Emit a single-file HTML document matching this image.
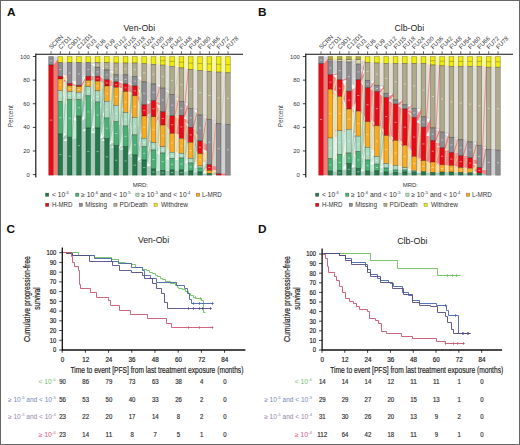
<!DOCTYPE html>
<html><head><meta charset="utf-8"><style>
html,body{margin:0;padding:0;background:#fff;}
body{width:520px;height:445px;overflow:hidden;}
svg{display:block;font-family:"Liberation Sans",sans-serif;}
</style></head><body>
<svg width="520" height="445" viewBox="0 0 520 445">
<rect x="0.5" y="0.5" width="519" height="444" fill="#fff" stroke="#666" stroke-width="1"/>
<polygon points="53.3,56.5 58.02,56.5 58.02,59 53.3,65" fill="#ddd8e6"/>
<polygon points="53.3,65 58.02,59 58.02,175.2 53.3,175.2" fill="#f07c76"/>
<g>
<polygon points="62.62,56.5 67.33,56.5 67.33,62.6 62.62,62.6" fill="#f9f79f" stroke="#f6f470" stroke-width="0.3"/>
<polygon points="62.62,62.6 67.33,62.6 67.33,74.94 62.62,74.94" fill="#d2d1d2" stroke="#bbbabb" stroke-width="0.3"/>
<polygon points="62.62,74.96 67.33,85.8 67.33,85.86 62.62,75.03" fill="#d2d1d2"/>
<polygon points="62.62,75.03 67.33,91.6 67.33,91.69 62.62,75.11" fill="#d2d1d2"/>
<polygon points="62.62,75.11 67.33,99.3 67.33,100.06 62.62,75.87" fill="#d2d1d2" stroke="#bbbabb" stroke-width="0.3"/>
<polygon points="62.62,75.87 67.33,137.2 67.33,137.63 62.62,76.3" fill="#d2d1d2" stroke="#bbbabb" stroke-width="0.3"/>
<polygon points="62.62,76.3 67.33,74.94 67.33,75.19 62.62,76.55" fill="#f5848a"/>
<polygon points="62.62,76.55 67.33,83.53 67.33,85.49 62.62,78.51" fill="#f5848a" stroke="#f0474f" stroke-width="0.3"/>
<polygon points="62.62,78.57 67.33,100.06 67.33,100.34 62.62,78.85" fill="#f5848a"/>
<polygon points="62.62,78.85 67.33,137.63 67.33,137.78 62.62,79" fill="#f5848a"/>
<polygon points="62.62,79 67.33,75.19 67.33,77.4 62.62,81.21" fill="#fddda5" stroke="#fccc78" stroke-width="0.3"/>
<polygon points="62.62,81.21 67.33,85.49 67.33,85.57 62.62,81.29" fill="#fddda5"/>
<polygon points="62.62,81.29 67.33,85.89 67.33,91.03 62.62,86.43" fill="#fddda5" stroke="#fccc78" stroke-width="0.3"/>
<polygon points="62.62,86.43 67.33,91.72 67.33,91.99 62.62,86.71" fill="#fddda5"/>
<polygon points="62.62,86.71 67.33,100.34 67.33,102.77 62.62,89.14" fill="#fddda5" stroke="#fccc78" stroke-width="0.3"/>
<polygon points="62.62,89.14 67.33,137.78 67.33,139.14 62.62,90.5" fill="#fddda5" stroke="#fccc78" stroke-width="0.3"/>
<polygon points="62.62,90.5 67.33,77.4 67.33,78.86 62.62,91.96" fill="#e6f4ec" stroke="#d9efe2" stroke-width="0.3"/>
<polygon points="62.62,91.96 67.33,85.57 67.33,85.63 62.62,92.02" fill="#e6f4ec"/>
<polygon points="62.62,92.02 67.33,91.03 67.33,91.16 62.62,92.16" fill="#e6f4ec"/>
<polygon points="62.62,92.16 67.33,91.99 67.33,98.72 62.62,98.88" fill="#e6f4ec" stroke="#d9efe2" stroke-width="0.3"/>
<polygon points="62.62,98.88 67.33,102.77 67.33,104.38 62.62,100.5" fill="#e6f4ec" stroke="#d9efe2" stroke-width="0.3"/>
<polygon points="62.62,100.5 67.33,139.14 67.33,140.04 62.62,101.4" fill="#e6f4ec" stroke="#d9efe2" stroke-width="0.3"/>
<polygon points="62.62,101.4 67.33,78.86 67.33,80.51 62.62,103.04" fill="#c8e8d6" stroke="#addcc1" stroke-width="0.3"/>
<polygon points="62.62,103.04 67.33,85.63 67.33,85.69 62.62,103.11" fill="#c8e8d6"/>
<polygon points="62.62,103.11 67.33,91.16 67.33,91.32 62.62,103.26" fill="#c8e8d6"/>
<polygon points="62.62,103.26 67.33,98.72 67.33,98.93 62.62,103.47" fill="#c8e8d6"/>
<polygon points="62.62,103.47 67.33,104.38 67.33,133.9 62.62,132.99" fill="#c8e8d6" stroke="#addcc1" stroke-width="0.3"/>
<polygon points="62.62,132.99 67.33,140.04 67.33,141.06 62.62,134" fill="#c8e8d6" stroke="#addcc1" stroke-width="0.3"/>
<polygon points="62.62,134 67.33,80.51 67.33,83.5 62.62,136.99" fill="#abccbb" stroke="#82b399" stroke-width="0.3"/>
<polygon points="62.62,136.99 67.33,85.69 67.33,85.8 62.62,137.11" fill="#abccbb"/>
<polygon points="62.62,137.11 67.33,91.32 67.33,91.6 62.62,137.39" fill="#abccbb"/>
<polygon points="62.62,137.39 67.33,98.93 67.33,99.3 62.62,137.76" fill="#abccbb"/>
<polygon points="62.62,137.76 67.33,133.9 67.33,137.2 62.62,141.06" fill="#abccbb" stroke="#82b399" stroke-width="0.3"/>
<polygon points="62.62,141.06 67.33,141.06 67.33,175.2 62.62,175.2" fill="#abccbb" stroke="#82b399" stroke-width="0.3"/>
<polygon points="71.93,56.5 76.65,56.5 76.65,62.6 71.93,62.6" fill="#f9f79f" stroke="#f6f470" stroke-width="0.3"/>
<polygon points="71.93,62.6 76.65,62.6 76.65,80.79 71.93,80.79" fill="#d2d1d2" stroke="#bbbabb" stroke-width="0.3"/>
<polygon points="71.93,80.81 76.65,86.7 76.65,86.77 71.93,80.88" fill="#d2d1d2"/>
<polygon points="71.93,80.88 76.65,92.3 76.65,92.39 71.93,80.97" fill="#d2d1d2"/>
<polygon points="71.93,80.97 76.65,99.3 76.65,99.52 71.93,81.19" fill="#d2d1d2"/>
<polygon points="71.93,81.19 76.65,116.1 76.65,118.41 71.93,83.5" fill="#d2d1d2" stroke="#bbbabb" stroke-width="0.3"/>
<polygon points="71.93,83.5 76.65,80.79 76.65,80.94 71.93,83.65" fill="#f5848a"/>
<polygon points="71.93,83.65 76.65,85.32 76.65,86.51 71.93,84.85" fill="#f5848a" stroke="#f0474f" stroke-width="0.3"/>
<polygon points="71.93,84.9 76.65,99.52 76.65,99.59 71.93,84.98" fill="#f5848a"/>
<polygon points="71.93,84.98 76.65,118.41 76.65,119.23 71.93,85.8" fill="#f5848a" stroke="#f0474f" stroke-width="0.3"/>
<polygon points="71.93,85.8 76.65,80.94 76.65,81.08 71.93,85.94" fill="#fddda5"/>
<polygon points="71.93,85.95 76.65,86.8 76.65,91.58 71.93,90.73" fill="#fddda5" stroke="#fccc78" stroke-width="0.3"/>
<polygon points="71.93,90.76 76.65,99.59 76.65,99.67 71.93,90.83" fill="#fddda5"/>
<polygon points="71.93,90.83 76.65,119.23 76.65,120 71.93,91.6" fill="#fddda5" stroke="#fccc78" stroke-width="0.3"/>
<polygon points="71.93,91.6 76.65,81.08 76.65,81.32 71.93,91.84" fill="#e6f4ec"/>
<polygon points="71.93,91.89 76.65,92.45 76.65,98.45 71.93,97.89" fill="#e6f4ec" stroke="#d9efe2" stroke-width="0.3"/>
<polygon points="71.93,97.89 76.65,99.67 76.65,99.79 71.93,98.01" fill="#e6f4ec"/>
<polygon points="71.93,98.01 76.65,120 76.65,121.29 71.93,99.3" fill="#e6f4ec" stroke="#d9efe2" stroke-width="0.3"/>
<polygon points="71.93,99.3 76.65,81.32 76.65,84.53 71.93,102.51" fill="#c8e8d6" stroke="#addcc1" stroke-width="0.3"/>
<polygon points="71.93,102.51 76.65,86.53 76.65,86.67 71.93,102.64" fill="#c8e8d6"/>
<polygon points="71.93,102.64 76.65,91.62 76.65,92.17 71.93,103.19" fill="#c8e8d6" stroke="#addcc1" stroke-width="0.3"/>
<polygon points="71.93,103.19 76.65,98.45 76.65,99.14 71.93,103.87" fill="#c8e8d6" stroke="#addcc1" stroke-width="0.3"/>
<polygon points="71.93,103.87 76.65,99.79 76.65,115.7 71.93,119.79" fill="#c8e8d6" stroke="#addcc1" stroke-width="0.3"/>
<polygon points="71.93,119.79 76.65,121.29 76.65,138.7 71.93,137.2" fill="#c8e8d6" stroke="#addcc1" stroke-width="0.3"/>
<polygon points="71.93,137.2 76.65,84.53 76.65,85.3 71.93,137.97" fill="#abccbb" stroke="#82b399" stroke-width="0.3"/>
<polygon points="71.93,138.01 76.65,92.17 76.65,92.3 71.93,138.14" fill="#abccbb"/>
<polygon points="71.93,138.14 76.65,99.14 76.65,99.3 71.93,138.3" fill="#abccbb"/>
<polygon points="71.93,138.3 76.65,115.7 76.65,116.1 71.93,138.7" fill="#abccbb"/>
<polygon points="71.93,138.7 76.65,138.7 76.65,175.2 71.93,175.2" fill="#abccbb" stroke="#82b399" stroke-width="0.3"/>
<polygon points="81.25,56.5 85.96,56.5 85.96,62.6 81.25,62.6" fill="#f9f79f" stroke="#f6f470" stroke-width="0.3"/>
<polygon points="81.25,62.6 85.96,62.6 85.96,74.9 81.25,74.9" fill="#d2d1d2" stroke="#bbbabb" stroke-width="0.3"/>
<polygon points="81.25,74.9 85.96,76.3 85.96,77.26 81.25,75.86" fill="#d2d1d2" stroke="#bbbabb" stroke-width="0.3"/>
<polygon points="81.25,75.86 85.96,80.5 85.96,80.96 81.25,76.32" fill="#d2d1d2" stroke="#bbbabb" stroke-width="0.3"/>
<polygon points="81.25,76.32 85.96,86.7 85.96,87.7 81.25,77.32" fill="#d2d1d2" stroke="#bbbabb" stroke-width="0.3"/>
<polygon points="81.25,77.32 85.96,95.8 85.96,101.52 81.25,83.04" fill="#d2d1d2" stroke="#bbbabb" stroke-width="0.3"/>
<polygon points="81.25,83.04 85.96,128 85.96,130.26 81.25,85.3" fill="#d2d1d2" stroke="#bbbabb" stroke-width="0.3"/>
<polygon points="81.25,85.31 85.96,77.26 85.96,78.47 81.25,86.52" fill="#f5848a" stroke="#f0474f" stroke-width="0.3"/>
<polygon points="81.25,86.55 85.96,101.52 85.96,101.63 81.25,86.66" fill="#f5848a"/>
<polygon points="81.25,86.75 85.96,78.47 85.96,78.54 81.25,86.82" fill="#fddda5"/>
<polygon points="81.25,86.82 85.96,80.97 85.96,85.76 81.25,91.62" fill="#fddda5" stroke="#fccc78" stroke-width="0.3"/>
<polygon points="81.25,91.62 85.96,87.72 85.96,87.8 81.25,91.69" fill="#fddda5"/>
<polygon points="81.25,91.69 85.96,101.63 85.96,102.06 81.25,92.13" fill="#fddda5" stroke="#fccc78" stroke-width="0.3"/>
<polygon points="81.25,92.13 85.96,130.3 85.96,130.47 81.25,92.3" fill="#fddda5"/>
<polygon points="81.25,92.3 85.96,74.96 85.96,75.03 81.25,92.36" fill="#e6f4ec"/>
<polygon points="81.25,92.36 85.96,78.54 85.96,78.63 81.25,92.45" fill="#e6f4ec"/>
<polygon points="81.25,92.5 85.96,87.8 85.96,93.85 81.25,98.54" fill="#e6f4ec" stroke="#d9efe2" stroke-width="0.3"/>
<polygon points="81.25,98.54 85.96,102.06 85.96,102.6 81.25,99.09" fill="#e6f4ec" stroke="#d9efe2" stroke-width="0.3"/>
<polygon points="81.25,99.09 85.96,130.47 85.96,130.69 81.25,99.3" fill="#e6f4ec"/>
<polygon points="81.25,99.3 85.96,75.03 85.96,75.17 81.25,99.45" fill="#c8e8d6"/>
<polygon points="81.25,99.45 85.96,78.63 85.96,78.85 81.25,99.67" fill="#c8e8d6"/>
<polygon points="81.25,99.67 85.96,85.81 85.96,85.91 81.25,99.77" fill="#c8e8d6"/>
<polygon points="81.25,99.77 85.96,93.85 85.96,94.07 81.25,100" fill="#c8e8d6"/>
<polygon points="81.25,100 85.96,102.6 85.96,118.19 81.25,115.59" fill="#c8e8d6" stroke="#addcc1" stroke-width="0.3"/>
<polygon points="81.25,115.59 85.96,130.69 85.96,131.2 81.25,116.1" fill="#c8e8d6" stroke="#addcc1" stroke-width="0.3"/>
<polygon points="81.25,116.1 85.96,75.17 85.96,76.3 81.25,117.23" fill="#abccbb" stroke="#82b399" stroke-width="0.3"/>
<polygon points="81.25,117.23 85.96,78.85 85.96,80.5 81.25,118.87" fill="#abccbb" stroke="#82b399" stroke-width="0.3"/>
<polygon points="81.25,118.87 85.96,85.91 85.96,86.7 81.25,119.66" fill="#abccbb" stroke="#82b399" stroke-width="0.3"/>
<polygon points="81.25,119.66 85.96,94.07 85.96,95.8 81.25,121.39" fill="#abccbb" stroke="#82b399" stroke-width="0.3"/>
<polygon points="81.25,121.39 85.96,118.19 85.96,128 81.25,131.2" fill="#abccbb" stroke="#82b399" stroke-width="0.3"/>
<polygon points="81.25,131.2 85.96,131.2 85.96,175.2 81.25,175.2" fill="#abccbb" stroke="#82b399" stroke-width="0.3"/>
<polygon points="90.56,56.5 95.28,56.5 95.28,62.6 90.56,62.6" fill="#f9f79f" stroke="#f6f470" stroke-width="0.3"/>
<polygon points="90.56,62.6 95.28,62.6 95.28,63.76 90.56,63.76" fill="#d2d1d2" stroke="#bbbabb" stroke-width="0.3"/>
<polygon points="90.56,63.76 95.28,67.5 95.28,75.29 90.56,71.55" fill="#d2d1d2" stroke="#bbbabb" stroke-width="0.3"/>
<polygon points="90.56,71.55 95.28,76.3 95.28,76.61 90.56,71.86" fill="#d2d1d2"/>
<polygon points="90.56,71.86 95.28,81.2 95.28,82.25 90.56,72.91" fill="#d2d1d2" stroke="#bbbabb" stroke-width="0.3"/>
<polygon points="90.56,72.91 95.28,90.9 95.28,91.7 90.56,73.71" fill="#d2d1d2" stroke="#bbbabb" stroke-width="0.3"/>
<polygon points="90.56,73.71 95.28,102 95.28,102.92 90.56,74.63" fill="#d2d1d2" stroke="#bbbabb" stroke-width="0.3"/>
<polygon points="90.56,74.63 95.28,128 95.28,129.67 90.56,76.3" fill="#d2d1d2" stroke="#bbbabb" stroke-width="0.3"/>
<polygon points="90.56,76.3 95.28,63.76 95.28,63.88 90.56,76.42" fill="#f5848a"/>
<polygon points="90.56,76.45 95.28,76.61 95.28,80.22 90.56,80.05" fill="#f5848a" stroke="#f0474f" stroke-width="0.3"/>
<polygon points="90.56,80.05 95.28,82.25 95.28,82.35 90.56,80.16" fill="#f5848a"/>
<polygon points="90.56,80.16 95.28,91.7 95.28,91.78 90.56,80.24" fill="#f5848a"/>
<polygon points="90.56,80.24 95.28,102.92 95.28,103.01 90.56,80.33" fill="#f5848a"/>
<polygon points="90.56,80.33 95.28,129.67 95.28,129.84 90.56,80.5" fill="#f5848a"/>
<polygon points="90.56,80.5 95.28,63.88 95.28,64.05 90.56,80.67" fill="#fddda5"/>
<polygon points="90.56,80.77 95.28,82.35 95.28,87.78 90.56,86.19" fill="#fddda5" stroke="#fccc78" stroke-width="0.3"/>
<polygon points="90.56,86.19 95.28,91.78 95.28,91.89 90.56,86.31" fill="#fddda5"/>
<polygon points="90.56,86.31 95.28,103.01 95.28,103.15 90.56,86.45" fill="#fddda5"/>
<polygon points="90.56,86.45 95.28,129.84 95.28,130.09 90.56,86.7" fill="#fddda5"/>
<polygon points="90.56,86.7 95.28,64.05 95.28,64.3 90.56,86.95" fill="#e6f4ec"/>
<polygon points="90.56,86.95 95.28,75.37 95.28,75.44 90.56,87.02" fill="#e6f4ec"/>
<polygon points="90.56,87.02 95.28,80.26 95.28,80.33 90.56,87.09" fill="#e6f4ec"/>
<polygon points="90.56,87.09 95.28,87.78 95.28,88.01 90.56,87.32" fill="#e6f4ec"/>
<polygon points="90.56,87.32 95.28,91.89 95.28,99.8 90.56,95.23" fill="#e6f4ec" stroke="#d9efe2" stroke-width="0.3"/>
<polygon points="90.56,95.23 95.28,103.15 95.28,103.35 90.56,95.43" fill="#e6f4ec"/>
<polygon points="90.56,95.43 95.28,130.09 95.28,130.46 90.56,95.8" fill="#e6f4ec"/>
<polygon points="90.56,95.8 95.28,64.3 95.28,66.18 90.56,97.68" fill="#c8e8d6" stroke="#addcc1" stroke-width="0.3"/>
<polygon points="90.56,97.68 95.28,75.44 95.28,75.94 90.56,98.19" fill="#c8e8d6" stroke="#addcc1" stroke-width="0.3"/>
<polygon points="90.56,98.19 95.28,80.33 95.28,80.84 90.56,98.7" fill="#c8e8d6" stroke="#addcc1" stroke-width="0.3"/>
<polygon points="90.56,98.7 95.28,88.01 95.28,89.71 90.56,100.4" fill="#c8e8d6" stroke="#addcc1" stroke-width="0.3"/>
<polygon points="90.56,100.4 95.28,99.8 95.28,101.09 90.56,101.69" fill="#c8e8d6" stroke="#addcc1" stroke-width="0.3"/>
<polygon points="90.56,101.69 95.28,103.35 95.28,126.95 90.56,125.28" fill="#c8e8d6" stroke="#addcc1" stroke-width="0.3"/>
<polygon points="90.56,125.28 95.28,130.46 95.28,133.18 90.56,128" fill="#c8e8d6" stroke="#addcc1" stroke-width="0.3"/>
<polygon points="90.56,128 95.28,66.18 95.28,67.5 90.56,129.32" fill="#abccbb" stroke="#82b399" stroke-width="0.3"/>
<polygon points="90.56,129.32 95.28,75.94 95.28,76.3 90.56,129.67" fill="#abccbb"/>
<polygon points="90.56,129.67 95.28,80.84 95.28,81.2 90.56,130.03" fill="#abccbb"/>
<polygon points="90.56,130.03 95.28,89.71 95.28,90.9 90.56,131.22" fill="#abccbb" stroke="#82b399" stroke-width="0.3"/>
<polygon points="90.56,131.22 95.28,101.09 95.28,102 90.56,132.13" fill="#abccbb" stroke="#82b399" stroke-width="0.3"/>
<polygon points="90.56,132.13 95.28,126.95 95.28,128 90.56,133.18" fill="#abccbb" stroke="#82b399" stroke-width="0.3"/>
<polygon points="90.56,133.18 95.28,133.18 95.28,175.2 90.56,175.2" fill="#abccbb" stroke="#82b399" stroke-width="0.3"/>
<polygon points="99.88,56.5 104.59,56.5 104.59,62.6 99.88,62.6" fill="#f9f79f" stroke="#f6f470" stroke-width="0.3"/>
<polygon points="99.88,62.6 104.59,62.6 104.59,67.5 99.88,67.5" fill="#e2e0d6" stroke="#d4d1c1" stroke-width="0.3"/>
<polygon points="99.88,67.5 104.59,67.5 104.59,67.61 99.88,67.61" fill="#d2d1d2"/>
<polygon points="99.88,67.61 104.59,70 104.59,77.58 99.88,75.19" fill="#d2d1d2" stroke="#bbbabb" stroke-width="0.3"/>
<polygon points="99.88,75.19 104.59,79.8 104.59,79.89 99.88,75.28" fill="#d2d1d2"/>
<polygon points="99.88,75.28 104.59,86 104.59,86.32 99.88,75.6" fill="#d2d1d2"/>
<polygon points="99.88,75.6 104.59,101.4 104.59,101.72 99.88,75.92" fill="#d2d1d2"/>
<polygon points="99.88,75.92 104.59,118 104.59,118.14 99.88,76.06" fill="#d2d1d2"/>
<polygon points="99.88,76.06 104.59,138.4 104.59,138.64 99.88,76.3" fill="#d2d1d2"/>
<polygon points="99.88,76.3 104.59,67.61 104.59,67.67 99.88,76.36" fill="#f5848a"/>
<polygon points="99.88,76.36 104.59,77.58 104.59,77.64 99.88,76.42" fill="#f5848a"/>
<polygon points="99.88,76.42 104.59,79.89 104.59,84.11 99.88,80.63" fill="#f5848a" stroke="#f0474f" stroke-width="0.3"/>
<polygon points="99.88,80.63 104.59,86.32 104.59,86.49 99.88,80.81" fill="#f5848a"/>
<polygon points="99.88,80.81 104.59,101.72 104.59,101.89 99.88,80.99" fill="#f5848a"/>
<polygon points="99.88,80.99 104.59,118.14 104.59,118.21 99.88,81.06" fill="#f5848a"/>
<polygon points="99.88,81.06 104.59,138.64 104.59,138.78 99.88,81.2" fill="#f5848a"/>
<polygon points="99.88,81.2 104.59,67.67 104.59,67.79 99.88,81.32" fill="#fddda5"/>
<polygon points="99.88,81.32 104.59,77.64 104.59,77.75 99.88,81.44" fill="#fddda5"/>
<polygon points="99.88,81.44 104.59,84.11 104.59,84.21 99.88,81.54" fill="#fddda5"/>
<polygon points="99.88,81.54 104.59,86.49 104.59,95.09 99.88,90.13" fill="#fddda5" stroke="#fccc78" stroke-width="0.3"/>
<polygon points="99.88,90.13 104.59,101.89 104.59,102.25 99.88,90.48" fill="#fddda5"/>
<polygon points="99.88,90.48 104.59,118.21 104.59,118.36 99.88,90.63" fill="#fddda5"/>
<polygon points="99.88,90.63 104.59,138.78 104.59,139.05 99.88,90.9" fill="#fddda5"/>
<polygon points="99.88,90.9 104.59,67.79 104.59,67.93 99.88,91.04" fill="#e6f4ec"/>
<polygon points="99.88,91.04 104.59,77.75 104.59,77.88 99.88,91.17" fill="#e6f4ec"/>
<polygon points="99.88,91.17 104.59,84.21 104.59,84.32 99.88,91.28" fill="#e6f4ec"/>
<polygon points="99.88,91.28 104.59,95.09 104.59,95.49 99.88,91.68" fill="#e6f4ec" stroke="#d9efe2" stroke-width="0.3"/>
<polygon points="99.88,91.68 104.59,102.25 104.59,112.08 99.88,101.52" fill="#e6f4ec" stroke="#d9efe2" stroke-width="0.3"/>
<polygon points="99.88,101.52 104.59,118.36 104.59,118.53 99.88,101.69" fill="#e6f4ec"/>
<polygon points="99.88,101.69 104.59,139.05 104.59,139.36 99.88,102" fill="#e6f4ec"/>
<polygon points="99.88,102 104.59,67.93 104.59,68.66 99.88,102.73" fill="#c8e8d6" stroke="#addcc1" stroke-width="0.3"/>
<polygon points="99.88,102.73 104.59,77.88 104.59,78.56 99.88,103.4" fill="#c8e8d6" stroke="#addcc1" stroke-width="0.3"/>
<polygon points="99.88,103.4 104.59,84.32 104.59,84.91 99.88,104" fill="#c8e8d6" stroke="#addcc1" stroke-width="0.3"/>
<polygon points="99.88,104 104.59,95.49 104.59,97.57 99.88,106.08" fill="#c8e8d6" stroke="#addcc1" stroke-width="0.3"/>
<polygon points="99.88,106.08 104.59,112.08 104.59,114.17 99.88,108.16" fill="#c8e8d6" stroke="#addcc1" stroke-width="0.3"/>
<polygon points="99.88,108.16 104.59,118.53 104.59,136.76 99.88,126.39" fill="#c8e8d6" stroke="#addcc1" stroke-width="0.3"/>
<polygon points="99.88,126.39 104.59,139.36 104.59,140.97 99.88,128" fill="#c8e8d6" stroke="#addcc1" stroke-width="0.3"/>
<polygon points="99.88,128 104.59,68.66 104.59,70 99.88,129.34" fill="#abccbb" stroke="#82b399" stroke-width="0.3"/>
<polygon points="99.88,129.34 104.59,78.56 104.59,79.8 99.88,130.58" fill="#abccbb" stroke="#82b399" stroke-width="0.3"/>
<polygon points="99.88,130.58 104.59,84.91 104.59,86 99.88,131.67" fill="#abccbb" stroke="#82b399" stroke-width="0.3"/>
<polygon points="99.88,131.67 104.59,97.57 104.59,101.4 99.88,135.5" fill="#abccbb" stroke="#82b399" stroke-width="0.3"/>
<polygon points="99.88,135.5 104.59,114.17 104.59,118 99.88,139.33" fill="#abccbb" stroke="#82b399" stroke-width="0.3"/>
<polygon points="99.88,139.33 104.59,136.76 104.59,138.4 99.88,140.97" fill="#abccbb" stroke="#82b399" stroke-width="0.3"/>
<polygon points="99.88,140.97 104.59,140.97 104.59,175.2 99.88,175.2" fill="#abccbb" stroke="#82b399" stroke-width="0.3"/>
<polygon points="109.19,56.5 113.91,56.5 113.91,62.6 109.19,62.6" fill="#f9f79f" stroke="#f6f470" stroke-width="0.3"/>
<polygon points="109.19,62.6 113.91,63 113.91,70.4 109.19,70" fill="#e2e0d6" stroke="#d4d1c1" stroke-width="0.3"/>
<polygon points="109.19,70 113.91,62.6 113.91,62.66 109.19,70.06" fill="#d2d1d2"/>
<polygon points="109.19,70.06 113.91,70.4 113.91,71.09 109.19,70.76" fill="#d2d1d2" stroke="#bbbabb" stroke-width="0.3"/>
<polygon points="109.19,70.76 113.91,74.9 113.91,81.01 109.19,76.87" fill="#d2d1d2" stroke="#bbbabb" stroke-width="0.3"/>
<polygon points="109.19,76.87 113.91,81.9 113.91,82.03 109.19,77" fill="#d2d1d2"/>
<polygon points="109.19,77 113.91,87.4 113.91,88.17 109.19,77.77" fill="#d2d1d2" stroke="#bbbabb" stroke-width="0.3"/>
<polygon points="109.19,77.77 113.91,105.5 113.91,105.87 109.19,78.14" fill="#d2d1d2"/>
<polygon points="109.19,78.14 113.91,121.7 113.91,122.67 109.19,79.11" fill="#d2d1d2" stroke="#bbbabb" stroke-width="0.3"/>
<polygon points="109.19,79.11 113.91,145.3 113.91,145.99 109.19,79.8" fill="#d2d1d2" stroke="#bbbabb" stroke-width="0.3"/>
<polygon points="109.19,79.82 113.91,71.09 113.91,71.37 109.19,80.1" fill="#f5848a"/>
<polygon points="109.19,80.1 113.91,81.01 113.91,81.08 109.19,80.16" fill="#f5848a"/>
<polygon points="109.19,80.16 113.91,82.03 113.91,86.75 109.19,84.89" fill="#f5848a" stroke="#f0474f" stroke-width="0.3"/>
<polygon points="109.19,84.89 113.91,88.17 113.91,88.48 109.19,85.2" fill="#f5848a"/>
<polygon points="109.19,85.2 113.91,105.87 113.91,106.02 109.19,85.34" fill="#f5848a"/>
<polygon points="109.19,85.34 113.91,122.67 113.91,123.05 109.19,85.73" fill="#f5848a"/>
<polygon points="109.19,85.73 113.91,145.99 113.91,146.27 109.19,86" fill="#f5848a"/>
<polygon points="109.19,86.04 113.91,71.37 113.91,71.79 109.19,86.45" fill="#fddda5" stroke="#fccc78" stroke-width="0.3"/>
<polygon points="109.19,86.45 113.91,81.08 113.91,81.17 109.19,86.55" fill="#fddda5"/>
<polygon points="109.19,86.55 113.91,86.75 113.91,86.83 109.19,86.63" fill="#fddda5"/>
<polygon points="109.19,86.63 113.91,88.48 113.91,102.03 109.19,100.18" fill="#fddda5" stroke="#fccc78" stroke-width="0.3"/>
<polygon points="109.19,100.18 113.91,106.02 113.91,106.25 109.19,100.41" fill="#fddda5"/>
<polygon points="109.19,100.41 113.91,123.05 113.91,123.63 109.19,100.98" fill="#fddda5" stroke="#fccc78" stroke-width="0.3"/>
<polygon points="109.19,100.98 113.91,146.27 113.91,146.68 109.19,101.4" fill="#fddda5" stroke="#fccc78" stroke-width="0.3"/>
<polygon points="109.19,101.45 113.91,71.79 113.91,72.3 109.19,101.96" fill="#e6f4ec" stroke="#d9efe2" stroke-width="0.3"/>
<polygon points="109.19,101.96 113.91,81.17 113.91,81.29 109.19,102.07" fill="#e6f4ec"/>
<polygon points="109.19,102.07 113.91,86.83 113.91,86.92 109.19,102.17" fill="#e6f4ec"/>
<polygon points="109.19,102.17 113.91,102.03 113.91,102.6 109.19,102.74" fill="#e6f4ec" stroke="#d9efe2" stroke-width="0.3"/>
<polygon points="109.19,102.74 113.91,106.25 113.91,120.29 109.19,116.78" fill="#e6f4ec" stroke="#d9efe2" stroke-width="0.3"/>
<polygon points="109.19,116.78 113.91,123.63 113.91,124.34 109.19,117.49" fill="#e6f4ec" stroke="#d9efe2" stroke-width="0.3"/>
<polygon points="109.19,117.49 113.91,146.68 113.91,147.19 109.19,118" fill="#e6f4ec" stroke="#d9efe2" stroke-width="0.3"/>
<polygon points="109.19,118.05 113.91,72.3 113.91,72.85 109.19,118.6" fill="#c8e8d6" stroke="#addcc1" stroke-width="0.3"/>
<polygon points="109.19,118.6 113.91,81.29 113.91,81.42 109.19,118.73" fill="#c8e8d6"/>
<polygon points="109.19,118.73 113.91,86.92 113.91,87.02 109.19,118.83" fill="#c8e8d6"/>
<polygon points="109.19,118.83 113.91,102.6 113.91,103.21 109.19,119.44" fill="#c8e8d6" stroke="#addcc1" stroke-width="0.3"/>
<polygon points="109.19,119.44 113.91,120.29 113.91,120.59 109.19,119.74" fill="#c8e8d6"/>
<polygon points="109.19,119.74 113.91,124.34 113.91,142.44 109.19,137.85" fill="#c8e8d6" stroke="#addcc1" stroke-width="0.3"/>
<polygon points="109.19,137.85 113.91,147.19 113.91,147.74 109.19,138.4" fill="#c8e8d6" stroke="#addcc1" stroke-width="0.3"/>
<polygon points="109.19,138.4 113.91,62.82 113.91,63 109.19,138.58" fill="#abccbb"/>
<polygon points="109.19,138.58 113.91,72.85 113.91,74.9 109.19,140.64" fill="#abccbb" stroke="#82b399" stroke-width="0.3"/>
<polygon points="109.19,140.64 113.91,81.42 113.91,81.9 109.19,141.11" fill="#abccbb" stroke="#82b399" stroke-width="0.3"/>
<polygon points="109.19,141.11 113.91,87.02 113.91,87.4 109.19,141.49" fill="#abccbb"/>
<polygon points="109.19,141.49 113.91,103.21 113.91,105.5 109.19,143.78" fill="#abccbb" stroke="#82b399" stroke-width="0.3"/>
<polygon points="109.19,143.78 113.91,120.59 113.91,121.7 109.19,144.88" fill="#abccbb" stroke="#82b399" stroke-width="0.3"/>
<polygon points="109.19,144.88 113.91,142.44 113.91,145.3 109.19,147.74" fill="#abccbb" stroke="#82b399" stroke-width="0.3"/>
<polygon points="109.19,147.74 113.91,147.74 113.91,175.2 109.19,175.2" fill="#abccbb" stroke="#82b399" stroke-width="0.3"/>
<polygon points="118.51,56.5 123.23,56.5 123.23,63 118.51,63" fill="#f9f79f" stroke="#f6f470" stroke-width="0.3"/>
<polygon points="118.51,63 123.23,63 123.23,74.9 118.51,74.9" fill="#e2e0d6" stroke="#d4d1c1" stroke-width="0.3"/>
<polygon points="118.51,74.9 123.23,74.9 123.23,81.01 118.51,81.01" fill="#d2d1d2" stroke="#bbbabb" stroke-width="0.3"/>
<polygon points="118.51,81.01 123.23,84 123.23,84.15 118.51,81.15" fill="#d2d1d2"/>
<polygon points="118.51,81.15 123.23,91.6 123.23,91.88 118.51,81.43" fill="#d2d1d2"/>
<polygon points="118.51,81.43 123.23,112.5 123.23,112.6 118.51,81.53" fill="#d2d1d2"/>
<polygon points="118.51,81.53 123.23,126 123.23,126.16 118.51,81.69" fill="#d2d1d2"/>
<polygon points="118.51,81.69 123.23,146.7 123.23,146.91 118.51,81.9" fill="#d2d1d2"/>
<polygon points="118.51,81.9 123.23,81.01 123.23,81.13 118.51,82.02" fill="#f5848a"/>
<polygon points="118.51,82.02 123.23,84.15 123.23,88.94 118.51,86.81" fill="#f5848a" stroke="#f0474f" stroke-width="0.3"/>
<polygon points="118.51,86.81 123.23,91.88 123.23,92.09 118.51,87.03" fill="#f5848a"/>
<polygon points="118.51,87.03 123.23,112.6 123.23,112.68 118.51,87.11" fill="#f5848a"/>
<polygon points="118.51,87.11 123.23,126.16 123.23,126.28 118.51,87.23" fill="#f5848a"/>
<polygon points="118.51,87.23 123.23,146.91 123.23,147.08 118.51,87.4" fill="#f5848a"/>
<polygon points="118.51,87.4 123.23,81.13 123.23,81.54 118.51,87.81" fill="#fddda5" stroke="#fccc78" stroke-width="0.3"/>
<polygon points="118.51,87.81 123.23,88.94 123.23,89.31 118.51,88.19" fill="#fddda5"/>
<polygon points="118.51,88.19 123.23,92.09 123.23,108.19 118.51,104.28" fill="#fddda5" stroke="#fccc78" stroke-width="0.3"/>
<polygon points="118.51,104.28 123.23,112.68 123.23,112.94 118.51,104.55" fill="#fddda5"/>
<polygon points="118.51,104.55 123.23,126.28 123.23,126.68 118.51,104.95" fill="#fddda5" stroke="#fccc78" stroke-width="0.3"/>
<polygon points="118.51,104.95 123.23,147.08 123.23,147.63 118.51,105.5" fill="#fddda5" stroke="#fccc78" stroke-width="0.3"/>
<polygon points="118.51,105.5 123.23,81.54 123.23,82.25 118.51,106.21" fill="#e6f4ec" stroke="#d9efe2" stroke-width="0.3"/>
<polygon points="118.51,106.21 123.23,89.31 123.23,89.97 118.51,106.87" fill="#e6f4ec" stroke="#d9efe2" stroke-width="0.3"/>
<polygon points="118.51,106.87 123.23,108.19 123.23,109.43 118.51,108.11" fill="#e6f4ec" stroke="#d9efe2" stroke-width="0.3"/>
<polygon points="118.51,108.11 123.23,112.94 123.23,124.87 118.51,120.04" fill="#e6f4ec" stroke="#d9efe2" stroke-width="0.3"/>
<polygon points="118.51,120.04 123.23,126.68 123.23,127.38 118.51,120.74" fill="#e6f4ec" stroke="#d9efe2" stroke-width="0.3"/>
<polygon points="118.51,120.74 123.23,147.63 123.23,148.6 118.51,121.7" fill="#e6f4ec" stroke="#d9efe2" stroke-width="0.3"/>
<polygon points="118.51,121.7 123.23,82.25 123.23,83.15 118.51,122.6" fill="#c8e8d6" stroke="#addcc1" stroke-width="0.3"/>
<polygon points="118.51,122.6 123.23,89.97 123.23,90.81 118.51,123.44" fill="#c8e8d6" stroke="#addcc1" stroke-width="0.3"/>
<polygon points="118.51,123.44 123.23,109.43 123.23,111.01 118.51,125.01" fill="#c8e8d6" stroke="#addcc1" stroke-width="0.3"/>
<polygon points="118.51,125.01 123.23,124.87 123.23,125.45 118.51,125.59" fill="#c8e8d6" stroke="#addcc1" stroke-width="0.3"/>
<polygon points="118.51,125.59 123.23,127.38 123.23,145.86 118.51,144.08" fill="#c8e8d6" stroke="#addcc1" stroke-width="0.3"/>
<polygon points="118.51,144.08 123.23,148.6 123.23,149.82 118.51,145.3" fill="#c8e8d6" stroke="#addcc1" stroke-width="0.3"/>
<polygon points="118.51,145.3 123.23,83.15 123.23,84 118.51,146.15" fill="#abccbb" stroke="#82b399" stroke-width="0.3"/>
<polygon points="118.51,146.15 123.23,90.81 123.23,91.6 118.51,146.94" fill="#abccbb" stroke="#82b399" stroke-width="0.3"/>
<polygon points="118.51,146.94 123.23,111.01 123.23,112.5 118.51,148.43" fill="#abccbb" stroke="#82b399" stroke-width="0.3"/>
<polygon points="118.51,148.43 123.23,125.45 123.23,126 118.51,148.98" fill="#abccbb" stroke="#82b399" stroke-width="0.3"/>
<polygon points="118.51,148.98 123.23,145.86 123.23,146.7 118.51,149.82" fill="#abccbb" stroke="#82b399" stroke-width="0.3"/>
<polygon points="118.51,149.82 123.23,149.82 123.23,175.2 118.51,175.2" fill="#abccbb" stroke="#82b399" stroke-width="0.3"/>
<polygon points="127.83,56.5 132.54,56.5 132.54,63 127.83,63" fill="#f9f79f" stroke="#f6f470" stroke-width="0.3"/>
<polygon points="127.83,63 132.54,63 132.54,74.9 127.83,74.9" fill="#e2e0d6" stroke="#d4d1c1" stroke-width="0.3"/>
<polygon points="127.83,74.9 132.54,74.9 132.54,74.98 127.83,74.98" fill="#d2d1d2"/>
<polygon points="127.83,74.98 132.54,76.3 132.54,84.15 127.83,82.84" fill="#d2d1d2" stroke="#bbbabb" stroke-width="0.3"/>
<polygon points="127.83,82.84 132.54,86 132.54,86.2 127.83,83.04" fill="#d2d1d2"/>
<polygon points="127.83,83.04 132.54,95.8 132.54,96.04 127.83,83.28" fill="#d2d1d2"/>
<polygon points="127.83,83.28 132.54,117.5 132.54,117.86 127.83,83.64" fill="#d2d1d2"/>
<polygon points="127.83,83.64 132.54,134.9 132.54,135.08 127.83,83.82" fill="#d2d1d2"/>
<polygon points="127.83,83.82 132.54,155 132.54,155.18 127.83,84" fill="#d2d1d2"/>
<polygon points="127.83,84 132.54,74.98 132.54,75.06 127.83,84.07" fill="#f5848a"/>
<polygon points="127.83,84.07 132.54,84.15 132.54,84.25 127.83,84.17" fill="#f5848a"/>
<polygon points="127.83,84.17 132.54,86.2 132.54,92.83 127.83,90.8" fill="#f5848a" stroke="#f0474f" stroke-width="0.3"/>
<polygon points="127.83,90.8 132.54,96.04 132.54,96.24 127.83,91" fill="#f5848a"/>
<polygon points="127.83,91 132.54,117.86 132.54,118.16 127.83,91.3" fill="#f5848a"/>
<polygon points="127.83,91.3 132.54,135.08 132.54,135.23 127.83,91.45" fill="#f5848a"/>
<polygon points="127.83,91.45 132.54,155.18 132.54,155.34 127.83,91.6" fill="#f5848a"/>
<polygon points="127.83,91.6 132.54,75.06 132.54,75.25 127.83,91.79" fill="#fddda5"/>
<polygon points="127.83,91.79 132.54,84.25 132.54,84.53 127.83,92.07" fill="#fddda5"/>
<polygon points="127.83,92.07 132.54,92.83 132.54,93.29 127.83,92.53" fill="#fddda5" stroke="#fccc78" stroke-width="0.3"/>
<polygon points="127.83,92.53 132.54,96.24 132.54,114.55 127.83,110.84" fill="#fddda5" stroke="#fccc78" stroke-width="0.3"/>
<polygon points="127.83,110.84 132.54,118.16 132.54,118.98 127.83,111.66" fill="#fddda5" stroke="#fccc78" stroke-width="0.3"/>
<polygon points="127.83,111.66 132.54,135.23 132.54,135.65 127.83,112.08" fill="#fddda5" stroke="#fccc78" stroke-width="0.3"/>
<polygon points="127.83,112.08 132.54,155.34 132.54,155.76 127.83,112.5" fill="#fddda5" stroke="#fccc78" stroke-width="0.3"/>
<polygon points="127.83,112.5 132.54,75.25 132.54,75.37 127.83,112.63" fill="#e6f4ec"/>
<polygon points="127.83,112.63 132.54,84.53 132.54,84.7 127.83,112.8" fill="#e6f4ec"/>
<polygon points="127.83,112.8 132.54,93.29 132.54,93.59 127.83,113.1" fill="#e6f4ec"/>
<polygon points="127.83,113.1 132.54,114.55 132.54,114.9 127.83,113.45" fill="#e6f4ec"/>
<polygon points="127.83,113.45 132.54,118.98 132.54,130.98 127.83,125.46" fill="#e6f4ec" stroke="#d9efe2" stroke-width="0.3"/>
<polygon points="127.83,125.46 132.54,135.65 132.54,135.92 127.83,125.73" fill="#e6f4ec"/>
<polygon points="127.83,125.73 132.54,155.76 132.54,156.03 127.83,126" fill="#e6f4ec"/>
<polygon points="127.83,126 132.54,75.37 132.54,75.6 127.83,126.22" fill="#c8e8d6"/>
<polygon points="127.83,126.22 132.54,84.7 132.54,85.02 127.83,126.54" fill="#c8e8d6"/>
<polygon points="127.83,126.54 132.54,93.59 132.54,94.13 127.83,127.07" fill="#c8e8d6" stroke="#addcc1" stroke-width="0.3"/>
<polygon points="127.83,127.07 132.54,114.9 132.54,115.53 127.83,127.7" fill="#c8e8d6" stroke="#addcc1" stroke-width="0.3"/>
<polygon points="127.83,127.7 132.54,130.98 132.54,131.93 127.83,128.65" fill="#c8e8d6" stroke="#addcc1" stroke-width="0.3"/>
<polygon points="127.83,128.65 132.54,135.92 132.54,153.49 127.83,146.22" fill="#c8e8d6" stroke="#addcc1" stroke-width="0.3"/>
<polygon points="127.83,146.22 132.54,156.03 132.54,156.51 127.83,146.7" fill="#c8e8d6" stroke="#addcc1" stroke-width="0.3"/>
<polygon points="127.83,146.7 132.54,75.6 132.54,76.3 127.83,147.4" fill="#abccbb" stroke="#82b399" stroke-width="0.3"/>
<polygon points="127.83,147.4 132.54,85.02 132.54,86 127.83,148.39" fill="#abccbb" stroke="#82b399" stroke-width="0.3"/>
<polygon points="127.83,148.39 132.54,94.13 132.54,95.8 127.83,150.06" fill="#abccbb" stroke="#82b399" stroke-width="0.3"/>
<polygon points="127.83,150.06 132.54,115.53 132.54,117.5 127.83,152.03" fill="#abccbb" stroke="#82b399" stroke-width="0.3"/>
<polygon points="127.83,152.03 132.54,131.93 132.54,134.9 127.83,155" fill="#abccbb" stroke="#82b399" stroke-width="0.3"/>
<polygon points="127.83,155 132.54,153.49 132.54,155 127.83,156.51" fill="#abccbb" stroke="#82b399" stroke-width="0.3"/>
<polygon points="127.83,156.51 132.54,156.51 132.54,175.2 127.83,175.2" fill="#abccbb" stroke="#82b399" stroke-width="0.3"/>
<polygon points="137.14,56.5 141.86,56.5 141.86,63 137.14,63" fill="#f9f79f" stroke="#f6f470" stroke-width="0.3"/>
<polygon points="137.14,63 141.86,63.7 141.86,77 137.14,76.3" fill="#e2e0d6" stroke="#d4d1c1" stroke-width="0.3"/>
<polygon points="137.14,76.33 141.86,77 141.86,77.22 137.14,76.55" fill="#d2d1d2"/>
<polygon points="137.14,76.55 141.86,81.9 141.86,90.8 137.14,85.45" fill="#d2d1d2" stroke="#bbbabb" stroke-width="0.3"/>
<polygon points="137.14,85.45 141.86,104.8 141.86,104.93 137.14,85.58" fill="#d2d1d2"/>
<polygon points="137.14,85.58 141.86,116 141.86,116.18 137.14,85.75" fill="#d2d1d2"/>
<polygon points="137.14,85.75 141.86,138.4 141.86,138.46 137.14,85.81" fill="#d2d1d2"/>
<polygon points="137.14,85.81 141.86,146.7 141.86,146.79 137.14,85.9" fill="#d2d1d2"/>
<polygon points="137.14,85.9 141.86,160 141.86,160.1 137.14,86" fill="#d2d1d2"/>
<polygon points="137.14,86.03 141.86,77.22 141.86,77.44 137.14,86.25" fill="#f5848a"/>
<polygon points="137.14,86.25 141.86,90.8 141.86,91.46 137.14,86.91" fill="#f5848a" stroke="#f0474f" stroke-width="0.3"/>
<polygon points="137.14,86.91 141.86,104.93 141.86,113.39 137.14,95.37" fill="#f5848a" stroke="#f0474f" stroke-width="0.3"/>
<polygon points="137.14,95.37 141.86,116.18 141.86,116.35 137.14,95.55" fill="#f5848a"/>
<polygon points="137.14,95.55 141.86,138.46 141.86,138.51 137.14,95.61" fill="#f5848a"/>
<polygon points="137.14,95.61 141.86,146.79 141.86,146.88 137.14,95.7" fill="#f5848a"/>
<polygon points="137.14,95.7 141.86,160.1 141.86,160.2 137.14,95.8" fill="#f5848a"/>
<polygon points="137.14,95.8 141.86,63.06 141.86,63.13 137.14,95.87" fill="#fddda5"/>
<polygon points="137.14,95.87 141.86,77.44 141.86,77.93 137.14,96.36" fill="#fddda5" stroke="#fccc78" stroke-width="0.3"/>
<polygon points="137.14,96.36 141.86,91.46 141.86,92.92 137.14,97.82" fill="#fddda5" stroke="#fccc78" stroke-width="0.3"/>
<polygon points="137.14,97.82 141.86,113.39 141.86,113.67 137.14,98.11" fill="#fddda5"/>
<polygon points="137.14,98.11 141.86,116.35 141.86,135.19 137.14,116.95" fill="#fddda5" stroke="#fccc78" stroke-width="0.3"/>
<polygon points="137.14,116.95 141.86,138.51 141.86,138.64 137.14,117.07" fill="#fddda5"/>
<polygon points="137.14,117.07 141.86,146.88 141.86,147.08 137.14,117.27" fill="#fddda5"/>
<polygon points="137.14,117.27 141.86,160.2 141.86,160.43 137.14,117.5" fill="#fddda5"/>
<polygon points="137.14,117.5 141.86,63.13 141.86,63.35 137.14,117.72" fill="#e6f4ec"/>
<polygon points="137.14,117.72 141.86,77.93 141.86,79.48 137.14,119.28" fill="#e6f4ec" stroke="#d9efe2" stroke-width="0.3"/>
<polygon points="137.14,119.28 141.86,92.92 141.86,97.57 137.14,123.93" fill="#e6f4ec" stroke="#d9efe2" stroke-width="0.3"/>
<polygon points="137.14,123.93 141.86,113.67 141.86,114.58 137.14,124.84" fill="#e6f4ec" stroke="#d9efe2" stroke-width="0.3"/>
<polygon points="137.14,124.84 141.86,135.19 141.86,136.45 137.14,126.09" fill="#e6f4ec" stroke="#d9efe2" stroke-width="0.3"/>
<polygon points="137.14,126.09 141.86,138.64 141.86,146.09 137.14,133.54" fill="#e6f4ec" stroke="#d9efe2" stroke-width="0.3"/>
<polygon points="137.14,133.54 141.86,147.08 141.86,147.71 137.14,134.18" fill="#e6f4ec" stroke="#d9efe2" stroke-width="0.3"/>
<polygon points="137.14,134.18 141.86,160.43 141.86,161.16 137.14,134.9" fill="#e6f4ec" stroke="#d9efe2" stroke-width="0.3"/>
<polygon points="137.14,134.9 141.86,63.35 141.86,63.54 137.14,135.09" fill="#c8e8d6"/>
<polygon points="137.14,135.09 141.86,79.48 141.86,80.81 137.14,136.41" fill="#c8e8d6" stroke="#addcc1" stroke-width="0.3"/>
<polygon points="137.14,136.41 141.86,97.57 141.86,101.53 137.14,140.36" fill="#c8e8d6" stroke="#addcc1" stroke-width="0.3"/>
<polygon points="137.14,140.36 141.86,114.58 141.86,115.36 137.14,141.14" fill="#c8e8d6" stroke="#addcc1" stroke-width="0.3"/>
<polygon points="137.14,141.14 141.86,136.45 141.86,137.52 137.14,142.21" fill="#c8e8d6" stroke="#addcc1" stroke-width="0.3"/>
<polygon points="137.14,142.21 141.86,146.09 141.86,146.42 137.14,142.54" fill="#c8e8d6"/>
<polygon points="137.14,142.54 141.86,147.71 141.86,159.55 137.14,154.38" fill="#c8e8d6" stroke="#addcc1" stroke-width="0.3"/>
<polygon points="137.14,154.38 141.86,161.16 141.86,161.77 137.14,155" fill="#c8e8d6" stroke="#addcc1" stroke-width="0.3"/>
<polygon points="137.14,155 141.86,63.54 141.86,63.7 137.14,155.16" fill="#abccbb"/>
<polygon points="137.14,155.16 141.86,80.81 141.86,81.9 137.14,156.25" fill="#abccbb" stroke="#82b399" stroke-width="0.3"/>
<polygon points="137.14,156.25 141.86,101.53 141.86,104.8 137.14,159.52" fill="#abccbb" stroke="#82b399" stroke-width="0.3"/>
<polygon points="137.14,159.52 141.86,115.36 141.86,116 137.14,160.16" fill="#abccbb" stroke="#82b399" stroke-width="0.3"/>
<polygon points="137.14,160.16 141.86,137.52 141.86,138.4 137.14,161.05" fill="#abccbb" stroke="#82b399" stroke-width="0.3"/>
<polygon points="137.14,161.05 141.86,146.42 141.86,146.7 137.14,161.33" fill="#abccbb"/>
<polygon points="137.14,161.33 141.86,159.55 141.86,160 137.14,161.77" fill="#abccbb" stroke="#82b399" stroke-width="0.3"/>
<polygon points="137.14,161.77 141.86,161.77 141.86,175.2 137.14,175.2" fill="#abccbb" stroke="#82b399" stroke-width="0.3"/>
<polygon points="146.46,56.5 151.17,56.5 151.17,63.7 146.46,63.7" fill="#f9f79f" stroke="#f6f470" stroke-width="0.3"/>
<polygon points="146.46,63.7 151.17,64.4 151.17,82.6 146.46,81.9" fill="#e2e0d6" stroke="#d4d1c1" stroke-width="0.3"/>
<polygon points="146.46,81.9 151.17,63.7 151.17,63.92 146.46,82.12" fill="#d2d1d2"/>
<polygon points="146.46,82.12 151.17,82.6 151.17,83.04 146.46,82.56" fill="#d2d1d2" stroke="#bbbabb" stroke-width="0.3"/>
<polygon points="146.46,82.56 151.17,84 151.17,98.98 146.46,97.54" fill="#d2d1d2" stroke="#bbbabb" stroke-width="0.3"/>
<polygon points="146.46,97.54 151.17,100.7 151.17,102.77 146.46,99.61" fill="#d2d1d2" stroke="#bbbabb" stroke-width="0.3"/>
<polygon points="146.46,99.61 151.17,116.8 151.17,118.93 146.46,101.74" fill="#d2d1d2" stroke="#bbbabb" stroke-width="0.3"/>
<polygon points="146.46,101.74 151.17,142.6 151.17,142.95 146.46,102.09" fill="#d2d1d2"/>
<polygon points="146.46,102.09 151.17,150 151.17,152.42 146.46,104.51" fill="#d2d1d2" stroke="#bbbabb" stroke-width="0.3"/>
<polygon points="146.46,104.51 151.17,169 151.17,169.29 146.46,104.8" fill="#d2d1d2"/>
<polygon points="146.46,104.84 151.17,83.04 151.17,83.13 146.46,104.93" fill="#f5848a"/>
<polygon points="146.46,104.93 151.17,98.98 151.17,99.13 146.46,105.08" fill="#f5848a"/>
<polygon points="146.46,105.08 151.17,102.77 151.17,112.69 146.46,115" fill="#f5848a" stroke="#f0474f" stroke-width="0.3"/>
<polygon points="146.46,115 151.17,118.93 151.17,119.34 146.46,115.41" fill="#f5848a" stroke="#f0474f" stroke-width="0.3"/>
<polygon points="146.46,115.41 151.17,142.95 151.17,143.02 146.46,115.48" fill="#f5848a"/>
<polygon points="146.46,115.48 151.17,152.42 151.17,152.89 146.46,115.94" fill="#f5848a" stroke="#f0474f" stroke-width="0.3"/>
<polygon points="146.46,115.94 151.17,169.29 151.17,169.35 146.46,116" fill="#f5848a"/>
<polygon points="146.46,116 151.17,63.96 151.17,64.05 146.46,116.08" fill="#fddda5"/>
<polygon points="146.46,116.08 151.17,83.13 151.17,83.3 146.46,116.25" fill="#fddda5"/>
<polygon points="146.46,116.25 151.17,99.13 151.17,99.44 146.46,116.56" fill="#fddda5"/>
<polygon points="146.46,116.56 151.17,112.69 151.17,113.49 146.46,117.36" fill="#fddda5" stroke="#fccc78" stroke-width="0.3"/>
<polygon points="146.46,117.36 151.17,119.34 151.17,139.2 146.46,137.22" fill="#fddda5" stroke="#fccc78" stroke-width="0.3"/>
<polygon points="146.46,137.22 151.17,143.02 151.17,143.15 146.46,137.35" fill="#fddda5"/>
<polygon points="146.46,137.35 151.17,152.89 151.17,153.82 146.46,138.29" fill="#fddda5" stroke="#fccc78" stroke-width="0.3"/>
<polygon points="146.46,138.29 151.17,169.35 151.17,169.46 146.46,138.4" fill="#fddda5"/>
<polygon points="146.46,138.4 151.17,64.05 151.17,64.1 146.46,138.45" fill="#e6f4ec"/>
<polygon points="146.46,138.45 151.17,83.3 151.17,83.4 146.46,138.55" fill="#e6f4ec"/>
<polygon points="146.46,138.55 151.17,99.44 151.17,99.62 146.46,138.73" fill="#e6f4ec"/>
<polygon points="146.46,138.73 151.17,113.49 151.17,113.97 146.46,139.21" fill="#e6f4ec" stroke="#d9efe2" stroke-width="0.3"/>
<polygon points="146.46,139.21 151.17,139.2 151.17,139.69 146.46,139.7" fill="#e6f4ec" stroke="#d9efe2" stroke-width="0.3"/>
<polygon points="146.46,139.7 151.17,143.15 151.17,149.52 146.46,146.07" fill="#e6f4ec" stroke="#d9efe2" stroke-width="0.3"/>
<polygon points="146.46,146.07 151.17,153.82 151.17,154.38 146.46,146.63" fill="#e6f4ec" stroke="#d9efe2" stroke-width="0.3"/>
<polygon points="146.46,146.63 151.17,169.46 151.17,169.53 146.46,146.7" fill="#e6f4ec"/>
<polygon points="146.46,146.7 151.17,64.1 151.17,64.15 146.46,146.75" fill="#c8e8d6"/>
<polygon points="146.46,146.75 151.17,83.4 151.17,83.5 146.46,146.85" fill="#c8e8d6"/>
<polygon points="146.46,146.85 151.17,99.62 151.17,99.8 146.46,147.03" fill="#c8e8d6"/>
<polygon points="146.46,147.03 151.17,113.97 151.17,114.44 146.46,147.51" fill="#c8e8d6" stroke="#addcc1" stroke-width="0.3"/>
<polygon points="146.46,147.51 151.17,139.69 151.17,140.17 146.46,147.99" fill="#c8e8d6" stroke="#addcc1" stroke-width="0.3"/>
<polygon points="146.46,147.99 151.17,149.52 151.17,149.6 146.46,148.07" fill="#c8e8d6"/>
<polygon points="146.46,148.07 151.17,154.38 151.17,166.24 146.46,159.93" fill="#c8e8d6" stroke="#addcc1" stroke-width="0.3"/>
<polygon points="146.46,159.93 151.17,169.53 151.17,169.6 146.46,160" fill="#c8e8d6"/>
<polygon points="146.46,160 151.17,64.15 151.17,64.4 146.46,160.25" fill="#abccbb"/>
<polygon points="146.46,160.25 151.17,83.5 151.17,84 146.46,160.75" fill="#abccbb" stroke="#82b399" stroke-width="0.3"/>
<polygon points="146.46,160.75 151.17,99.8 151.17,100.7 146.46,161.65" fill="#abccbb" stroke="#82b399" stroke-width="0.3"/>
<polygon points="146.46,161.65 151.17,114.44 151.17,116.8 146.46,164.01" fill="#abccbb" stroke="#82b399" stroke-width="0.3"/>
<polygon points="146.46,164.01 151.17,140.17 151.17,142.6 146.46,166.44" fill="#abccbb" stroke="#82b399" stroke-width="0.3"/>
<polygon points="146.46,166.44 151.17,149.6 151.17,150 146.46,166.84" fill="#abccbb"/>
<polygon points="146.46,166.84 151.17,166.24 151.17,169 146.46,169.6" fill="#abccbb" stroke="#82b399" stroke-width="0.3"/>
<polygon points="146.46,169.6 151.17,169.6 151.17,175.2 146.46,175.2" fill="#abccbb" stroke="#82b399" stroke-width="0.3"/>
<polygon points="155.77,56.5 160.49,56.5 160.49,64.4 155.77,64.4" fill="#f9f79f" stroke="#f6f470" stroke-width="0.3"/>
<polygon points="155.77,64.4 160.49,65.1 160.49,84.7 155.77,84" fill="#e2e0d6" stroke="#d4d1c1" stroke-width="0.3"/>
<polygon points="155.77,84 160.49,64.4 160.49,64.48 155.77,84.08" fill="#d2d1d2"/>
<polygon points="155.77,84.08 160.49,84.7 160.49,85.07 155.77,84.44" fill="#d2d1d2"/>
<polygon points="155.77,84.44 160.49,88.1 160.49,103.33 155.77,99.67" fill="#d2d1d2" stroke="#bbbabb" stroke-width="0.3"/>
<polygon points="155.77,99.67 160.49,111.8 160.49,112.02 155.77,99.89" fill="#d2d1d2"/>
<polygon points="155.77,99.89 160.49,125.1 160.49,125.45 155.77,100.24" fill="#d2d1d2"/>
<polygon points="155.77,100.24 160.49,146.7 160.49,146.8 155.77,100.34" fill="#d2d1d2"/>
<polygon points="155.77,100.34 160.49,153 160.49,153.28 155.77,100.62" fill="#d2d1d2"/>
<polygon points="155.77,100.62 160.49,170.4 160.49,170.48 155.77,100.7" fill="#d2d1d2"/>
<polygon points="155.77,100.7 160.49,64.48 160.49,64.62 155.77,100.85" fill="#f5848a"/>
<polygon points="155.77,100.85 160.49,85.07 160.49,85.77 155.77,101.55" fill="#f5848a" stroke="#f0474f" stroke-width="0.3"/>
<polygon points="155.77,101.55 160.49,103.33 160.49,105.3 155.77,103.52" fill="#f5848a" stroke="#f0474f" stroke-width="0.3"/>
<polygon points="155.77,103.52 160.49,112.02 160.49,123.74 155.77,115.24" fill="#f5848a" stroke="#f0474f" stroke-width="0.3"/>
<polygon points="155.77,115.24 160.49,125.45 160.49,126.12 155.77,115.91" fill="#f5848a" stroke="#f0474f" stroke-width="0.3"/>
<polygon points="155.77,115.91 160.49,146.8 160.49,147 155.77,116.11" fill="#f5848a"/>
<polygon points="155.77,116.11 160.49,153.28 160.49,153.82 155.77,116.65" fill="#f5848a" stroke="#f0474f" stroke-width="0.3"/>
<polygon points="155.77,116.65 160.49,170.48 160.49,170.63 155.77,116.8" fill="#f5848a"/>
<polygon points="155.77,116.8 160.49,64.62 160.49,64.85 155.77,117.03" fill="#fddda5"/>
<polygon points="155.77,117.03 160.49,85.77 160.49,86.87 155.77,118.12" fill="#fddda5" stroke="#fccc78" stroke-width="0.3"/>
<polygon points="155.77,118.12 160.49,105.3 160.49,108.36 155.77,121.18" fill="#fddda5" stroke="#fccc78" stroke-width="0.3"/>
<polygon points="155.77,121.18 160.49,123.74 160.49,124.38 155.77,121.82" fill="#fddda5" stroke="#fccc78" stroke-width="0.3"/>
<polygon points="155.77,121.82 160.49,126.12 160.49,145.53 155.77,141.22" fill="#fddda5" stroke="#fccc78" stroke-width="0.3"/>
<polygon points="155.77,141.22 160.49,147 160.49,147.3 155.77,141.53" fill="#fddda5"/>
<polygon points="155.77,141.53 160.49,153.82 160.49,154.66 155.77,142.37" fill="#fddda5" stroke="#fccc78" stroke-width="0.3"/>
<polygon points="155.77,142.37 160.49,170.63 160.49,170.86 155.77,142.6" fill="#fddda5"/>
<polygon points="155.77,142.6 160.49,64.85 160.49,64.91 155.77,142.66" fill="#e6f4ec"/>
<polygon points="155.77,142.66 160.49,86.87 160.49,87.17 155.77,142.96" fill="#e6f4ec"/>
<polygon points="155.77,142.96 160.49,108.36 160.49,109.2 155.77,143.8" fill="#e6f4ec" stroke="#d9efe2" stroke-width="0.3"/>
<polygon points="155.77,143.8 160.49,124.38 160.49,124.55 155.77,143.98" fill="#e6f4ec"/>
<polygon points="155.77,143.98 160.49,145.53 160.49,145.81 155.77,144.27" fill="#e6f4ec"/>
<polygon points="155.77,144.27 160.49,147.3 160.49,152.74 155.77,149.71" fill="#e6f4ec" stroke="#d9efe2" stroke-width="0.3"/>
<polygon points="155.77,149.71 160.49,154.66 160.49,154.9 155.77,149.94" fill="#e6f4ec"/>
<polygon points="155.77,149.94 160.49,170.86 160.49,170.92 155.77,150" fill="#e6f4ec"/>
<polygon points="155.77,150 160.49,64.91 160.49,65.04 155.77,150.13" fill="#c8e8d6"/>
<polygon points="155.77,150.13 160.49,87.17 160.49,87.79 155.77,150.75" fill="#c8e8d6" stroke="#addcc1" stroke-width="0.3"/>
<polygon points="155.77,150.75 160.49,109.2 160.49,110.93 155.77,152.48" fill="#c8e8d6" stroke="#addcc1" stroke-width="0.3"/>
<polygon points="155.77,152.48 160.49,124.55 160.49,124.92 155.77,152.84" fill="#c8e8d6"/>
<polygon points="155.77,152.84 160.49,145.81 160.49,146.4 155.77,153.43" fill="#c8e8d6" stroke="#addcc1" stroke-width="0.3"/>
<polygon points="155.77,153.43 160.49,152.74 160.49,152.91 155.77,153.6" fill="#c8e8d6"/>
<polygon points="155.77,153.6 160.49,154.9 160.49,170.16 155.77,168.87" fill="#c8e8d6" stroke="#addcc1" stroke-width="0.3"/>
<polygon points="155.77,168.87 160.49,170.92 160.49,171.05 155.77,169" fill="#c8e8d6"/>
<polygon points="155.77,169 160.49,65.04 160.49,65.1 155.77,169.06" fill="#abccbb"/>
<polygon points="155.77,169.06 160.49,87.79 160.49,88.1 155.77,169.38" fill="#abccbb"/>
<polygon points="155.77,169.38 160.49,110.93 160.49,111.8 155.77,170.25" fill="#abccbb" stroke="#82b399" stroke-width="0.3"/>
<polygon points="155.77,170.25 160.49,124.92 160.49,125.1 155.77,170.43" fill="#abccbb"/>
<polygon points="155.77,170.43 160.49,146.4 160.49,146.7 155.77,170.73" fill="#abccbb"/>
<polygon points="155.77,170.73 160.49,152.91 160.49,153 155.77,170.81" fill="#abccbb"/>
<polygon points="155.77,170.81 160.49,170.16 160.49,170.4 155.77,171.05" fill="#abccbb"/>
<polygon points="155.77,171.05 160.49,171.05 160.49,175.2 155.77,175.2" fill="#abccbb" stroke="#82b399" stroke-width="0.3"/>
<polygon points="165.09,56.5 169.81,56.5 169.81,65.1 165.09,65.1" fill="#f9f79f" stroke="#f6f470" stroke-width="0.3"/>
<polygon points="165.09,65.1 169.81,66.3 169.81,89.3 165.09,88.1" fill="#e2e0d6" stroke="#d4d1c1" stroke-width="0.3"/>
<polygon points="165.09,88.1 169.81,65.1 169.81,65.39 165.09,88.39" fill="#d2d1d2"/>
<polygon points="165.09,88.39 169.81,89.3 169.81,90.52 165.09,89.61" fill="#d2d1d2" stroke="#bbbabb" stroke-width="0.3"/>
<polygon points="165.09,89.61 169.81,94.4 169.81,113.53 165.09,108.74" fill="#d2d1d2" stroke="#bbbabb" stroke-width="0.3"/>
<polygon points="165.09,108.74 169.81,116 169.81,117.48 165.09,110.22" fill="#d2d1d2" stroke="#bbbabb" stroke-width="0.3"/>
<polygon points="165.09,110.22 169.81,133.5 169.81,134.17 165.09,110.9" fill="#d2d1d2" stroke="#bbbabb" stroke-width="0.3"/>
<polygon points="165.09,110.9 169.81,152.3 169.81,152.53 165.09,111.12" fill="#d2d1d2"/>
<polygon points="165.09,111.12 169.81,158.6 169.81,159.01 165.09,111.53" fill="#d2d1d2" stroke="#bbbabb" stroke-width="0.3"/>
<polygon points="165.09,111.53 169.81,170 169.81,170.27 165.09,111.8" fill="#d2d1d2"/>
<polygon points="165.09,111.8 169.81,65.39 169.81,65.49 165.09,111.91" fill="#f5848a"/>
<polygon points="165.09,111.91 169.81,90.52 169.81,90.98 165.09,112.36" fill="#f5848a" stroke="#f0474f" stroke-width="0.3"/>
<polygon points="165.09,112.36 169.81,113.53 169.81,113.82 165.09,112.65" fill="#f5848a"/>
<polygon points="165.09,112.65 169.81,117.48 169.81,129.34 165.09,124.51" fill="#f5848a" stroke="#f0474f" stroke-width="0.3"/>
<polygon points="165.09,124.51 169.81,134.17 169.81,134.43 165.09,124.76" fill="#f5848a"/>
<polygon points="165.09,124.76 169.81,152.53 169.81,152.61 165.09,124.85" fill="#f5848a"/>
<polygon points="165.09,124.85 169.81,159.01 169.81,159.16 165.09,125" fill="#f5848a"/>
<polygon points="165.09,125 169.81,170.27 169.81,170.37 165.09,125.1" fill="#f5848a"/>
<polygon points="165.09,125.1 169.81,65.49 169.81,65.8 165.09,125.4" fill="#fddda5"/>
<polygon points="165.09,125.4 169.81,90.98 169.81,92.26 165.09,126.69" fill="#fddda5" stroke="#fccc78" stroke-width="0.3"/>
<polygon points="165.09,126.69 169.81,113.82 169.81,114.64 165.09,127.5" fill="#fddda5" stroke="#fccc78" stroke-width="0.3"/>
<polygon points="165.09,127.5 169.81,129.34 169.81,130.9 165.09,129.06" fill="#fddda5" stroke="#fccc78" stroke-width="0.3"/>
<polygon points="165.09,129.06 169.81,134.43 169.81,151.12 165.09,145.75" fill="#fddda5" stroke="#fccc78" stroke-width="0.3"/>
<polygon points="165.09,145.75 169.81,152.61 169.81,152.85 165.09,145.99" fill="#fddda5"/>
<polygon points="165.09,145.99 169.81,159.16 169.81,159.59 165.09,146.42" fill="#fddda5" stroke="#fccc78" stroke-width="0.3"/>
<polygon points="165.09,146.42 169.81,170.37 169.81,170.65 165.09,146.7" fill="#fddda5"/>
<polygon points="165.09,146.7 169.81,65.8 169.81,65.85 165.09,146.75" fill="#e6f4ec"/>
<polygon points="165.09,146.75 169.81,92.26 169.81,92.47 165.09,146.97" fill="#e6f4ec"/>
<polygon points="165.09,146.97 169.81,114.64 169.81,114.78 165.09,147.1" fill="#e6f4ec"/>
<polygon points="165.09,147.1 169.81,130.9 169.81,131.16 165.09,147.37" fill="#e6f4ec"/>
<polygon points="165.09,147.37 169.81,151.12 169.81,151.24 165.09,147.49" fill="#e6f4ec"/>
<polygon points="165.09,147.49 169.81,152.85 169.81,158.24 165.09,152.88" fill="#e6f4ec" stroke="#d9efe2" stroke-width="0.3"/>
<polygon points="165.09,152.88 169.81,159.59 169.81,159.66 165.09,152.95" fill="#e6f4ec"/>
<polygon points="165.09,153 169.81,65.85 169.81,66.26 165.09,153.41" fill="#c8e8d6" stroke="#addcc1" stroke-width="0.3"/>
<polygon points="165.09,153.41 169.81,92.47 169.81,94.24 165.09,155.18" fill="#c8e8d6" stroke="#addcc1" stroke-width="0.3"/>
<polygon points="165.09,155.18 169.81,114.78 169.81,115.9 165.09,156.29" fill="#c8e8d6" stroke="#addcc1" stroke-width="0.3"/>
<polygon points="165.09,156.29 169.81,131.16 169.81,133.3 165.09,158.43" fill="#c8e8d6" stroke="#addcc1" stroke-width="0.3"/>
<polygon points="165.09,158.43 169.81,151.24 169.81,152.21 165.09,159.41" fill="#c8e8d6" stroke="#addcc1" stroke-width="0.3"/>
<polygon points="165.09,159.41 169.81,158.24 169.81,158.57 165.09,159.73" fill="#c8e8d6"/>
<polygon points="165.09,159.73 169.81,159.66 169.81,169.94 165.09,170.01" fill="#c8e8d6" stroke="#addcc1" stroke-width="0.3"/>
<polygon points="165.09,170.01 169.81,170.7 169.81,171.08 165.09,170.4" fill="#c8e8d6"/>
<polygon points="165.09,170.44 169.81,94.24 169.81,94.4 165.09,170.6" fill="#abccbb"/>
<polygon points="165.09,170.6 169.81,115.9 169.81,116 165.09,170.71" fill="#abccbb"/>
<polygon points="165.09,170.71 169.81,133.3 169.81,133.5 165.09,170.91" fill="#abccbb"/>
<polygon points="165.09,170.91 169.81,152.21 169.81,152.3 165.09,171" fill="#abccbb"/>
<polygon points="165.09,171.03 169.81,169.94 169.81,170 165.09,171.08" fill="#abccbb"/>
<polygon points="165.09,171.08 169.81,171.08 169.81,175.2 165.09,175.2" fill="#abccbb" stroke="#82b399" stroke-width="0.3"/>
<polygon points="174.41,56.5 179.12,56.5 179.12,66.3 174.41,66.3" fill="#f9f79f" stroke="#f6f470" stroke-width="0.3"/>
<polygon points="174.41,66.3 179.12,67.9 179.12,96 174.41,94.4" fill="#e2e0d6" stroke="#d4d1c1" stroke-width="0.3"/>
<polygon points="174.41,94.4 179.12,66.3 179.12,66.97 174.41,95.07" fill="#d2d1d2" stroke="#bbbabb" stroke-width="0.3"/>
<polygon points="174.41,95.07 179.12,96 179.12,98.25 174.41,97.32" fill="#d2d1d2" stroke="#bbbabb" stroke-width="0.3"/>
<polygon points="174.41,97.32 179.12,101.4 179.12,114.18 174.41,110.1" fill="#d2d1d2" stroke="#bbbabb" stroke-width="0.3"/>
<polygon points="174.41,110.1 179.12,115.4 179.12,118.79 174.41,113.48" fill="#d2d1d2" stroke="#bbbabb" stroke-width="0.3"/>
<polygon points="174.41,113.48 179.12,138.4 179.12,139.33 174.41,114.42" fill="#d2d1d2" stroke="#bbbabb" stroke-width="0.3"/>
<polygon points="174.41,114.42 179.12,153.3 179.12,153.59 174.41,114.71" fill="#d2d1d2"/>
<polygon points="174.41,114.71 179.12,158 179.12,158.96 174.41,115.67" fill="#d2d1d2" stroke="#bbbabb" stroke-width="0.3"/>
<polygon points="174.41,115.67 179.12,170 179.12,170.33 174.41,116" fill="#d2d1d2"/>
<polygon points="174.41,116 179.12,66.97 179.12,67.15 174.41,116.18" fill="#f5848a"/>
<polygon points="174.41,116.18 179.12,98.25 179.12,98.86 174.41,116.79" fill="#f5848a" stroke="#f0474f" stroke-width="0.3"/>
<polygon points="174.41,116.79 179.12,114.18 179.12,114.41 174.41,117.03" fill="#f5848a"/>
<polygon points="174.41,117.03 179.12,118.79 179.12,134.58 174.41,132.82" fill="#f5848a" stroke="#f0474f" stroke-width="0.3"/>
<polygon points="174.41,132.82 179.12,139.33 179.12,139.58 174.41,133.07" fill="#f5848a"/>
<polygon points="174.41,133.07 179.12,153.59 179.12,153.67 174.41,133.15" fill="#f5848a"/>
<polygon points="174.41,133.15 179.12,158.96 179.12,159.22 174.41,133.41" fill="#f5848a"/>
<polygon points="174.41,133.41 179.12,170.33 179.12,170.41 174.41,133.5" fill="#f5848a"/>
<polygon points="174.41,133.5 179.12,67.15 179.12,67.57 174.41,133.92" fill="#fddda5" stroke="#fccc78" stroke-width="0.3"/>
<polygon points="174.41,133.92 179.12,98.86 179.12,100.29 174.41,135.35" fill="#fddda5" stroke="#fccc78" stroke-width="0.3"/>
<polygon points="174.41,135.35 179.12,114.41 179.12,114.97 174.41,135.9" fill="#fddda5" stroke="#fccc78" stroke-width="0.3"/>
<polygon points="174.41,135.9 179.12,134.58 179.12,136.72 174.41,138.04" fill="#fddda5" stroke="#fccc78" stroke-width="0.3"/>
<polygon points="174.41,138.04 179.12,139.58 179.12,152.84 174.41,151.3" fill="#fddda5" stroke="#fccc78" stroke-width="0.3"/>
<polygon points="174.41,151.3 179.12,153.67 179.12,153.86 174.41,151.48" fill="#fddda5"/>
<polygon points="174.41,151.48 179.12,159.22 179.12,159.83 174.41,152.09" fill="#fddda5" stroke="#fccc78" stroke-width="0.3"/>
<polygon points="174.41,152.09 179.12,170.41 179.12,170.62 174.41,152.3" fill="#fddda5"/>
<polygon points="174.41,152.3 179.12,67.57 179.12,67.73 174.41,152.46" fill="#e6f4ec"/>
<polygon points="174.41,152.46 179.12,100.29 179.12,100.82 174.41,152.99" fill="#e6f4ec" stroke="#d9efe2" stroke-width="0.3"/>
<polygon points="174.41,152.99 179.12,114.97 179.12,115.18 174.41,153.2" fill="#e6f4ec"/>
<polygon points="174.41,153.2 179.12,136.72 179.12,137.53 174.41,154.01" fill="#e6f4ec" stroke="#d9efe2" stroke-width="0.3"/>
<polygon points="174.41,154.01 179.12,152.84 179.12,153.06 174.41,154.23" fill="#e6f4ec"/>
<polygon points="174.41,154.23 179.12,153.86 179.12,157.92 174.41,158.29" fill="#e6f4ec" stroke="#d9efe2" stroke-width="0.3"/>
<polygon points="174.41,158.29 179.12,159.83 179.12,160.06 174.41,158.52" fill="#e6f4ec"/>
<polygon points="174.41,158.52 179.12,170.62 179.12,170.7 174.41,158.6" fill="#e6f4ec"/>
<polygon points="174.41,158.6 179.12,67.73 179.12,67.85 174.41,158.72" fill="#c8e8d6"/>
<polygon points="174.41,158.72 179.12,100.82 179.12,101.22 174.41,159.11" fill="#c8e8d6"/>
<polygon points="174.41,159.11 179.12,115.18 179.12,115.33 174.41,159.27" fill="#c8e8d6"/>
<polygon points="174.41,159.27 179.12,137.53 179.12,138.13 174.41,159.87" fill="#c8e8d6" stroke="#addcc1" stroke-width="0.3"/>
<polygon points="174.41,159.87 179.12,153.06 179.12,153.23 174.41,160.03" fill="#c8e8d6"/>
<polygon points="174.41,160.03 179.12,157.92 179.12,157.98 174.41,160.08" fill="#c8e8d6"/>
<polygon points="174.41,160.08 179.12,160.06 179.12,169.92 174.41,169.94" fill="#c8e8d6" stroke="#addcc1" stroke-width="0.3"/>
<polygon points="174.41,169.94 179.12,170.7 179.12,170.75 174.41,170" fill="#c8e8d6"/>
<polygon points="174.41,170 179.12,67.85 179.12,67.9 174.41,170.05" fill="#abccbb"/>
<polygon points="174.41,170.05 179.12,101.22 179.12,101.4 174.41,170.23" fill="#abccbb"/>
<polygon points="174.41,170.23 179.12,115.33 179.12,115.4 174.41,170.31" fill="#abccbb"/>
<polygon points="174.41,170.31 179.12,138.13 179.12,138.4 174.41,170.58" fill="#abccbb"/>
<polygon points="174.41,170.58 179.12,153.23 179.12,153.3 174.41,170.65" fill="#abccbb"/>
<polygon points="174.41,170.68 179.12,169.92 179.12,170 174.41,170.75" fill="#abccbb"/>
<polygon points="174.41,170.75 179.12,170.75 179.12,175.2 174.41,175.2" fill="#abccbb" stroke="#82b399" stroke-width="0.3"/>
<polygon points="183.72,56.5 188.44,56.5 188.44,67.9 183.72,67.9" fill="#f9f79f" stroke="#f6f470" stroke-width="0.3"/>
<polygon points="183.72,67.9 188.44,69.6 188.44,103.1 183.72,101.4" fill="#e2e0d6" stroke="#d4d1c1" stroke-width="0.3"/>
<polygon points="183.72,101.4 188.44,67.9 188.44,68.06 183.72,101.56" fill="#d2d1d2"/>
<polygon points="183.72,101.56 188.44,103.1 188.44,103.59 183.72,102.05" fill="#d2d1d2" stroke="#bbbabb" stroke-width="0.3"/>
<polygon points="183.72,102.05 188.44,108.3 188.44,120.87 183.72,114.62" fill="#d2d1d2" stroke="#bbbabb" stroke-width="0.3"/>
<polygon points="183.72,114.62 188.44,127.3 188.44,127.51 183.72,114.84" fill="#d2d1d2"/>
<polygon points="183.72,114.84 188.44,142.4 188.44,142.72 183.72,115.16" fill="#d2d1d2"/>
<polygon points="183.72,115.16 188.44,158.5 188.44,158.56 183.72,115.23" fill="#d2d1d2"/>
<polygon points="183.72,115.23 188.44,163 188.44,163.11 183.72,115.34" fill="#d2d1d2"/>
<polygon points="183.72,115.34 188.44,171 188.44,171.06 183.72,115.4" fill="#d2d1d2"/>
<polygon points="183.72,115.4 188.44,68.06 188.44,68.84 183.72,116.18" fill="#f5848a" stroke="#f0474f" stroke-width="0.3"/>
<polygon points="183.72,116.18 188.44,103.59 188.44,105.97 183.72,118.56" fill="#f5848a" stroke="#f0474f" stroke-width="0.3"/>
<polygon points="183.72,118.56 188.44,120.87 188.44,124.12 183.72,121.81" fill="#f5848a" stroke="#f0474f" stroke-width="0.3"/>
<polygon points="183.72,121.81 188.44,127.51 188.44,141.39 183.72,135.68" fill="#f5848a" stroke="#f0474f" stroke-width="0.3"/>
<polygon points="183.72,135.68 188.44,142.72 188.44,144.3 183.72,137.25" fill="#f5848a" stroke="#f0474f" stroke-width="0.3"/>
<polygon points="183.72,137.25 188.44,158.56 188.44,158.87 183.72,137.56" fill="#f5848a"/>
<polygon points="183.72,137.56 188.44,163.11 188.44,163.66 183.72,138.11" fill="#f5848a" stroke="#f0474f" stroke-width="0.3"/>
<polygon points="183.72,138.11 188.44,171.06 188.44,171.35 183.72,138.4" fill="#f5848a"/>
<polygon points="183.72,138.4 188.44,68.84 188.44,69.01 183.72,138.57" fill="#fddda5"/>
<polygon points="183.72,138.57 188.44,105.97 188.44,106.5 183.72,139.09" fill="#fddda5" stroke="#fccc78" stroke-width="0.3"/>
<polygon points="183.72,139.09 188.44,124.12 188.44,124.84 183.72,139.81" fill="#fddda5" stroke="#fccc78" stroke-width="0.3"/>
<polygon points="183.72,139.81 188.44,141.39 188.44,141.61 183.72,140.04" fill="#fddda5"/>
<polygon points="183.72,140.04 188.44,144.3 188.44,157.31 183.72,153.05" fill="#fddda5" stroke="#fccc78" stroke-width="0.3"/>
<polygon points="183.72,153.05 188.44,158.87 188.44,158.94 183.72,153.12" fill="#fddda5"/>
<polygon points="183.72,153.12 188.44,163.66 188.44,163.78 183.72,153.24" fill="#fddda5"/>
<polygon points="183.72,153.24 188.44,171.35 188.44,171.41 183.72,153.3" fill="#fddda5"/>
<polygon points="183.72,153.3 188.44,69.01 188.44,69.08 183.72,153.37" fill="#e6f4ec"/>
<polygon points="183.72,153.37 188.44,106.5 188.44,106.7 183.72,153.57" fill="#e6f4ec"/>
<polygon points="183.72,153.57 188.44,124.84 188.44,125.12 183.72,153.85" fill="#e6f4ec"/>
<polygon points="183.72,153.85 188.44,141.61 188.44,141.7 183.72,153.94" fill="#e6f4ec"/>
<polygon points="183.72,153.94 188.44,157.31 188.44,157.44 183.72,154.08" fill="#e6f4ec"/>
<polygon points="183.72,154.08 188.44,158.94 188.44,162.79 183.72,157.93" fill="#e6f4ec" stroke="#d9efe2" stroke-width="0.3"/>
<polygon points="183.72,158 188.44,69.08 188.44,69.48 183.72,158.4" fill="#c8e8d6"/>
<polygon points="183.72,158.4 188.44,106.7 188.44,107.92 183.72,159.62" fill="#c8e8d6" stroke="#addcc1" stroke-width="0.3"/>
<polygon points="183.72,159.62 188.44,125.12 188.44,126.78 183.72,161.28" fill="#c8e8d6" stroke="#addcc1" stroke-width="0.3"/>
<polygon points="183.72,161.28 188.44,141.7 188.44,142.23 183.72,161.81" fill="#c8e8d6" stroke="#addcc1" stroke-width="0.3"/>
<polygon points="183.72,161.81 188.44,157.44 188.44,158.25 183.72,162.61" fill="#c8e8d6" stroke="#addcc1" stroke-width="0.3"/>
<polygon points="183.72,162.61 188.44,162.79 188.44,162.95 183.72,162.77" fill="#c8e8d6"/>
<polygon points="183.72,162.77 188.44,163.83 188.44,170.91 183.72,169.85" fill="#c8e8d6" stroke="#addcc1" stroke-width="0.3"/>
<polygon points="183.72,169.85 188.44,171.44 188.44,171.58 183.72,170" fill="#c8e8d6"/>
<polygon points="183.72,170 188.44,69.48 188.44,69.6 183.72,170.12" fill="#abccbb"/>
<polygon points="183.72,170.12 188.44,107.92 188.44,108.3 183.72,170.51" fill="#abccbb"/>
<polygon points="183.72,170.51 188.44,126.78 188.44,127.3 183.72,171.03" fill="#abccbb" stroke="#82b399" stroke-width="0.3"/>
<polygon points="183.72,171.03 188.44,142.23 188.44,142.4 183.72,171.19" fill="#abccbb"/>
<polygon points="183.72,171.19 188.44,158.25 188.44,158.5 183.72,171.45" fill="#abccbb"/>
<polygon points="183.72,171.5 188.44,170.91 188.44,171 183.72,171.58" fill="#abccbb"/>
<polygon points="183.72,171.58 188.44,171.58 188.44,175.2 183.72,175.2" fill="#abccbb" stroke="#82b399" stroke-width="0.3"/>
<polygon points="193.04,56.5 197.75,56.5 197.75,69.6 193.04,69.6" fill="#f9f79f" stroke="#f6f470" stroke-width="0.3"/>
<polygon points="193.04,69.6 197.75,70.4 197.75,109.1 193.04,108.3" fill="#e2e0d6" stroke="#d4d1c1" stroke-width="0.3"/>
<polygon points="193.04,108.3 197.75,69.6 197.75,69.71 193.04,108.41" fill="#d2d1d2"/>
<polygon points="193.04,108.41 197.75,109.1 197.75,109.88 193.04,109.18" fill="#d2d1d2" stroke="#bbbabb" stroke-width="0.3"/>
<polygon points="193.04,109.18 197.75,115 197.75,132.44 193.04,126.63" fill="#d2d1d2" stroke="#bbbabb" stroke-width="0.3"/>
<polygon points="193.04,126.63 197.75,141 197.75,141.25 193.04,126.88" fill="#d2d1d2"/>
<polygon points="193.04,126.88 197.75,153.7 197.75,153.94 193.04,127.12" fill="#d2d1d2"/>
<polygon points="193.04,127.16 197.75,168 197.75,168.08 193.04,127.24" fill="#d2d1d2"/>
<polygon points="193.04,127.24 197.75,172 197.75,172.06 193.04,127.3" fill="#d2d1d2"/>
<polygon points="193.04,127.3 197.75,69.71 197.75,69.86 193.04,127.46" fill="#f5848a"/>
<polygon points="193.04,127.46 197.75,109.88 197.75,111.05 193.04,128.63" fill="#f5848a" stroke="#f0474f" stroke-width="0.3"/>
<polygon points="193.04,128.63 197.75,132.44 197.75,134.4 193.04,130.59" fill="#f5848a" stroke="#f0474f" stroke-width="0.3"/>
<polygon points="193.04,130.59 197.75,141.25 197.75,152.42 193.04,141.76" fill="#f5848a" stroke="#f0474f" stroke-width="0.3"/>
<polygon points="193.04,141.76 197.75,153.94 197.75,154.31 193.04,142.13" fill="#f5848a"/>
<polygon points="193.04,142.13 197.75,166.04 197.75,166.1 193.04,142.19" fill="#f5848a"/>
<polygon points="193.04,142.19 197.75,168.08 197.75,168.2 193.04,142.3" fill="#f5848a"/>
<polygon points="193.04,142.3 197.75,172.06 197.75,172.16 193.04,142.4" fill="#f5848a"/>
<polygon points="193.04,142.4 197.75,69.86 197.75,70.07 193.04,142.61" fill="#fddda5"/>
<polygon points="193.04,142.61 197.75,111.05 197.75,112.58 193.04,144.14" fill="#fddda5" stroke="#fccc78" stroke-width="0.3"/>
<polygon points="193.04,144.14 197.75,134.4 197.75,136.97 193.04,146.71" fill="#fddda5" stroke="#fccc78" stroke-width="0.3"/>
<polygon points="193.04,146.71 197.75,152.42 197.75,152.92 193.04,147.21" fill="#fddda5" stroke="#fccc78" stroke-width="0.3"/>
<polygon points="193.04,147.21 197.75,154.31 197.75,165.24 193.04,158.14" fill="#fddda5" stroke="#fccc78" stroke-width="0.3"/>
<polygon points="193.04,158.14 197.75,166.1 197.75,166.18 193.04,158.22" fill="#fddda5"/>
<polygon points="193.04,158.22 197.75,168.2 197.75,168.35 193.04,158.38" fill="#fddda5"/>
<polygon points="193.04,158.38 197.75,172.16 197.75,172.28 193.04,158.5" fill="#fddda5"/>
<polygon points="193.04,158.5 197.75,70.07 197.75,70.18 193.04,158.6" fill="#e6f4ec"/>
<polygon points="193.04,158.6 197.75,112.58 197.75,113.35 193.04,159.37" fill="#e6f4ec" stroke="#d9efe2" stroke-width="0.3"/>
<polygon points="193.04,159.37 197.75,136.97 197.75,138.24 193.04,160.64" fill="#e6f4ec" stroke="#d9efe2" stroke-width="0.3"/>
<polygon points="193.04,160.64 197.75,152.92 197.75,153.17 193.04,160.88" fill="#e6f4ec"/>
<polygon points="193.04,160.88 197.75,165.24 197.75,165.48 193.04,161.12" fill="#e6f4ec"/>
<polygon points="193.04,161.12 197.75,166.18 197.75,167.92 193.04,162.86" fill="#e6f4ec" stroke="#d9efe2" stroke-width="0.3"/>
<polygon points="193.04,162.86 197.75,168.35 197.75,168.43 193.04,162.94" fill="#e6f4ec"/>
<polygon points="193.04,162.94 197.75,172.28 197.75,172.35 193.04,163" fill="#e6f4ec"/>
<polygon points="193.04,163 197.75,70.18 197.75,70.35 193.04,163.17" fill="#c8e8d6"/>
<polygon points="193.04,163.17 197.75,113.35 197.75,114.6 193.04,164.42" fill="#c8e8d6" stroke="#addcc1" stroke-width="0.3"/>
<polygon points="193.04,164.42 197.75,138.24 197.75,140.33 193.04,166.51" fill="#c8e8d6" stroke="#addcc1" stroke-width="0.3"/>
<polygon points="193.04,166.51 197.75,153.17 197.75,153.57 193.04,166.92" fill="#c8e8d6" stroke="#addcc1" stroke-width="0.3"/>
<polygon points="193.04,166.92 197.75,165.48 197.75,165.87 193.04,167.31" fill="#c8e8d6"/>
<polygon points="193.04,167.31 197.75,167.92 197.75,167.98 193.04,167.37" fill="#c8e8d6"/>
<polygon points="193.04,167.37 197.75,168.43 197.75,171.96 193.04,170.9" fill="#c8e8d6" stroke="#addcc1" stroke-width="0.3"/>
<polygon points="193.04,170.9 197.75,172.35 197.75,172.45 193.04,171" fill="#c8e8d6"/>
<polygon points="193.04,171 197.75,70.35 197.75,70.4 193.04,171.05" fill="#abccbb"/>
<polygon points="193.04,171.05 197.75,114.6 197.75,115 193.04,171.46" fill="#abccbb" stroke="#82b399" stroke-width="0.3"/>
<polygon points="193.04,171.46 197.75,140.33 197.75,141 193.04,172.13" fill="#abccbb" stroke="#82b399" stroke-width="0.3"/>
<polygon points="193.04,172.13 197.75,153.57 197.75,153.7 193.04,172.26" fill="#abccbb"/>
<polygon points="193.04,172.26 197.75,165.87 197.75,166 193.04,172.39" fill="#abccbb"/>
<polygon points="193.04,172.45 197.75,172.45 197.75,175.2 193.04,175.2" fill="#abccbb" stroke="#82b399" stroke-width="0.3"/>
<polygon points="202.35,56.5 207.07,56.5 207.07,70.4 202.35,70.4" fill="#f9f79f" stroke="#f6f470" stroke-width="0.3"/>
<polygon points="202.35,70.4 207.07,71.4 207.07,116 202.35,115" fill="#e2e0d6" stroke="#d4d1c1" stroke-width="0.3"/>
<polygon points="202.35,115 207.07,70.4 207.07,70.53 202.35,115.13" fill="#d2d1d2"/>
<polygon points="202.35,115.13 207.07,116 207.07,116.48 202.35,115.61" fill="#d2d1d2" stroke="#bbbabb" stroke-width="0.3"/>
<polygon points="202.35,115.61 207.07,119.6 207.07,144.77 202.35,140.79" fill="#d2d1d2" stroke="#bbbabb" stroke-width="0.3"/>
<polygon points="202.35,140.79 207.07,164.7 207.07,164.82 202.35,140.91" fill="#d2d1d2"/>
<polygon points="202.35,140.91 207.07,170.5 207.07,170.56 202.35,140.97" fill="#d2d1d2"/>
<polygon points="202.35,141 207.07,70.53 207.07,70.8 202.35,141.27" fill="#f5848a"/>
<polygon points="202.35,141.27 207.07,116.48 207.07,117.44 202.35,142.23" fill="#f5848a" stroke="#f0474f" stroke-width="0.3"/>
<polygon points="202.35,142.23 207.07,144.77 207.07,150.9 202.35,148.35" fill="#f5848a" stroke="#f0474f" stroke-width="0.3"/>
<polygon points="202.35,148.35 207.07,164.82 207.07,169.98 202.35,153.51" fill="#f5848a" stroke="#f0474f" stroke-width="0.3"/>
<polygon points="202.35,153.51 207.07,170.56 207.07,170.68 202.35,153.63" fill="#f5848a"/>
<polygon points="202.35,153.63 207.07,173.53 207.07,173.6 202.35,153.7" fill="#f5848a"/>
<polygon points="202.35,153.7 207.07,70.8 207.07,71.13 202.35,154.03" fill="#fddda5"/>
<polygon points="202.35,154.03 207.07,117.44 207.07,118.64 202.35,155.24" fill="#fddda5" stroke="#fccc78" stroke-width="0.3"/>
<polygon points="202.35,155.24 207.07,150.9 207.07,158.59 202.35,162.92" fill="#fddda5" stroke="#fccc78" stroke-width="0.3"/>
<polygon points="202.35,162.92 207.07,169.98 207.07,170.27 202.35,163.21" fill="#fddda5"/>
<polygon points="202.35,163.21 207.07,170.68 207.07,173.38 202.35,165.91" fill="#fddda5" stroke="#fccc78" stroke-width="0.3"/>
<polygon points="202.35,165.91 207.07,173.6 207.07,173.69 202.35,166" fill="#fddda5"/>
<polygon points="202.35,166 207.07,71.13 207.07,71.2 202.35,166.07" fill="#e6f4ec"/>
<polygon points="202.35,166.07 207.07,118.64 207.07,118.89 202.35,166.32" fill="#e6f4ec"/>
<polygon points="202.35,166.32 207.07,158.59 207.07,160.16 202.35,167.89" fill="#e6f4ec" stroke="#d9efe2" stroke-width="0.3"/>
<polygon points="202.35,167.89 207.07,170.27 207.07,170.33 202.35,167.95" fill="#e6f4ec"/>
<polygon points="202.35,168 207.07,71.2 207.07,71.34 202.35,168.14" fill="#c8e8d6"/>
<polygon points="202.35,168.14 207.07,118.89 207.07,119.38 202.35,168.63" fill="#c8e8d6" stroke="#addcc1" stroke-width="0.3"/>
<polygon points="202.35,168.63 207.07,160.16 207.07,163.32 202.35,171.78" fill="#c8e8d6" stroke="#addcc1" stroke-width="0.3"/>
<polygon points="202.35,171.78 207.07,170.33 207.07,170.45 202.35,171.9" fill="#c8e8d6"/>
<polygon points="202.35,171.9 207.07,173.41 207.07,173.47 202.35,171.97" fill="#c8e8d6"/>
<polygon points="202.35,172 207.07,71.34 207.07,71.4 202.35,172.06" fill="#abccbb"/>
<polygon points="202.35,172.06 207.07,119.38 207.07,119.6 202.35,172.28" fill="#abccbb"/>
<polygon points="202.35,172.28 207.07,163.32 207.07,164.7 202.35,173.66" fill="#abccbb" stroke="#82b399" stroke-width="0.3"/>
<polygon points="202.35,173.66 207.07,170.45 207.07,170.5 202.35,173.71" fill="#abccbb"/>
<polygon points="202.35,173.74 207.07,173.74 207.07,175.2 202.35,175.2" fill="#abccbb" stroke="#82b399" stroke-width="0.3"/>
<polygon points="211.67,56.5 216.38,56.5 216.38,71.4 211.67,71.4" fill="#f9f79f" stroke="#f6f470" stroke-width="0.3"/>
<polygon points="211.67,71.4 216.38,72.1 216.38,120.3 211.67,119.6" fill="#e2e0d6" stroke="#d4d1c1" stroke-width="0.3"/>
<polygon points="211.67,119.6 216.38,71.4 216.38,71.69 211.67,119.89" fill="#d2d1d2"/>
<polygon points="211.67,119.89 216.38,120.3 216.38,121.65 211.67,121.24" fill="#d2d1d2" stroke="#bbbabb" stroke-width="0.3"/>
<polygon points="211.67,121.24 216.38,123.5 216.38,166.87 211.67,164.61" fill="#d2d1d2" stroke="#bbbabb" stroke-width="0.3"/>
<polygon points="211.67,164.61 216.38,173.8 216.38,173.89 211.67,164.7" fill="#d2d1d2"/>
<polygon points="211.67,164.7 216.38,71.69 216.38,71.9 211.67,164.9" fill="#f5848a"/>
<polygon points="211.67,164.9 216.38,121.65 216.38,122.56 211.67,165.82" fill="#f5848a" stroke="#f0474f" stroke-width="0.3"/>
<polygon points="211.67,165.82 216.38,166.87 216.38,170.3 211.67,169.25" fill="#f5848a" stroke="#f0474f" stroke-width="0.3"/>
<polygon points="211.67,169.25 216.38,173.89 216.38,175.14 211.67,170.5" fill="#f5848a" stroke="#f0474f" stroke-width="0.3"/>
<polygon points="211.67,170.5 216.38,71.9 216.38,72.03 211.67,170.63" fill="#fddda5"/>
<polygon points="211.67,170.63 216.38,122.56 216.38,123.16 211.67,171.23" fill="#fddda5" stroke="#fccc78" stroke-width="0.3"/>
<polygon points="211.67,171.23 216.38,170.3 216.38,172.53 211.67,173.46" fill="#fddda5" stroke="#fccc78" stroke-width="0.3"/>
<polygon points="211.67,173.5 216.38,72.03 216.38,72.1 211.67,173.57" fill="#abccbb"/>
<polygon points="211.67,173.57 216.38,123.16 216.38,123.5 211.67,173.91" fill="#abccbb"/>
<polygon points="211.67,173.91 216.38,172.53 216.38,173.8 211.67,175.18" fill="#abccbb" stroke="#82b399" stroke-width="0.3"/>
<polygon points="220.98,56.5 225.7,56.5 225.7,72.1 220.98,72.1" fill="#f9f79f" stroke="#f6f470" stroke-width="0.3"/>
<polygon points="220.98,72.1 225.7,72.8 225.7,124.2 220.98,123.5" fill="#e2e0d6" stroke="#d4d1c1" stroke-width="0.3"/>
<polygon points="220.98,123.5 225.7,72.1 225.7,72.69 220.98,124.09" fill="#d2d1d2" stroke="#bbbabb" stroke-width="0.3"/>
<polygon points="220.98,124.09 225.7,124.2 225.7,124.37 220.98,124.26" fill="#d2d1d2"/>
<polygon points="220.98,124.26 225.7,124.4 225.7,173.94 220.98,173.8" fill="#d2d1d2" stroke="#bbbabb" stroke-width="0.3"/>
<polygon points="220.98,173.8 225.7,72.69 225.7,72.8 220.98,173.91" fill="#f5848a"/>
<polygon points="220.98,173.94 225.7,173.94 225.7,175.2 220.98,175.2" fill="#f5848a" stroke="#f0474f" stroke-width="0.3"/>
</g>
<rect x="48.7" y="56.5" width="4.6" height="8.5" fill="#8e8c8e" stroke="rgba(0,0,0,0.36)" stroke-width="0.65"/>
<rect x="49.9" y="60.25" width="2.2" height="1" fill="#fff" opacity="0.45"/>
<rect x="48.7" y="65" width="4.6" height="110.2" fill="#eb0a14" stroke="rgba(0,0,0,0.36)" stroke-width="0.65"/>
<rect x="49.9" y="119.6" width="2.2" height="1" fill="#fff" opacity="0.45"/>
<rect x="58.02" y="56.5" width="4.6" height="6.1" fill="#f0ec10" stroke="rgba(0,0,0,0.36)" stroke-width="0.65"/>
<rect x="58.02" y="62.6" width="4.6" height="13.7" fill="#8e8c8e" stroke="rgba(0,0,0,0.36)" stroke-width="0.65"/>
<rect x="59.22" y="68.95" width="2.2" height="1" fill="#fff" opacity="0.45"/>
<rect x="58.02" y="76.3" width="4.6" height="2.7" fill="#eb0a14" stroke="rgba(0,0,0,0.36)" stroke-width="0.65"/>
<rect x="58.02" y="79" width="4.6" height="11.5" fill="#faaa1e" stroke="rgba(0,0,0,0.36)" stroke-width="0.65"/>
<rect x="59.22" y="84.25" width="2.2" height="1" fill="#fff" opacity="0.45"/>
<rect x="58.02" y="90.5" width="4.6" height="10.9" fill="#aadcbe" stroke="rgba(0,0,0,0.36)" stroke-width="0.65"/>
<rect x="59.22" y="95.45" width="2.2" height="1" fill="#fff" opacity="0.45"/>
<rect x="58.02" y="101.4" width="4.6" height="32.6" fill="#48b275" stroke="rgba(0,0,0,0.36)" stroke-width="0.65"/>
<rect x="59.22" y="117.2" width="2.2" height="1" fill="#fff" opacity="0.45"/>
<rect x="58.02" y="134" width="4.6" height="41.2" fill="#237a4c" stroke="rgba(0,0,0,0.36)" stroke-width="0.65"/>
<rect x="59.22" y="154.1" width="2.2" height="1" fill="#fff" opacity="0.45"/>
<rect x="67.33" y="56.5" width="4.6" height="6.1" fill="#f0ec10" stroke="rgba(0,0,0,0.36)" stroke-width="0.65"/>
<rect x="67.33" y="62.6" width="4.6" height="20.9" fill="#8e8c8e" stroke="rgba(0,0,0,0.36)" stroke-width="0.65"/>
<rect x="68.53" y="72.55" width="2.2" height="1" fill="#fff" opacity="0.45"/>
<rect x="67.33" y="83.5" width="4.6" height="2.3" fill="#eb0a14" stroke="rgba(0,0,0,0.36)" stroke-width="0.65"/>
<rect x="67.33" y="85.8" width="4.6" height="5.8" fill="#faaa1e" stroke="rgba(0,0,0,0.36)" stroke-width="0.65"/>
<rect x="68.53" y="88.2" width="2.2" height="1" fill="#fff" opacity="0.45"/>
<rect x="67.33" y="91.6" width="4.6" height="7.7" fill="#aadcbe" stroke="rgba(0,0,0,0.36)" stroke-width="0.65"/>
<rect x="68.53" y="94.95" width="2.2" height="1" fill="#fff" opacity="0.45"/>
<rect x="67.33" y="99.3" width="4.6" height="37.9" fill="#48b275" stroke="rgba(0,0,0,0.36)" stroke-width="0.65"/>
<rect x="68.53" y="117.75" width="2.2" height="1" fill="#fff" opacity="0.45"/>
<rect x="67.33" y="137.2" width="4.6" height="38" fill="#237a4c" stroke="rgba(0,0,0,0.36)" stroke-width="0.65"/>
<rect x="68.53" y="155.7" width="2.2" height="1" fill="#fff" opacity="0.45"/>
<rect x="76.65" y="56.5" width="4.6" height="6.1" fill="#f0ec10" stroke="rgba(0,0,0,0.36)" stroke-width="0.65"/>
<rect x="76.65" y="62.6" width="4.6" height="22.7" fill="#8e8c8e" stroke="rgba(0,0,0,0.36)" stroke-width="0.65"/>
<rect x="77.85" y="73.45" width="2.2" height="1" fill="#fff" opacity="0.45"/>
<rect x="76.65" y="85.3" width="4.6" height="1.4" fill="#eb0a14" stroke="rgba(0,0,0,0.36)" stroke-width="0.65"/>
<rect x="76.65" y="86.7" width="4.6" height="5.6" fill="#faaa1e" stroke="rgba(0,0,0,0.36)" stroke-width="0.65"/>
<rect x="77.85" y="89" width="2.2" height="1" fill="#fff" opacity="0.45"/>
<rect x="76.65" y="92.3" width="4.6" height="7" fill="#aadcbe" stroke="rgba(0,0,0,0.36)" stroke-width="0.65"/>
<rect x="77.85" y="95.3" width="2.2" height="1" fill="#fff" opacity="0.45"/>
<rect x="76.65" y="99.3" width="4.6" height="16.8" fill="#48b275" stroke="rgba(0,0,0,0.36)" stroke-width="0.65"/>
<rect x="77.85" y="107.2" width="2.2" height="1" fill="#fff" opacity="0.45"/>
<rect x="76.65" y="116.1" width="4.6" height="59.1" fill="#237a4c" stroke="rgba(0,0,0,0.36)" stroke-width="0.65"/>
<rect x="77.85" y="145.15" width="2.2" height="1" fill="#fff" opacity="0.45"/>
<rect x="85.96" y="56.5" width="4.6" height="6.1" fill="#f0ec10" stroke="rgba(0,0,0,0.36)" stroke-width="0.65"/>
<rect x="85.96" y="62.6" width="4.6" height="13.7" fill="#8e8c8e" stroke="rgba(0,0,0,0.36)" stroke-width="0.65"/>
<rect x="87.16" y="68.95" width="2.2" height="1" fill="#fff" opacity="0.45"/>
<rect x="85.96" y="76.3" width="4.6" height="4.2" fill="#eb0a14" stroke="rgba(0,0,0,0.36)" stroke-width="0.65"/>
<rect x="85.96" y="80.5" width="4.6" height="6.2" fill="#faaa1e" stroke="rgba(0,0,0,0.36)" stroke-width="0.65"/>
<rect x="87.16" y="83.1" width="2.2" height="1" fill="#fff" opacity="0.45"/>
<rect x="85.96" y="86.7" width="4.6" height="9.1" fill="#aadcbe" stroke="rgba(0,0,0,0.36)" stroke-width="0.65"/>
<rect x="87.16" y="90.75" width="2.2" height="1" fill="#fff" opacity="0.45"/>
<rect x="85.96" y="95.8" width="4.6" height="32.2" fill="#48b275" stroke="rgba(0,0,0,0.36)" stroke-width="0.65"/>
<rect x="87.16" y="111.4" width="2.2" height="1" fill="#fff" opacity="0.45"/>
<rect x="85.96" y="128" width="4.6" height="47.2" fill="#237a4c" stroke="rgba(0,0,0,0.36)" stroke-width="0.65"/>
<rect x="87.16" y="151.1" width="2.2" height="1" fill="#fff" opacity="0.45"/>
<rect x="95.28" y="56.5" width="4.6" height="6.1" fill="#f0ec10" stroke="rgba(0,0,0,0.36)" stroke-width="0.65"/>
<rect x="95.28" y="62.6" width="4.6" height="4.9" fill="#afaa8c" stroke="rgba(0,0,0,0.36)" stroke-width="0.65"/>
<rect x="96.48" y="64.55" width="2.2" height="1" fill="#fff" opacity="0.45"/>
<rect x="95.28" y="67.5" width="4.6" height="8.8" fill="#8e8c8e" stroke="rgba(0,0,0,0.36)" stroke-width="0.65"/>
<rect x="96.48" y="71.4" width="2.2" height="1" fill="#fff" opacity="0.45"/>
<rect x="95.28" y="76.3" width="4.6" height="4.9" fill="#eb0a14" stroke="rgba(0,0,0,0.36)" stroke-width="0.65"/>
<rect x="96.48" y="78.25" width="2.2" height="1" fill="#fff" opacity="0.45"/>
<rect x="95.28" y="81.2" width="4.6" height="9.7" fill="#faaa1e" stroke="rgba(0,0,0,0.36)" stroke-width="0.65"/>
<rect x="96.48" y="85.55" width="2.2" height="1" fill="#fff" opacity="0.45"/>
<rect x="95.28" y="90.9" width="4.6" height="11.1" fill="#aadcbe" stroke="rgba(0,0,0,0.36)" stroke-width="0.65"/>
<rect x="96.48" y="95.95" width="2.2" height="1" fill="#fff" opacity="0.45"/>
<rect x="95.28" y="102" width="4.6" height="26" fill="#48b275" stroke="rgba(0,0,0,0.36)" stroke-width="0.65"/>
<rect x="96.48" y="114.5" width="2.2" height="1" fill="#fff" opacity="0.45"/>
<rect x="95.28" y="128" width="4.6" height="47.2" fill="#237a4c" stroke="rgba(0,0,0,0.36)" stroke-width="0.65"/>
<rect x="96.48" y="151.1" width="2.2" height="1" fill="#fff" opacity="0.45"/>
<rect x="104.59" y="56.5" width="4.6" height="6.1" fill="#f0ec10" stroke="rgba(0,0,0,0.36)" stroke-width="0.65"/>
<rect x="104.59" y="62.6" width="4.6" height="7.4" fill="#afaa8c" stroke="rgba(0,0,0,0.36)" stroke-width="0.65"/>
<rect x="105.79" y="65.8" width="2.2" height="1" fill="#fff" opacity="0.45"/>
<rect x="104.59" y="70" width="4.6" height="9.8" fill="#8e8c8e" stroke="rgba(0,0,0,0.36)" stroke-width="0.65"/>
<rect x="105.79" y="74.4" width="2.2" height="1" fill="#fff" opacity="0.45"/>
<rect x="104.59" y="79.8" width="4.6" height="6.2" fill="#eb0a14" stroke="rgba(0,0,0,0.36)" stroke-width="0.65"/>
<rect x="105.79" y="82.4" width="2.2" height="1" fill="#fff" opacity="0.45"/>
<rect x="104.59" y="86" width="4.6" height="15.4" fill="#faaa1e" stroke="rgba(0,0,0,0.36)" stroke-width="0.65"/>
<rect x="105.79" y="93.2" width="2.2" height="1" fill="#fff" opacity="0.45"/>
<rect x="104.59" y="101.4" width="4.6" height="16.6" fill="#aadcbe" stroke="rgba(0,0,0,0.36)" stroke-width="0.65"/>
<rect x="105.79" y="109.2" width="2.2" height="1" fill="#fff" opacity="0.45"/>
<rect x="104.59" y="118" width="4.6" height="20.4" fill="#48b275" stroke="rgba(0,0,0,0.36)" stroke-width="0.65"/>
<rect x="105.79" y="127.7" width="2.2" height="1" fill="#fff" opacity="0.45"/>
<rect x="104.59" y="138.4" width="4.6" height="36.8" fill="#237a4c" stroke="rgba(0,0,0,0.36)" stroke-width="0.65"/>
<rect x="105.79" y="156.3" width="2.2" height="1" fill="#fff" opacity="0.45"/>
<rect x="113.91" y="56.5" width="4.6" height="6.5" fill="#f0ec10" stroke="rgba(0,0,0,0.36)" stroke-width="0.65"/>
<rect x="113.91" y="63" width="4.6" height="11.9" fill="#afaa8c" stroke="rgba(0,0,0,0.36)" stroke-width="0.65"/>
<rect x="115.11" y="68.45" width="2.2" height="1" fill="#fff" opacity="0.45"/>
<rect x="113.91" y="74.9" width="4.6" height="7" fill="#8e8c8e" stroke="rgba(0,0,0,0.36)" stroke-width="0.65"/>
<rect x="115.11" y="77.9" width="2.2" height="1" fill="#fff" opacity="0.45"/>
<rect x="113.91" y="81.9" width="4.6" height="5.5" fill="#eb0a14" stroke="rgba(0,0,0,0.36)" stroke-width="0.65"/>
<rect x="115.11" y="84.15" width="2.2" height="1" fill="#fff" opacity="0.45"/>
<rect x="113.91" y="87.4" width="4.6" height="18.1" fill="#faaa1e" stroke="rgba(0,0,0,0.36)" stroke-width="0.65"/>
<rect x="115.11" y="95.95" width="2.2" height="1" fill="#fff" opacity="0.45"/>
<rect x="113.91" y="105.5" width="4.6" height="16.2" fill="#aadcbe" stroke="rgba(0,0,0,0.36)" stroke-width="0.65"/>
<rect x="115.11" y="113.1" width="2.2" height="1" fill="#fff" opacity="0.45"/>
<rect x="113.91" y="121.7" width="4.6" height="23.6" fill="#48b275" stroke="rgba(0,0,0,0.36)" stroke-width="0.65"/>
<rect x="115.11" y="133" width="2.2" height="1" fill="#fff" opacity="0.45"/>
<rect x="113.91" y="145.3" width="4.6" height="29.9" fill="#237a4c" stroke="rgba(0,0,0,0.36)" stroke-width="0.65"/>
<rect x="115.11" y="159.75" width="2.2" height="1" fill="#fff" opacity="0.45"/>
<rect x="123.23" y="56.5" width="4.6" height="6.5" fill="#f0ec10" stroke="rgba(0,0,0,0.36)" stroke-width="0.65"/>
<rect x="123.23" y="63" width="4.6" height="11.9" fill="#afaa8c" stroke="rgba(0,0,0,0.36)" stroke-width="0.65"/>
<rect x="124.43" y="68.45" width="2.2" height="1" fill="#fff" opacity="0.45"/>
<rect x="123.23" y="74.9" width="4.6" height="9.1" fill="#8e8c8e" stroke="rgba(0,0,0,0.36)" stroke-width="0.65"/>
<rect x="124.43" y="78.95" width="2.2" height="1" fill="#fff" opacity="0.45"/>
<rect x="123.23" y="84" width="4.6" height="7.6" fill="#eb0a14" stroke="rgba(0,0,0,0.36)" stroke-width="0.65"/>
<rect x="124.43" y="87.3" width="2.2" height="1" fill="#fff" opacity="0.45"/>
<rect x="123.23" y="91.6" width="4.6" height="20.9" fill="#faaa1e" stroke="rgba(0,0,0,0.36)" stroke-width="0.65"/>
<rect x="124.43" y="101.55" width="2.2" height="1" fill="#fff" opacity="0.45"/>
<rect x="123.23" y="112.5" width="4.6" height="13.5" fill="#aadcbe" stroke="rgba(0,0,0,0.36)" stroke-width="0.65"/>
<rect x="124.43" y="118.75" width="2.2" height="1" fill="#fff" opacity="0.45"/>
<rect x="123.23" y="126" width="4.6" height="20.7" fill="#48b275" stroke="rgba(0,0,0,0.36)" stroke-width="0.65"/>
<rect x="124.43" y="135.85" width="2.2" height="1" fill="#fff" opacity="0.45"/>
<rect x="123.23" y="146.7" width="4.6" height="28.5" fill="#237a4c" stroke="rgba(0,0,0,0.36)" stroke-width="0.65"/>
<rect x="124.43" y="160.45" width="2.2" height="1" fill="#fff" opacity="0.45"/>
<rect x="132.54" y="56.5" width="4.6" height="6.5" fill="#f0ec10" stroke="rgba(0,0,0,0.36)" stroke-width="0.65"/>
<rect x="132.54" y="63" width="4.6" height="13.3" fill="#afaa8c" stroke="rgba(0,0,0,0.36)" stroke-width="0.65"/>
<rect x="133.74" y="69.15" width="2.2" height="1" fill="#fff" opacity="0.45"/>
<rect x="132.54" y="76.3" width="4.6" height="9.7" fill="#8e8c8e" stroke="rgba(0,0,0,0.36)" stroke-width="0.65"/>
<rect x="133.74" y="80.65" width="2.2" height="1" fill="#fff" opacity="0.45"/>
<rect x="132.54" y="86" width="4.6" height="9.8" fill="#eb0a14" stroke="rgba(0,0,0,0.36)" stroke-width="0.65"/>
<rect x="133.74" y="90.4" width="2.2" height="1" fill="#fff" opacity="0.45"/>
<rect x="132.54" y="95.8" width="4.6" height="21.7" fill="#faaa1e" stroke="rgba(0,0,0,0.36)" stroke-width="0.65"/>
<rect x="133.74" y="106.15" width="2.2" height="1" fill="#fff" opacity="0.45"/>
<rect x="132.54" y="117.5" width="4.6" height="17.4" fill="#aadcbe" stroke="rgba(0,0,0,0.36)" stroke-width="0.65"/>
<rect x="133.74" y="125.7" width="2.2" height="1" fill="#fff" opacity="0.45"/>
<rect x="132.54" y="134.9" width="4.6" height="20.1" fill="#48b275" stroke="rgba(0,0,0,0.36)" stroke-width="0.65"/>
<rect x="133.74" y="144.45" width="2.2" height="1" fill="#fff" opacity="0.45"/>
<rect x="132.54" y="155" width="4.6" height="20.2" fill="#237a4c" stroke="rgba(0,0,0,0.36)" stroke-width="0.65"/>
<rect x="133.74" y="164.6" width="2.2" height="1" fill="#fff" opacity="0.45"/>
<rect x="141.86" y="56.5" width="4.6" height="7.2" fill="#f0ec10" stroke="rgba(0,0,0,0.36)" stroke-width="0.65"/>
<rect x="141.86" y="63.7" width="4.6" height="18.2" fill="#afaa8c" stroke="rgba(0,0,0,0.36)" stroke-width="0.65"/>
<rect x="143.06" y="72.3" width="2.2" height="1" fill="#fff" opacity="0.45"/>
<rect x="141.86" y="81.9" width="4.6" height="22.9" fill="#8e8c8e" stroke="rgba(0,0,0,0.36)" stroke-width="0.65"/>
<rect x="143.06" y="92.85" width="2.2" height="1" fill="#fff" opacity="0.45"/>
<rect x="141.86" y="104.8" width="4.6" height="11.2" fill="#eb0a14" stroke="rgba(0,0,0,0.36)" stroke-width="0.65"/>
<rect x="143.06" y="109.9" width="2.2" height="1" fill="#fff" opacity="0.45"/>
<rect x="141.86" y="116" width="4.6" height="22.4" fill="#faaa1e" stroke="rgba(0,0,0,0.36)" stroke-width="0.65"/>
<rect x="143.06" y="126.7" width="2.2" height="1" fill="#fff" opacity="0.45"/>
<rect x="141.86" y="138.4" width="4.6" height="8.3" fill="#aadcbe" stroke="rgba(0,0,0,0.36)" stroke-width="0.65"/>
<rect x="143.06" y="142.05" width="2.2" height="1" fill="#fff" opacity="0.45"/>
<rect x="141.86" y="146.7" width="4.6" height="13.3" fill="#48b275" stroke="rgba(0,0,0,0.36)" stroke-width="0.65"/>
<rect x="143.06" y="152.85" width="2.2" height="1" fill="#fff" opacity="0.45"/>
<rect x="141.86" y="160" width="4.6" height="15.2" fill="#237a4c" stroke="rgba(0,0,0,0.36)" stroke-width="0.65"/>
<rect x="143.06" y="167.1" width="2.2" height="1" fill="#fff" opacity="0.45"/>
<rect x="151.17" y="56.5" width="4.6" height="7.9" fill="#f0ec10" stroke="rgba(0,0,0,0.36)" stroke-width="0.65"/>
<rect x="151.17" y="64.4" width="4.6" height="19.6" fill="#afaa8c" stroke="rgba(0,0,0,0.36)" stroke-width="0.65"/>
<rect x="152.37" y="73.7" width="2.2" height="1" fill="#fff" opacity="0.45"/>
<rect x="151.17" y="84" width="4.6" height="16.7" fill="#8e8c8e" stroke="rgba(0,0,0,0.36)" stroke-width="0.65"/>
<rect x="152.37" y="91.85" width="2.2" height="1" fill="#fff" opacity="0.45"/>
<rect x="151.17" y="100.7" width="4.6" height="16.1" fill="#eb0a14" stroke="rgba(0,0,0,0.36)" stroke-width="0.65"/>
<rect x="152.37" y="108.25" width="2.2" height="1" fill="#fff" opacity="0.45"/>
<rect x="151.17" y="116.8" width="4.6" height="25.8" fill="#faaa1e" stroke="rgba(0,0,0,0.36)" stroke-width="0.65"/>
<rect x="152.37" y="129.2" width="2.2" height="1" fill="#fff" opacity="0.45"/>
<rect x="151.17" y="142.6" width="4.6" height="7.4" fill="#aadcbe" stroke="rgba(0,0,0,0.36)" stroke-width="0.65"/>
<rect x="152.37" y="145.8" width="2.2" height="1" fill="#fff" opacity="0.45"/>
<rect x="151.17" y="150" width="4.6" height="19" fill="#48b275" stroke="rgba(0,0,0,0.36)" stroke-width="0.65"/>
<rect x="152.37" y="159" width="2.2" height="1" fill="#fff" opacity="0.45"/>
<rect x="151.17" y="169" width="4.6" height="6.2" fill="#237a4c" stroke="rgba(0,0,0,0.36)" stroke-width="0.65"/>
<rect x="152.37" y="171.6" width="2.2" height="1" fill="#fff" opacity="0.45"/>
<rect x="160.49" y="56.5" width="4.6" height="8.6" fill="#f0ec10" stroke="rgba(0,0,0,0.36)" stroke-width="0.65"/>
<path d="M160.49 60.8H165.09" stroke="rgba(0,0,0,0.4)" stroke-width="0.6"/>
<rect x="160.49" y="65.1" width="4.6" height="23" fill="#afaa8c" stroke="rgba(0,0,0,0.36)" stroke-width="0.65"/>
<rect x="161.69" y="76.1" width="2.2" height="1" fill="#fff" opacity="0.45"/>
<rect x="160.49" y="88.1" width="4.6" height="23.7" fill="#8e8c8e" stroke="rgba(0,0,0,0.36)" stroke-width="0.65"/>
<rect x="161.69" y="99.45" width="2.2" height="1" fill="#fff" opacity="0.45"/>
<rect x="160.49" y="111.8" width="4.6" height="13.3" fill="#eb0a14" stroke="rgba(0,0,0,0.36)" stroke-width="0.65"/>
<rect x="161.69" y="117.95" width="2.2" height="1" fill="#fff" opacity="0.45"/>
<rect x="160.49" y="125.1" width="4.6" height="21.6" fill="#faaa1e" stroke="rgba(0,0,0,0.36)" stroke-width="0.65"/>
<rect x="161.69" y="135.4" width="2.2" height="1" fill="#fff" opacity="0.45"/>
<rect x="160.49" y="146.7" width="4.6" height="6.3" fill="#aadcbe" stroke="rgba(0,0,0,0.36)" stroke-width="0.65"/>
<rect x="161.69" y="149.35" width="2.2" height="1" fill="#fff" opacity="0.45"/>
<rect x="160.49" y="153" width="4.6" height="17.4" fill="#48b275" stroke="rgba(0,0,0,0.36)" stroke-width="0.65"/>
<rect x="161.69" y="161.2" width="2.2" height="1" fill="#fff" opacity="0.45"/>
<rect x="160.49" y="170.4" width="4.6" height="4.8" fill="#237a4c" stroke="rgba(0,0,0,0.36)" stroke-width="0.65"/>
<rect x="161.69" y="172.3" width="2.2" height="1" fill="#fff" opacity="0.45"/>
<rect x="169.81" y="56.5" width="4.6" height="9.8" fill="#f0ec10" stroke="rgba(0,0,0,0.36)" stroke-width="0.65"/>
<path d="M169.81 61.4H174.41" stroke="rgba(0,0,0,0.4)" stroke-width="0.6"/>
<rect x="169.81" y="66.3" width="4.6" height="28.1" fill="#afaa8c" stroke="rgba(0,0,0,0.36)" stroke-width="0.65"/>
<rect x="171.01" y="79.85" width="2.2" height="1" fill="#fff" opacity="0.45"/>
<rect x="169.81" y="94.4" width="4.6" height="21.6" fill="#8e8c8e" stroke="rgba(0,0,0,0.36)" stroke-width="0.65"/>
<rect x="171.01" y="104.7" width="2.2" height="1" fill="#fff" opacity="0.45"/>
<rect x="169.81" y="116" width="4.6" height="17.5" fill="#eb0a14" stroke="rgba(0,0,0,0.36)" stroke-width="0.65"/>
<rect x="171.01" y="124.25" width="2.2" height="1" fill="#fff" opacity="0.45"/>
<rect x="169.81" y="133.5" width="4.6" height="18.8" fill="#faaa1e" stroke="rgba(0,0,0,0.36)" stroke-width="0.65"/>
<rect x="171.01" y="142.4" width="2.2" height="1" fill="#fff" opacity="0.45"/>
<rect x="169.81" y="152.3" width="4.6" height="6.3" fill="#aadcbe" stroke="rgba(0,0,0,0.36)" stroke-width="0.65"/>
<rect x="171.01" y="154.95" width="2.2" height="1" fill="#fff" opacity="0.45"/>
<rect x="169.81" y="158.6" width="4.6" height="11.4" fill="#48b275" stroke="rgba(0,0,0,0.36)" stroke-width="0.65"/>
<rect x="171.01" y="163.8" width="2.2" height="1" fill="#fff" opacity="0.45"/>
<rect x="169.81" y="170" width="4.6" height="5.2" fill="#237a4c" stroke="rgba(0,0,0,0.36)" stroke-width="0.65"/>
<rect x="171.01" y="172.1" width="2.2" height="1" fill="#fff" opacity="0.45"/>
<rect x="179.12" y="56.5" width="4.6" height="11.4" fill="#f0ec10" stroke="rgba(0,0,0,0.36)" stroke-width="0.65"/>
<path d="M179.12 62.2H183.72" stroke="rgba(0,0,0,0.4)" stroke-width="0.6"/>
<rect x="179.12" y="67.9" width="4.6" height="33.5" fill="#afaa8c" stroke="rgba(0,0,0,0.36)" stroke-width="0.65"/>
<rect x="180.32" y="84.15" width="2.2" height="1" fill="#fff" opacity="0.45"/>
<rect x="179.12" y="101.4" width="4.6" height="14" fill="#8e8c8e" stroke="rgba(0,0,0,0.36)" stroke-width="0.65"/>
<rect x="180.32" y="107.9" width="2.2" height="1" fill="#fff" opacity="0.45"/>
<rect x="179.12" y="115.4" width="4.6" height="23" fill="#eb0a14" stroke="rgba(0,0,0,0.36)" stroke-width="0.65"/>
<rect x="180.32" y="126.4" width="2.2" height="1" fill="#fff" opacity="0.45"/>
<rect x="179.12" y="138.4" width="4.6" height="14.9" fill="#faaa1e" stroke="rgba(0,0,0,0.36)" stroke-width="0.65"/>
<rect x="180.32" y="145.35" width="2.2" height="1" fill="#fff" opacity="0.45"/>
<rect x="179.12" y="153.3" width="4.6" height="4.7" fill="#aadcbe" stroke="rgba(0,0,0,0.36)" stroke-width="0.65"/>
<rect x="180.32" y="155.15" width="2.2" height="1" fill="#fff" opacity="0.45"/>
<rect x="179.12" y="158" width="4.6" height="12" fill="#48b275" stroke="rgba(0,0,0,0.36)" stroke-width="0.65"/>
<rect x="180.32" y="163.5" width="2.2" height="1" fill="#fff" opacity="0.45"/>
<rect x="179.12" y="170" width="4.6" height="5.2" fill="#237a4c" stroke="rgba(0,0,0,0.36)" stroke-width="0.65"/>
<rect x="180.32" y="172.1" width="2.2" height="1" fill="#fff" opacity="0.45"/>
<rect x="188.44" y="56.5" width="4.6" height="13.1" fill="#f0ec10" stroke="rgba(0,0,0,0.36)" stroke-width="0.65"/>
<path d="M188.44 63.05H193.04" stroke="rgba(0,0,0,0.4)" stroke-width="0.6"/>
<rect x="188.44" y="69.6" width="4.6" height="38.7" fill="#afaa8c" stroke="rgba(0,0,0,0.36)" stroke-width="0.65"/>
<rect x="189.64" y="88.45" width="2.2" height="1" fill="#fff" opacity="0.45"/>
<rect x="188.44" y="108.3" width="4.6" height="19" fill="#8e8c8e" stroke="rgba(0,0,0,0.36)" stroke-width="0.65"/>
<rect x="189.64" y="117.3" width="2.2" height="1" fill="#fff" opacity="0.45"/>
<rect x="188.44" y="127.3" width="4.6" height="15.1" fill="#eb0a14" stroke="rgba(0,0,0,0.36)" stroke-width="0.65"/>
<rect x="189.64" y="134.35" width="2.2" height="1" fill="#fff" opacity="0.45"/>
<rect x="188.44" y="142.4" width="4.6" height="16.1" fill="#faaa1e" stroke="rgba(0,0,0,0.36)" stroke-width="0.65"/>
<rect x="189.64" y="149.95" width="2.2" height="1" fill="#fff" opacity="0.45"/>
<rect x="188.44" y="158.5" width="4.6" height="4.5" fill="#aadcbe" stroke="rgba(0,0,0,0.36)" stroke-width="0.65"/>
<rect x="188.44" y="163" width="4.6" height="8" fill="#48b275" stroke="rgba(0,0,0,0.36)" stroke-width="0.65"/>
<rect x="189.64" y="166.5" width="2.2" height="1" fill="#fff" opacity="0.45"/>
<rect x="188.44" y="171" width="4.6" height="4.2" fill="#237a4c" stroke="rgba(0,0,0,0.36)" stroke-width="0.65"/>
<rect x="197.75" y="56.5" width="4.6" height="13.9" fill="#f0ec10" stroke="rgba(0,0,0,0.36)" stroke-width="0.65"/>
<path d="M197.75 63.45H202.35" stroke="rgba(0,0,0,0.4)" stroke-width="0.6"/>
<rect x="197.75" y="70.4" width="4.6" height="44.6" fill="#afaa8c" stroke="rgba(0,0,0,0.36)" stroke-width="0.65"/>
<rect x="198.95" y="92.2" width="2.2" height="1" fill="#fff" opacity="0.45"/>
<rect x="197.75" y="115" width="4.6" height="26" fill="#8e8c8e" stroke="rgba(0,0,0,0.36)" stroke-width="0.65"/>
<rect x="198.95" y="127.5" width="2.2" height="1" fill="#fff" opacity="0.45"/>
<rect x="197.75" y="141" width="4.6" height="12.7" fill="#eb0a14" stroke="rgba(0,0,0,0.36)" stroke-width="0.65"/>
<rect x="198.95" y="146.85" width="2.2" height="1" fill="#fff" opacity="0.45"/>
<rect x="197.75" y="153.7" width="4.6" height="12.3" fill="#faaa1e" stroke="rgba(0,0,0,0.36)" stroke-width="0.65"/>
<rect x="198.95" y="159.35" width="2.2" height="1" fill="#fff" opacity="0.45"/>
<rect x="197.75" y="166" width="4.6" height="2" fill="#aadcbe" stroke="rgba(0,0,0,0.36)" stroke-width="0.65"/>
<rect x="197.75" y="168" width="4.6" height="4" fill="#48b275" stroke="rgba(0,0,0,0.36)" stroke-width="0.65"/>
<rect x="197.75" y="172" width="4.6" height="3.2" fill="#237a4c" stroke="rgba(0,0,0,0.36)" stroke-width="0.65"/>
<rect x="207.07" y="56.5" width="4.6" height="14.9" fill="#f0ec10" stroke="rgba(0,0,0,0.36)" stroke-width="0.65"/>
<path d="M207.07 63.95H211.67" stroke="rgba(0,0,0,0.4)" stroke-width="0.6"/>
<rect x="207.07" y="71.4" width="4.6" height="48.2" fill="#afaa8c" stroke="rgba(0,0,0,0.36)" stroke-width="0.65"/>
<rect x="208.27" y="95" width="2.2" height="1" fill="#fff" opacity="0.45"/>
<rect x="207.07" y="119.6" width="4.6" height="45.1" fill="#8e8c8e" stroke="rgba(0,0,0,0.36)" stroke-width="0.65"/>
<rect x="208.27" y="141.65" width="2.2" height="1" fill="#fff" opacity="0.45"/>
<rect x="207.07" y="164.7" width="4.6" height="5.8" fill="#eb0a14" stroke="rgba(0,0,0,0.36)" stroke-width="0.65"/>
<rect x="208.27" y="167.1" width="2.2" height="1" fill="#fff" opacity="0.45"/>
<rect x="207.07" y="170.5" width="4.6" height="3" fill="#faaa1e" stroke="rgba(0,0,0,0.36)" stroke-width="0.65"/>
<rect x="207.07" y="173.5" width="4.6" height="1.7" fill="#237a4c" stroke="rgba(0,0,0,0.36)" stroke-width="0.65"/>
<rect x="216.38" y="56.5" width="4.6" height="15.6" fill="#f0ec10" stroke="rgba(0,0,0,0.36)" stroke-width="0.65"/>
<path d="M216.38 64.3H220.98" stroke="rgba(0,0,0,0.4)" stroke-width="0.6"/>
<rect x="216.38" y="72.1" width="4.6" height="51.4" fill="#afaa8c" stroke="rgba(0,0,0,0.36)" stroke-width="0.65"/>
<rect x="217.58" y="97.3" width="2.2" height="1" fill="#fff" opacity="0.45"/>
<rect x="216.38" y="123.5" width="4.6" height="50.3" fill="#8e8c8e" stroke="rgba(0,0,0,0.36)" stroke-width="0.65"/>
<rect x="217.58" y="148.15" width="2.2" height="1" fill="#fff" opacity="0.45"/>
<rect x="216.38" y="173.8" width="4.6" height="1.4" fill="#eb0a14" stroke="rgba(0,0,0,0.36)" stroke-width="0.65"/>
<rect x="225.7" y="56.5" width="4.6" height="16.3" fill="#f0ec10" stroke="rgba(0,0,0,0.36)" stroke-width="0.65"/>
<path d="M225.7 64.65H230.3" stroke="rgba(0,0,0,0.4)" stroke-width="0.6"/>
<rect x="225.7" y="72.8" width="4.6" height="51.6" fill="#afaa8c" stroke="rgba(0,0,0,0.36)" stroke-width="0.65"/>
<rect x="226.9" y="98.1" width="2.2" height="1" fill="#fff" opacity="0.45"/>
<rect x="225.7" y="124.4" width="4.6" height="50.8" fill="#8e8c8e" stroke="rgba(0,0,0,0.36)" stroke-width="0.65"/>
<rect x="226.9" y="149.3" width="2.2" height="1" fill="#fff" opacity="0.45"/>
<path d="M35.8 54.2H243M35.8 53.6V177.6" stroke="#111" stroke-width="1.15" fill="none"/>
<path d="M32.8 174.6H35.8" stroke="#111" stroke-width="0.8"/>
<text x="29.9" y="176.7" font-size="5.9" text-anchor="end" fill="#333" stroke="none">0</text>
<path d="M32.8 150.98H35.8" stroke="#111" stroke-width="0.8"/>
<text x="29.9" y="153.08" font-size="5.9" text-anchor="end" fill="#333" stroke="none">20</text>
<path d="M32.8 127.36H35.8" stroke="#111" stroke-width="0.8"/>
<text x="29.9" y="129.46" font-size="5.9" text-anchor="end" fill="#333" stroke="none">40</text>
<path d="M32.8 103.74H35.8" stroke="#111" stroke-width="0.8"/>
<text x="29.9" y="105.84" font-size="5.9" text-anchor="end" fill="#333" stroke="none">60</text>
<path d="M32.8 80.12H35.8" stroke="#111" stroke-width="0.8"/>
<text x="29.9" y="82.22" font-size="5.9" text-anchor="end" fill="#333" stroke="none">80</text>
<path d="M32.8 56.5H35.8" stroke="#111" stroke-width="0.8"/>
<text x="29.9" y="58.6" font-size="5.9" text-anchor="end" fill="#333" stroke="none">100</text>
<path d="M51 51.2V54" stroke="#111" stroke-width="0.6"/>
<text transform="translate(51.4,49.5) rotate(-45)" font-size="6.1" fill="#333" stroke="none">SCRN</text>
<path d="M60.32 51.2V54" stroke="#111" stroke-width="0.6"/>
<text transform="translate(60.72,49.5) rotate(-45)" font-size="6.1" fill="#333" stroke="none">C7D1</text>
<path d="M69.63 51.2V54" stroke="#111" stroke-width="0.6"/>
<text transform="translate(70.03,49.5) rotate(-45)" font-size="6.1" fill="#333" stroke="none">C9D1</text>
<path d="M78.95 51.2V54" stroke="#111" stroke-width="0.6"/>
<text transform="translate(79.35,49.5) rotate(-45)" font-size="6.1" fill="#333" stroke="none">C12D1</text>
<path d="M88.26 51.2V54" stroke="#111" stroke-width="0.6"/>
<text transform="translate(88.66,49.5) rotate(-45)" font-size="6.1" fill="#333" stroke="none">FU3</text>
<path d="M97.58 51.2V54" stroke="#111" stroke-width="0.6"/>
<text transform="translate(97.98,49.5) rotate(-45)" font-size="6.1" fill="#333" stroke="none">FU6</text>
<path d="M106.89 51.2V54" stroke="#111" stroke-width="0.6"/>
<text transform="translate(107.29,49.5) rotate(-45)" font-size="6.1" fill="#333" stroke="none">FU9</text>
<path d="M116.21 51.2V54" stroke="#111" stroke-width="0.6"/>
<text transform="translate(116.61,49.5) rotate(-45)" font-size="6.1" fill="#333" stroke="none">FU12</text>
<path d="M125.53 51.2V54" stroke="#111" stroke-width="0.6"/>
<text transform="translate(125.93,49.5) rotate(-45)" font-size="6.1" fill="#333" stroke="none">FU15</text>
<path d="M134.84 51.2V54" stroke="#111" stroke-width="0.6"/>
<text transform="translate(135.24,49.5) rotate(-45)" font-size="6.1" fill="#333" stroke="none">FU18</text>
<path d="M144.16 51.2V54" stroke="#111" stroke-width="0.6"/>
<text transform="translate(144.56,49.5) rotate(-45)" font-size="6.1" fill="#333" stroke="none">FU24</text>
<path d="M153.47 51.2V54" stroke="#111" stroke-width="0.6"/>
<text transform="translate(153.87,49.5) rotate(-45)" font-size="6.1" fill="#333" stroke="none">FU30</text>
<path d="M162.79 51.2V54" stroke="#111" stroke-width="0.6"/>
<text transform="translate(163.19,49.5) rotate(-45)" font-size="6.1" fill="#333" stroke="none">FU36</text>
<path d="M172.11 51.2V54" stroke="#111" stroke-width="0.6"/>
<text transform="translate(172.51,49.5) rotate(-45)" font-size="6.1" fill="#333" stroke="none">FU42</text>
<path d="M181.42 51.2V54" stroke="#111" stroke-width="0.6"/>
<text transform="translate(181.82,49.5) rotate(-45)" font-size="6.1" fill="#333" stroke="none">FU48</text>
<path d="M190.74 51.2V54" stroke="#111" stroke-width="0.6"/>
<text transform="translate(191.14,49.5) rotate(-45)" font-size="6.1" fill="#333" stroke="none">FU54</text>
<path d="M200.05 51.2V54" stroke="#111" stroke-width="0.6"/>
<text transform="translate(200.45,49.5) rotate(-45)" font-size="6.1" fill="#333" stroke="none">FU60</text>
<path d="M209.37 51.2V54" stroke="#111" stroke-width="0.6"/>
<text transform="translate(209.77,49.5) rotate(-45)" font-size="6.1" fill="#333" stroke="none">FU66</text>
<path d="M218.68 51.2V54" stroke="#111" stroke-width="0.6"/>
<text transform="translate(219.08,49.5) rotate(-45)" font-size="6.1" fill="#333" stroke="none">FU72</text>
<path d="M228 51.2V54" stroke="#111" stroke-width="0.6"/>
<text transform="translate(228.4,49.5) rotate(-45)" font-size="6.1" fill="#333" stroke="none">FU78</text>
<text transform="translate(13.4,116.3) rotate(-90)" font-size="6.4" text-anchor="middle" fill="#444" stroke="none">Percent</text>
<text x="139.3" y="30.5" font-size="8.8" text-anchor="middle" textLength="31.6" lengthAdjust="spacingAndGlyphs" fill="#222" stroke="none">Ven-Obi</text>
<text x="6.9" y="16.2" font-size="11.8" font-weight="bold" fill="#111">A</text>
<text x="132.7" y="187.2" font-size="6" fill="#333" stroke="none">MRD:</text>
<rect x="45.5" y="193.1" width="3.3" height="3.3" fill="#237a4c" stroke="rgba(0,0,0,0.45)" stroke-width="0.5"/>
<text x="52" y="196.8" font-size="6.6" textLength="16.7" lengthAdjust="spacingAndGlyphs" fill="#333" stroke="none">&lt; 10<tspan font-size="4" dy="-2.6">-6</tspan></text>
<rect x="75.6" y="193.1" width="3.3" height="3.3" fill="#48b275" stroke="rgba(0,0,0,0.45)" stroke-width="0.5"/>
<text x="81" y="196.8" font-size="6.6" textLength="49.5" lengthAdjust="spacingAndGlyphs" fill="#333" stroke="none">≥ 10<tspan font-size="4" dy="-2.6">-6</tspan><tspan dy="2.6"> and &lt; 10</tspan><tspan font-size="4" dy="-2.6">-5</tspan></text>
<rect x="135.8" y="193.1" width="3.3" height="3.3" fill="#aadcbe" stroke="rgba(0,0,0,0.45)" stroke-width="0.5"/>
<text x="141.2" y="196.8" font-size="6.6" textLength="49.2" lengthAdjust="spacingAndGlyphs" fill="#333" stroke="none">≥ 10<tspan font-size="4" dy="-2.6">-5</tspan><tspan dy="2.6"> and &lt; 10</tspan><tspan font-size="4" dy="-2.6">-4</tspan></text>
<rect x="196.4" y="193.1" width="3.3" height="3.3" fill="#faaa1e" stroke="rgba(0,0,0,0.45)" stroke-width="0.5"/>
<text x="202" y="196.8" font-size="6.6" textLength="19.8" lengthAdjust="spacingAndGlyphs" fill="#333" stroke="none">L-MRD</text>
<rect x="45.5" y="203.2" width="3.3" height="3.3" fill="#eb0a14" stroke="rgba(0,0,0,0.45)" stroke-width="0.5"/>
<text x="52" y="206.9" font-size="6.6" textLength="20.5" lengthAdjust="spacingAndGlyphs" fill="#333" stroke="none">H-MRD</text>
<rect x="79.2" y="203.2" width="3.3" height="3.3" fill="#8e8c8e" stroke="rgba(0,0,0,0.45)" stroke-width="0.5"/>
<text x="85.3" y="206.9" font-size="6.6" textLength="21.7" lengthAdjust="spacingAndGlyphs" fill="#333" stroke="none">Missing</text>
<rect x="113.8" y="203.2" width="3.3" height="3.3" fill="#afaa8c" stroke="rgba(0,0,0,0.45)" stroke-width="0.5"/>
<text x="119.6" y="206.9" font-size="6.6" textLength="28.1" lengthAdjust="spacingAndGlyphs" fill="#333" stroke="none">PD/Death</text>
<rect x="154" y="203.2" width="3.3" height="3.3" fill="#f0ec10" stroke="rgba(0,0,0,0.45)" stroke-width="0.5"/>
<text x="161" y="206.9" font-size="6.6" textLength="27" lengthAdjust="spacingAndGlyphs" fill="#333" stroke="none">Withdrew</text>
<polygon points="323.3,56.5 328.02,56.5 328.02,59 323.3,63.7" fill="#ddd8e6"/>
<polygon points="323.3,63.7 328.02,59 328.02,175.2 323.3,175.2" fill="#f07c76"/>
<g>
<polygon points="332.62,56.5 337.33,56.5 337.33,59.7 332.62,59.7" fill="#f9f79f" stroke="#f6f470" stroke-width="0.3"/>
<polygon points="332.62,59.7 337.33,59.7 337.33,61 332.62,61" fill="#e2e0d6" stroke="#d4d1c1" stroke-width="0.3"/>
<polygon points="332.62,61.04 337.33,61.5 337.33,73.69 332.62,73.23" fill="#d2d1d2" stroke="#bbbabb" stroke-width="0.3"/>
<polygon points="332.62,73.23 337.33,79.8 337.33,80.1 332.62,73.53" fill="#d2d1d2"/>
<polygon points="332.62,73.53 337.33,96.5 337.33,96.86 332.62,73.89" fill="#d2d1d2"/>
<polygon points="332.62,73.89 337.33,130.7 337.33,131.14 332.62,74.33" fill="#d2d1d2" stroke="#bbbabb" stroke-width="0.3"/>
<polygon points="332.62,74.33 337.33,154.4 337.33,154.78 332.62,74.71" fill="#d2d1d2"/>
<polygon points="332.62,74.71 337.33,170.4 337.33,170.49 332.62,74.8" fill="#d2d1d2"/>
<polygon points="332.62,74.84 337.33,73.69 337.33,74.18 332.62,75.33" fill="#f5848a" stroke="#f0474f" stroke-width="0.3"/>
<polygon points="332.62,75.33 337.33,80.1 337.33,92.83 332.62,88.06" fill="#f5848a" stroke="#f0474f" stroke-width="0.3"/>
<polygon points="332.62,88.06 337.33,96.86 337.33,97.24 332.62,88.44" fill="#f5848a"/>
<polygon points="332.62,88.44 337.33,131.14 337.33,131.6 332.62,88.9" fill="#f5848a" stroke="#f0474f" stroke-width="0.3"/>
<polygon points="332.62,88.9 337.33,154.78 337.33,155.18 332.62,89.3" fill="#f5848a" stroke="#f0474f" stroke-width="0.3"/>
<polygon points="332.62,89.3 337.33,170.49 337.33,170.59 332.62,89.4" fill="#f5848a"/>
<polygon points="332.62,89.4 337.33,61.07 337.33,61.41 332.62,89.73" fill="#fddda5"/>
<polygon points="332.62,89.73 337.33,74.18 337.33,78.55 332.62,94.1" fill="#fddda5" stroke="#fccc78" stroke-width="0.3"/>
<polygon points="332.62,94.1 337.33,92.83 337.33,95.68 332.62,96.95" fill="#fddda5" stroke="#fccc78" stroke-width="0.3"/>
<polygon points="332.62,96.95 337.33,97.24 337.33,129.73 332.62,129.44" fill="#fddda5" stroke="#fccc78" stroke-width="0.3"/>
<polygon points="332.62,129.44 337.33,131.6 337.33,135.71 332.62,133.55" fill="#fddda5" stroke="#fccc78" stroke-width="0.3"/>
<polygon points="332.62,133.55 337.33,155.18 337.33,158.75 332.62,137.13" fill="#fddda5" stroke="#fccc78" stroke-width="0.3"/>
<polygon points="332.62,137.13 337.33,170.59 337.33,171.47 332.62,138" fill="#fddda5" stroke="#fccc78" stroke-width="0.3"/>
<polygon points="332.62,138 337.33,61.41 337.33,61.46 332.62,138.05" fill="#e6f4ec"/>
<polygon points="332.62,138.05 337.33,78.55 337.33,79.24 332.62,138.74" fill="#e6f4ec" stroke="#d9efe2" stroke-width="0.3"/>
<polygon points="332.62,138.74 337.33,95.68 337.33,96.14 332.62,139.2" fill="#e6f4ec" stroke="#d9efe2" stroke-width="0.3"/>
<polygon points="332.62,139.2 337.33,129.73 337.33,130.27 332.62,139.73" fill="#e6f4ec" stroke="#d9efe2" stroke-width="0.3"/>
<polygon points="332.62,139.73 337.33,135.71 337.33,153.88 332.62,157.9" fill="#e6f4ec" stroke="#d9efe2" stroke-width="0.3"/>
<polygon points="332.62,157.9 337.33,158.75 337.33,159.32 332.62,158.46" fill="#e6f4ec" stroke="#d9efe2" stroke-width="0.3"/>
<polygon points="332.62,158.46 337.33,171.47 337.33,171.6 332.62,158.6" fill="#e6f4ec"/>
<polygon points="332.62,158.63 337.33,79.24 337.33,79.66 332.62,159.05" fill="#c8e8d6" stroke="#addcc1" stroke-width="0.3"/>
<polygon points="332.62,159.05 337.33,96.14 337.33,96.41 332.62,159.33" fill="#c8e8d6"/>
<polygon points="332.62,159.33 337.33,130.27 337.33,130.59 332.62,159.65" fill="#c8e8d6"/>
<polygon points="332.62,159.65 337.33,153.88 337.33,154.27 332.62,160.05" fill="#c8e8d6"/>
<polygon points="332.62,160.05 337.33,159.32 337.33,170.29 332.62,171.02" fill="#c8e8d6" stroke="#addcc1" stroke-width="0.3"/>
<polygon points="332.62,171.02 337.33,171.6 337.33,171.69 332.62,171.1" fill="#c8e8d6"/>
<polygon points="332.62,171.11 337.33,79.66 337.33,79.8 332.62,171.25" fill="#abccbb"/>
<polygon points="332.62,171.25 337.33,96.41 337.33,96.5 332.62,171.34" fill="#abccbb"/>
<polygon points="332.62,171.34 337.33,130.59 337.33,130.7 332.62,171.45" fill="#abccbb"/>
<polygon points="332.62,171.45 337.33,154.27 337.33,154.4 332.62,171.57" fill="#abccbb"/>
<polygon points="332.62,171.57 337.33,170.29 337.33,170.4 332.62,171.69" fill="#abccbb"/>
<polygon points="332.62,171.69 337.33,171.69 337.33,175.2 332.62,175.2" fill="#abccbb" stroke="#82b399" stroke-width="0.3"/>
<polygon points="341.93,56.5 346.65,56.5 346.65,59.7 341.93,59.7" fill="#f9f79f" stroke="#f6f470" stroke-width="0.3"/>
<polygon points="341.93,59.7 346.65,59.7 346.65,61.5 341.93,61.5" fill="#e2e0d6" stroke="#d4d1c1" stroke-width="0.3"/>
<polygon points="341.93,61.54 346.65,62 346.65,78.67 341.93,78.21" fill="#d2d1d2" stroke="#bbbabb" stroke-width="0.3"/>
<polygon points="341.93,78.21 346.65,91.2 346.65,91.5 341.93,78.51" fill="#d2d1d2"/>
<polygon points="341.93,78.51 346.65,109.1 346.65,109.35 341.93,78.76" fill="#d2d1d2"/>
<polygon points="341.93,78.76 346.65,129.3 346.65,129.59 341.93,79.04" fill="#d2d1d2"/>
<polygon points="341.93,79.04 346.65,153 346.65,153.13 341.93,79.17" fill="#d2d1d2"/>
<polygon points="341.93,79.17 346.65,163.4 346.65,164.03 341.93,79.8" fill="#d2d1d2" stroke="#bbbabb" stroke-width="0.3"/>
<polygon points="341.93,79.84 346.65,78.67 346.65,79.68 341.93,80.85" fill="#f5848a" stroke="#f0474f" stroke-width="0.3"/>
<polygon points="341.93,80.85 346.65,91.5 346.65,105.97 341.93,95.32" fill="#f5848a" stroke="#f0474f" stroke-width="0.3"/>
<polygon points="341.93,95.32 346.65,109.35 346.65,109.57 341.93,95.55" fill="#f5848a"/>
<polygon points="341.93,95.55 346.65,129.59 346.65,129.85 341.93,95.81" fill="#f5848a"/>
<polygon points="341.93,95.81 346.65,153.13 346.65,153.24 341.93,95.93" fill="#f5848a"/>
<polygon points="341.93,95.93 346.65,164.03 346.65,164.6 341.93,96.5" fill="#f5848a" stroke="#f0474f" stroke-width="0.3"/>
<polygon points="341.93,96.5 346.65,61.58 346.65,61.83 341.93,96.75" fill="#fddda5"/>
<polygon points="341.93,96.75 346.65,79.68 346.65,86.57 341.93,103.64" fill="#fddda5" stroke="#fccc78" stroke-width="0.3"/>
<polygon points="341.93,103.64 346.65,105.97 346.65,107.84 341.93,105.52" fill="#fddda5" stroke="#fccc78" stroke-width="0.3"/>
<polygon points="341.93,105.52 346.65,109.57 346.65,128.27 341.93,124.22" fill="#fddda5" stroke="#fccc78" stroke-width="0.3"/>
<polygon points="341.93,124.22 346.65,129.85 346.65,131.65 341.93,126.01" fill="#fddda5" stroke="#fccc78" stroke-width="0.3"/>
<polygon points="341.93,126.01 346.65,153.24 346.65,154.03 341.93,126.8" fill="#fddda5" stroke="#fccc78" stroke-width="0.3"/>
<polygon points="341.93,126.8 346.65,164.6 346.65,168.5 341.93,130.7" fill="#fddda5" stroke="#fccc78" stroke-width="0.3"/>
<polygon points="341.93,130.7 346.65,61.83 346.65,61.88 341.93,130.75" fill="#e6f4ec"/>
<polygon points="341.93,130.75 346.65,86.57 346.65,88.01 341.93,132.19" fill="#e6f4ec" stroke="#d9efe2" stroke-width="0.3"/>
<polygon points="341.93,132.19 346.65,107.84 346.65,108.23 341.93,132.58" fill="#e6f4ec"/>
<polygon points="341.93,132.58 346.65,128.27 346.65,128.59 341.93,132.9" fill="#e6f4ec"/>
<polygon points="341.93,132.9 346.65,131.65 346.65,152.17 341.93,153.42" fill="#e6f4ec" stroke="#d9efe2" stroke-width="0.3"/>
<polygon points="341.93,153.42 346.65,154.03 346.65,154.2 341.93,153.59" fill="#e6f4ec"/>
<polygon points="341.93,153.59 346.65,168.5 346.65,169.32 341.93,154.4" fill="#e6f4ec" stroke="#d9efe2" stroke-width="0.3"/>
<polygon points="341.93,154.4 346.65,61.88 346.65,61.99 341.93,154.51" fill="#c8e8d6"/>
<polygon points="341.93,154.51 346.65,88.01 346.65,90.91 341.93,157.4" fill="#c8e8d6" stroke="#addcc1" stroke-width="0.3"/>
<polygon points="341.93,157.4 346.65,108.23 346.65,109.02 341.93,158.19" fill="#c8e8d6" stroke="#addcc1" stroke-width="0.3"/>
<polygon points="341.93,158.19 346.65,128.59 346.65,129.24 341.93,158.83" fill="#c8e8d6" stroke="#addcc1" stroke-width="0.3"/>
<polygon points="341.93,158.83 346.65,152.17 346.65,152.92 341.93,159.59" fill="#c8e8d6" stroke="#addcc1" stroke-width="0.3"/>
<polygon points="341.93,159.59 346.65,154.2 346.65,163.37 341.93,168.76" fill="#c8e8d6" stroke="#addcc1" stroke-width="0.3"/>
<polygon points="341.93,168.76 346.65,169.32 346.65,170.96 341.93,170.4" fill="#c8e8d6" stroke="#addcc1" stroke-width="0.3"/>
<polygon points="341.93,170.41 346.65,90.91 346.65,91.2 341.93,170.7" fill="#abccbb"/>
<polygon points="341.93,170.7 346.65,109.02 346.65,109.1 341.93,170.78" fill="#abccbb"/>
<polygon points="341.93,170.78 346.65,129.24 346.65,129.3 341.93,170.85" fill="#abccbb"/>
<polygon points="341.93,170.85 346.65,152.92 346.65,153 341.93,170.92" fill="#abccbb"/>
<polygon points="341.93,170.96 346.65,170.96 346.65,175.2 341.93,175.2" fill="#abccbb" stroke="#82b399" stroke-width="0.3"/>
<polygon points="351.25,56.5 355.96,56.5 355.96,59.7 351.25,59.7" fill="#f9f79f" stroke="#f6f470" stroke-width="0.3"/>
<polygon points="351.25,59.7 355.96,59.7 355.96,62 351.25,62" fill="#e2e0d6" stroke="#d4d1c1" stroke-width="0.3"/>
<polygon points="351.25,62 355.96,62 355.96,62.8 351.25,62.8" fill="#d2d1d2" stroke="#bbbabb" stroke-width="0.3"/>
<polygon points="351.25,62.8 355.96,64 355.96,78.37 351.25,77.17" fill="#d2d1d2" stroke="#bbbabb" stroke-width="0.3"/>
<polygon points="351.25,77.17 355.96,79.8 355.96,86.25 351.25,83.62" fill="#d2d1d2" stroke="#bbbabb" stroke-width="0.3"/>
<polygon points="351.25,83.62 355.96,111.2 355.96,114.32 351.25,86.74" fill="#d2d1d2" stroke="#bbbabb" stroke-width="0.3"/>
<polygon points="351.25,86.74 355.96,136.2 355.96,137.12 351.25,87.66" fill="#d2d1d2" stroke="#bbbabb" stroke-width="0.3"/>
<polygon points="351.25,87.66 355.96,151.6 355.96,154.73 351.25,90.79" fill="#d2d1d2" stroke="#bbbabb" stroke-width="0.3"/>
<polygon points="351.25,90.79 355.96,168.3 355.96,168.71 351.25,91.2" fill="#d2d1d2" stroke="#bbbabb" stroke-width="0.3"/>
<polygon points="351.25,91.2 355.96,62.8 355.96,62.93 351.25,91.34" fill="#f5848a"/>
<polygon points="351.25,91.34 355.96,78.37 355.96,78.53 351.25,91.5" fill="#f5848a"/>
<polygon points="351.25,91.5 355.96,86.25 355.96,102.56 351.25,107.81" fill="#f5848a" stroke="#f0474f" stroke-width="0.3"/>
<polygon points="351.25,107.81 355.96,114.32 355.96,114.85 351.25,108.34" fill="#f5848a" stroke="#f0474f" stroke-width="0.3"/>
<polygon points="351.25,108.34 355.96,137.12 355.96,137.28 351.25,108.5" fill="#f5848a"/>
<polygon points="351.25,108.5 355.96,154.73 355.96,155.26 351.25,109.03" fill="#f5848a" stroke="#f0474f" stroke-width="0.3"/>
<polygon points="351.25,109.03 355.96,168.71 355.96,168.78 351.25,109.1" fill="#f5848a"/>
<polygon points="351.25,109.1 355.96,62.93 355.96,63.09 351.25,109.25" fill="#fddda5"/>
<polygon points="351.25,109.25 355.96,78.53 355.96,78.72 351.25,109.43" fill="#fddda5"/>
<polygon points="351.25,109.43 355.96,102.56 355.96,103.8 351.25,110.67" fill="#fddda5" stroke="#fccc78" stroke-width="0.3"/>
<polygon points="351.25,110.67 355.96,114.85 355.96,132.62 351.25,128.44" fill="#fddda5" stroke="#fccc78" stroke-width="0.3"/>
<polygon points="351.25,128.44 355.96,137.28 355.96,137.45 351.25,128.62" fill="#fddda5"/>
<polygon points="351.25,128.62 355.96,155.26 355.96,155.87 351.25,129.22" fill="#fddda5" stroke="#fccc78" stroke-width="0.3"/>
<polygon points="351.25,129.22 355.96,168.78 355.96,168.86 351.25,129.3" fill="#fddda5"/>
<polygon points="351.25,129.3 355.96,63.09 355.96,63.62 351.25,129.84" fill="#e6f4ec" stroke="#d9efe2" stroke-width="0.3"/>
<polygon points="351.25,129.84 355.96,78.72 355.96,79.35 351.25,130.47" fill="#e6f4ec" stroke="#d9efe2" stroke-width="0.3"/>
<polygon points="351.25,130.47 355.96,103.8 355.96,108.14 351.25,134.81" fill="#e6f4ec" stroke="#d9efe2" stroke-width="0.3"/>
<polygon points="351.25,134.81 355.96,132.62 355.96,134.72 351.25,136.91" fill="#e6f4ec" stroke="#d9efe2" stroke-width="0.3"/>
<polygon points="351.25,136.91 355.96,137.45 355.96,151.16 351.25,150.62" fill="#e6f4ec" stroke="#d9efe2" stroke-width="0.3"/>
<polygon points="351.25,150.62 355.96,155.87 355.96,157.97 351.25,152.72" fill="#e6f4ec" stroke="#d9efe2" stroke-width="0.3"/>
<polygon points="351.25,152.72 355.96,168.86 355.96,169.14 351.25,153" fill="#e6f4ec"/>
<polygon points="351.25,153 355.96,63.62 355.96,63.7 351.25,153.08" fill="#c8e8d6"/>
<polygon points="351.25,153.08 355.96,79.35 355.96,79.44 351.25,153.17" fill="#c8e8d6"/>
<polygon points="351.25,153.17 355.96,108.14 355.96,108.77 351.25,153.81" fill="#c8e8d6" stroke="#addcc1" stroke-width="0.3"/>
<polygon points="351.25,153.81 355.96,134.72 355.96,135.03 351.25,154.12" fill="#c8e8d6"/>
<polygon points="351.25,154.12 355.96,151.16 355.96,151.25 351.25,154.21" fill="#c8e8d6"/>
<polygon points="351.25,154.21 355.96,157.97 355.96,167.12 351.25,163.36" fill="#c8e8d6" stroke="#addcc1" stroke-width="0.3"/>
<polygon points="351.25,163.4 355.96,63.7 355.96,64 351.25,163.7" fill="#abccbb"/>
<polygon points="351.25,163.7 355.96,79.44 355.96,79.8 351.25,164.06" fill="#abccbb"/>
<polygon points="351.25,164.06 355.96,108.77 355.96,111.2 351.25,166.48" fill="#abccbb" stroke="#82b399" stroke-width="0.3"/>
<polygon points="351.25,166.48 355.96,135.03 355.96,136.2 351.25,167.66" fill="#abccbb" stroke="#82b399" stroke-width="0.3"/>
<polygon points="351.25,167.66 355.96,151.25 355.96,151.6 351.25,168" fill="#abccbb"/>
<polygon points="351.25,168 355.96,167.12 355.96,168.3 351.25,169.18" fill="#abccbb" stroke="#82b399" stroke-width="0.3"/>
<polygon points="351.25,169.18 355.96,169.18 355.96,175.2 351.25,175.2" fill="#abccbb" stroke="#82b399" stroke-width="0.3"/>
<polygon points="360.56,56.5 365.28,56.5 365.28,59.7 360.56,59.7" fill="#f9f79f" stroke="#f6f470" stroke-width="0.3"/>
<polygon points="360.56,59.7 365.28,62.6 365.28,66.9 360.56,64" fill="#e2e0d6" stroke="#d4d1c1" stroke-width="0.3"/>
<polygon points="360.56,64 365.28,59.7 365.28,60.53 360.56,64.83" fill="#d2d1d2" stroke="#bbbabb" stroke-width="0.3"/>
<polygon points="360.56,64.83 365.28,66.9 365.28,70.8 360.56,68.74" fill="#d2d1d2" stroke="#bbbabb" stroke-width="0.3"/>
<polygon points="360.56,68.74 365.28,80.5 365.28,87.02 360.56,75.26" fill="#d2d1d2" stroke="#bbbabb" stroke-width="0.3"/>
<polygon points="360.56,75.26 365.28,87.8 365.28,89.87 360.56,77.33" fill="#d2d1d2" stroke="#bbbabb" stroke-width="0.3"/>
<polygon points="360.56,77.33 365.28,121.7 365.28,122.98 360.56,78.6" fill="#d2d1d2" stroke="#bbbabb" stroke-width="0.3"/>
<polygon points="360.56,78.6 365.28,147.4 365.28,147.94 360.56,79.15" fill="#d2d1d2" stroke="#bbbabb" stroke-width="0.3"/>
<polygon points="360.56,79.15 365.28,160 365.28,160.48 360.56,79.62" fill="#d2d1d2" stroke="#bbbabb" stroke-width="0.3"/>
<polygon points="360.56,79.62 365.28,171.1 365.28,171.28 360.56,79.8" fill="#d2d1d2"/>
<polygon points="360.56,79.8 365.28,60.53 365.28,60.94 360.56,80.21" fill="#f5848a" stroke="#f0474f" stroke-width="0.3"/>
<polygon points="360.56,80.21 365.28,70.8 365.28,72.72 360.56,82.13" fill="#f5848a" stroke="#f0474f" stroke-width="0.3"/>
<polygon points="360.56,82.13 365.28,87.02 365.28,87.17 360.56,82.28" fill="#f5848a"/>
<polygon points="360.56,82.28 365.28,89.87 365.28,117.58 360.56,109.99" fill="#f5848a" stroke="#f0474f" stroke-width="0.3"/>
<polygon points="360.56,109.99 365.28,122.98 365.28,123.6 360.56,110.61" fill="#f5848a" stroke="#f0474f" stroke-width="0.3"/>
<polygon points="360.56,110.61 365.28,147.94 365.28,148.21 360.56,110.88" fill="#f5848a"/>
<polygon points="360.56,110.88 365.28,160.48 365.28,160.71 360.56,111.11" fill="#f5848a"/>
<polygon points="360.56,111.11 365.28,171.28 365.28,171.36 360.56,111.2" fill="#f5848a"/>
<polygon points="360.56,111.2 365.28,60.94 365.28,61.27 360.56,111.53" fill="#fddda5"/>
<polygon points="360.56,111.53 365.28,72.72 365.28,74.25 360.56,113.05" fill="#fddda5" stroke="#fccc78" stroke-width="0.3"/>
<polygon points="360.56,113.05 365.28,87.17 365.28,87.3 360.56,113.17" fill="#fddda5"/>
<polygon points="360.56,113.17 365.28,117.58 365.28,118.38 360.56,113.98" fill="#fddda5" stroke="#fccc78" stroke-width="0.3"/>
<polygon points="360.56,113.98 365.28,123.6 365.28,145.35 360.56,135.73" fill="#fddda5" stroke="#fccc78" stroke-width="0.3"/>
<polygon points="360.56,135.73 365.28,148.21 365.28,148.42 360.56,135.94" fill="#fddda5"/>
<polygon points="360.56,135.94 365.28,160.71 365.28,160.9 360.56,136.13" fill="#fddda5"/>
<polygon points="360.56,136.13 365.28,171.36 365.28,171.43 360.56,136.2" fill="#fddda5"/>
<polygon points="360.56,136.2 365.28,61.27 365.28,61.67 360.56,136.61" fill="#e6f4ec" stroke="#d9efe2" stroke-width="0.3"/>
<polygon points="360.56,136.61 365.28,74.25 365.28,76.15 360.56,138.52" fill="#e6f4ec" stroke="#d9efe2" stroke-width="0.3"/>
<polygon points="360.56,138.52 365.28,87.3 365.28,87.45 360.56,138.67" fill="#e6f4ec"/>
<polygon points="360.56,138.67 365.28,118.38 365.28,119.4 360.56,139.68" fill="#e6f4ec" stroke="#d9efe2" stroke-width="0.3"/>
<polygon points="360.56,139.68 365.28,145.35 365.28,145.98 360.56,140.3" fill="#e6f4ec" stroke="#d9efe2" stroke-width="0.3"/>
<polygon points="360.56,140.3 365.28,148.42 365.28,159.4 360.56,151.28" fill="#e6f4ec" stroke="#d9efe2" stroke-width="0.3"/>
<polygon points="360.56,151.28 365.28,160.9 365.28,161.13 360.56,151.51" fill="#e6f4ec"/>
<polygon points="360.56,151.51 365.28,171.43 365.28,171.52 360.56,151.6" fill="#e6f4ec"/>
<polygon points="360.56,151.6 365.28,61.67 365.28,62.3 360.56,152.23" fill="#c8e8d6" stroke="#addcc1" stroke-width="0.3"/>
<polygon points="360.56,152.23 365.28,76.15 365.28,79.11 360.56,155.19" fill="#c8e8d6" stroke="#addcc1" stroke-width="0.3"/>
<polygon points="360.56,155.19 365.28,87.45 365.28,87.69 360.56,155.42" fill="#c8e8d6"/>
<polygon points="360.56,155.42 365.28,119.4 365.28,120.96 360.56,156.99" fill="#c8e8d6" stroke="#addcc1" stroke-width="0.3"/>
<polygon points="360.56,156.99 365.28,145.98 365.28,146.95 360.56,157.96" fill="#c8e8d6" stroke="#addcc1" stroke-width="0.3"/>
<polygon points="360.56,157.96 365.28,159.4 365.28,159.81 360.56,158.37" fill="#c8e8d6" stroke="#addcc1" stroke-width="0.3"/>
<polygon points="360.56,158.37 365.28,161.13 365.28,170.93 360.56,168.17" fill="#c8e8d6" stroke="#addcc1" stroke-width="0.3"/>
<polygon points="360.56,168.17 365.28,171.52 365.28,171.65 360.56,168.3" fill="#c8e8d6"/>
<polygon points="360.56,168.3 365.28,62.3 365.28,62.6 360.56,168.6" fill="#abccbb"/>
<polygon points="360.56,168.6 365.28,79.11 365.28,80.5 360.56,169.99" fill="#abccbb" stroke="#82b399" stroke-width="0.3"/>
<polygon points="360.56,169.99 365.28,87.69 365.28,87.8 360.56,170.1" fill="#abccbb"/>
<polygon points="360.56,170.1 365.28,120.96 365.28,121.7 360.56,170.83" fill="#abccbb" stroke="#82b399" stroke-width="0.3"/>
<polygon points="360.56,170.83 365.28,146.95 365.28,147.4 360.56,171.29" fill="#abccbb" stroke="#82b399" stroke-width="0.3"/>
<polygon points="360.56,171.29 365.28,159.81 365.28,160 360.56,171.48" fill="#abccbb"/>
<polygon points="360.56,171.48 365.28,170.93 365.28,171.1 360.56,171.65" fill="#abccbb"/>
<polygon points="360.56,171.65 365.28,171.65 365.28,175.2 360.56,175.2" fill="#abccbb" stroke="#82b399" stroke-width="0.3"/>
<polygon points="369.88,56.5 374.59,56.5 374.59,62.6 369.88,62.6" fill="#f9f79f" stroke="#f6f470" stroke-width="0.3"/>
<polygon points="369.88,62.6 374.59,63 374.59,80.9 369.88,80.5" fill="#e2e0d6" stroke="#d4d1c1" stroke-width="0.3"/>
<polygon points="369.88,80.53 374.59,80.9 374.59,81.27 369.88,80.91" fill="#d2d1d2"/>
<polygon points="369.88,80.91 374.59,85.3 374.59,90.74 369.88,86.34" fill="#d2d1d2" stroke="#bbbabb" stroke-width="0.3"/>
<polygon points="369.88,86.34 374.59,91.6 374.59,92.06 369.88,86.8" fill="#d2d1d2" stroke="#bbbabb" stroke-width="0.3"/>
<polygon points="369.88,86.8 374.59,125.8 374.59,126.55 369.88,87.55" fill="#d2d1d2" stroke="#bbbabb" stroke-width="0.3"/>
<polygon points="369.88,87.55 374.59,156.5 374.59,156.6 369.88,87.65" fill="#d2d1d2"/>
<polygon points="369.88,87.65 374.59,164.1 374.59,164.19 369.88,87.74" fill="#d2d1d2"/>
<polygon points="369.88,87.74 374.59,171 374.59,171.06 369.88,87.8" fill="#d2d1d2"/>
<polygon points="369.88,87.8 374.59,62.63 374.59,62.72 369.88,87.89" fill="#f5848a"/>
<polygon points="369.88,87.89 374.59,81.27 374.59,82.25 369.88,88.87" fill="#f5848a" stroke="#f0474f" stroke-width="0.3"/>
<polygon points="369.88,88.87 374.59,90.74 374.59,90.95 369.88,89.08" fill="#f5848a"/>
<polygon points="369.88,89.08 374.59,92.06 374.59,122.07 369.88,119.09" fill="#f5848a" stroke="#f0474f" stroke-width="0.3"/>
<polygon points="369.88,119.09 374.59,126.55 374.59,128.52 369.88,121.06" fill="#f5848a" stroke="#f0474f" stroke-width="0.3"/>
<polygon points="369.88,121.06 374.59,156.6 374.59,156.85 369.88,121.31" fill="#f5848a"/>
<polygon points="369.88,121.31 374.59,164.19 374.59,164.42 369.88,121.54" fill="#f5848a"/>
<polygon points="369.88,121.54 374.59,171.06 374.59,171.22 369.88,121.7" fill="#f5848a"/>
<polygon points="369.88,121.7 374.59,62.72 374.59,62.79 369.88,121.77" fill="#fddda5"/>
<polygon points="369.88,121.77 374.59,82.25 374.59,82.99 369.88,122.51" fill="#fddda5" stroke="#fccc78" stroke-width="0.3"/>
<polygon points="369.88,122.51 374.59,90.95 374.59,91.1 369.88,122.67" fill="#fddda5"/>
<polygon points="369.88,122.67 374.59,122.07 374.59,122.98 369.88,123.58" fill="#fddda5" stroke="#fccc78" stroke-width="0.3"/>
<polygon points="369.88,123.58 374.59,128.52 374.59,151.86 369.88,146.91" fill="#fddda5" stroke="#fccc78" stroke-width="0.3"/>
<polygon points="369.88,146.91 374.59,156.85 374.59,157.04 369.88,147.11" fill="#fddda5"/>
<polygon points="369.88,147.11 374.59,164.42 374.59,164.59 369.88,147.28" fill="#fddda5"/>
<polygon points="369.88,147.28 374.59,171.22 374.59,171.34 369.88,147.4" fill="#fddda5"/>
<polygon points="369.88,147.4 374.59,62.79 374.59,62.9 369.88,147.51" fill="#e6f4ec"/>
<polygon points="369.88,147.51 374.59,82.99 374.59,84.17 369.88,148.69" fill="#e6f4ec" stroke="#d9efe2" stroke-width="0.3"/>
<polygon points="369.88,148.69 374.59,91.1 374.59,91.36 369.88,148.94" fill="#e6f4ec"/>
<polygon points="369.88,148.94 374.59,122.98 374.59,124.42 369.88,150.39" fill="#e6f4ec" stroke="#d9efe2" stroke-width="0.3"/>
<polygon points="369.88,150.39 374.59,151.86 374.59,154.24 369.88,152.76" fill="#e6f4ec" stroke="#d9efe2" stroke-width="0.3"/>
<polygon points="369.88,152.76 374.59,157.04 374.59,163.81 369.88,159.53" fill="#e6f4ec" stroke="#d9efe2" stroke-width="0.3"/>
<polygon points="369.88,159.53 374.59,164.59 374.59,164.87 369.88,159.81" fill="#e6f4ec"/>
<polygon points="369.88,159.81 374.59,171.34 374.59,171.53 369.88,160" fill="#e6f4ec"/>
<polygon points="369.88,160 374.59,62.9 374.59,62.99 369.88,160.09" fill="#c8e8d6"/>
<polygon points="369.88,160.09 374.59,84.17 374.59,85.18 369.88,161.1" fill="#c8e8d6" stroke="#addcc1" stroke-width="0.3"/>
<polygon points="369.88,161.1 374.59,91.36 374.59,91.57 369.88,161.31" fill="#c8e8d6"/>
<polygon points="369.88,161.31 374.59,124.42 374.59,125.66 369.88,162.55" fill="#c8e8d6" stroke="#addcc1" stroke-width="0.3"/>
<polygon points="369.88,162.55 374.59,154.24 374.59,156.26 369.88,164.57" fill="#c8e8d6" stroke="#addcc1" stroke-width="0.3"/>
<polygon points="369.88,164.57 374.59,163.81 374.59,164.07 369.88,164.83" fill="#c8e8d6"/>
<polygon points="369.88,164.83 374.59,164.87 374.59,170.97 369.88,170.94" fill="#c8e8d6" stroke="#addcc1" stroke-width="0.3"/>
<polygon points="369.88,170.94 374.59,171.53 374.59,171.7 369.88,171.1" fill="#c8e8d6"/>
<polygon points="369.88,171.11 374.59,85.18 374.59,85.3 369.88,171.23" fill="#abccbb"/>
<polygon points="369.88,171.25 374.59,125.66 374.59,125.8 369.88,171.4" fill="#abccbb"/>
<polygon points="369.88,171.4 374.59,156.26 374.59,156.5 369.88,171.64" fill="#abccbb"/>
<polygon points="369.88,171.7 374.59,171.7 374.59,175.2 369.88,175.2" fill="#abccbb" stroke="#82b399" stroke-width="0.3"/>
<polygon points="379.19,56.5 383.91,56.5 383.91,63 379.19,63" fill="#f9f79f" stroke="#f6f470" stroke-width="0.3"/>
<polygon points="379.19,63 383.91,63.5 383.91,85.8 379.19,85.3" fill="#e2e0d6" stroke="#d4d1c1" stroke-width="0.3"/>
<polygon points="379.19,85.3 383.91,63 383.91,63.06 379.19,85.36" fill="#d2d1d2"/>
<polygon points="379.19,85.36 383.91,85.8 383.91,86.64 379.19,86.2" fill="#d2d1d2" stroke="#bbbabb" stroke-width="0.3"/>
<polygon points="379.19,86.2 383.91,93.3 383.91,97.03 379.19,89.93" fill="#d2d1d2" stroke="#bbbabb" stroke-width="0.3"/>
<polygon points="379.19,89.93 383.91,97.6 383.91,98.6 379.19,90.93" fill="#d2d1d2" stroke="#bbbabb" stroke-width="0.3"/>
<polygon points="379.19,90.93 383.91,135.6 383.91,136.07 379.19,91.4" fill="#d2d1d2" stroke="#bbbabb" stroke-width="0.3"/>
<polygon points="379.19,91.4 383.91,163.6 383.91,163.67 379.19,91.48" fill="#d2d1d2"/>
<polygon points="379.19,91.48 383.91,168 383.91,168.07 379.19,91.55" fill="#d2d1d2"/>
<polygon points="379.19,91.55 383.91,172 383.91,172.05 379.19,91.6" fill="#d2d1d2"/>
<polygon points="379.19,91.6 383.91,63.06 383.91,63.17 379.19,91.71" fill="#f5848a"/>
<polygon points="379.19,91.71 383.91,86.64 383.91,88.28 379.19,93.35" fill="#f5848a" stroke="#f0474f" stroke-width="0.3"/>
<polygon points="379.19,93.35 383.91,97.03 383.91,97.17 379.19,93.49" fill="#f5848a"/>
<polygon points="379.19,93.49 383.91,98.6 383.91,129.62 379.19,124.5" fill="#f5848a" stroke="#f0474f" stroke-width="0.3"/>
<polygon points="379.19,124.5 383.91,136.07 383.91,136.99 379.19,125.42" fill="#f5848a" stroke="#f0474f" stroke-width="0.3"/>
<polygon points="379.19,125.42 383.91,163.67 383.91,163.82 379.19,125.56" fill="#f5848a"/>
<polygon points="379.19,125.56 383.91,168.07 383.91,168.2 379.19,125.7" fill="#f5848a"/>
<polygon points="379.19,125.7 383.91,172.05 383.91,172.16 379.19,125.8" fill="#f5848a"/>
<polygon points="379.19,125.8 383.91,63.17 383.91,63.31 379.19,125.95" fill="#fddda5"/>
<polygon points="379.19,125.95 383.91,88.28 383.91,90.48 379.19,128.15" fill="#fddda5" stroke="#fccc78" stroke-width="0.3"/>
<polygon points="379.19,128.15 383.91,97.17 383.91,97.36 379.19,128.34" fill="#fddda5"/>
<polygon points="379.19,128.34 383.91,129.62 383.91,132.24 379.19,130.96" fill="#fddda5" stroke="#fccc78" stroke-width="0.3"/>
<polygon points="379.19,130.96 383.91,136.99 383.91,162.02 379.19,155.99" fill="#fddda5" stroke="#fccc78" stroke-width="0.3"/>
<polygon points="379.19,155.99 383.91,163.82 383.91,164.01 379.19,156.18" fill="#fddda5"/>
<polygon points="379.19,156.18 383.91,168.2 383.91,168.37 379.19,156.36" fill="#fddda5"/>
<polygon points="379.19,156.36 383.91,172.16 383.91,172.3 379.19,156.5" fill="#fddda5"/>
<polygon points="379.19,156.5 383.91,63.31 383.91,63.39 379.19,156.58" fill="#e6f4ec"/>
<polygon points="379.19,156.58 383.91,90.48 383.91,91.71 379.19,157.81" fill="#e6f4ec" stroke="#d9efe2" stroke-width="0.3"/>
<polygon points="379.19,157.81 383.91,97.36 383.91,97.46 379.19,157.92" fill="#e6f4ec"/>
<polygon points="379.19,157.92 383.91,132.24 383.91,133.71 379.19,159.38" fill="#e6f4ec" stroke="#d9efe2" stroke-width="0.3"/>
<polygon points="379.19,159.38 383.91,162.02 383.91,162.71 379.19,160.07" fill="#e6f4ec" stroke="#d9efe2" stroke-width="0.3"/>
<polygon points="379.19,160.07 383.91,164.01 383.91,167.86 379.19,163.92" fill="#e6f4ec" stroke="#d9efe2" stroke-width="0.3"/>
<polygon points="379.19,163.92 383.91,168.37 383.91,168.47 379.19,164.02" fill="#e6f4ec"/>
<polygon points="379.19,164.02 383.91,172.3 383.91,172.38 379.19,164.1" fill="#e6f4ec"/>
<polygon points="379.19,164.1 383.91,63.39 383.91,63.47 379.19,164.17" fill="#c8e8d6"/>
<polygon points="379.19,164.17 383.91,91.71 383.91,92.83 379.19,165.29" fill="#c8e8d6" stroke="#addcc1" stroke-width="0.3"/>
<polygon points="379.19,165.29 383.91,97.46 383.91,97.56 379.19,165.39" fill="#c8e8d6"/>
<polygon points="379.19,165.39 383.91,133.71 383.91,135.04 379.19,166.72" fill="#c8e8d6" stroke="#addcc1" stroke-width="0.3"/>
<polygon points="379.19,166.72 383.91,162.71 383.91,163.34 379.19,167.34" fill="#c8e8d6" stroke="#addcc1" stroke-width="0.3"/>
<polygon points="379.19,167.34 383.91,167.86 383.91,167.96 379.19,167.44" fill="#c8e8d6"/>
<polygon points="379.19,167.44 383.91,168.47 383.91,171.96 379.19,170.93" fill="#c8e8d6" stroke="#addcc1" stroke-width="0.3"/>
<polygon points="379.19,170.93 383.91,172.38 383.91,172.45 379.19,171" fill="#c8e8d6"/>
<polygon points="379.19,171.03 383.91,92.83 383.91,93.3 379.19,171.5" fill="#abccbb" stroke="#82b399" stroke-width="0.3"/>
<polygon points="379.19,171.54 383.91,135.04 383.91,135.6 379.19,172.11" fill="#abccbb" stroke="#82b399" stroke-width="0.3"/>
<polygon points="379.19,172.11 383.91,163.34 383.91,163.6 379.19,172.37" fill="#abccbb"/>
<polygon points="379.19,172.45 383.91,172.45 383.91,175.2 379.19,175.2" fill="#abccbb" stroke="#82b399" stroke-width="0.3"/>
<polygon points="388.51,56.5 393.23,56.5 393.23,63.5 388.51,63.5" fill="#f9f79f" stroke="#f6f470" stroke-width="0.3"/>
<polygon points="388.51,63.5 393.23,63.5 393.23,93.3 388.51,93.3" fill="#e2e0d6" stroke="#d4d1c1" stroke-width="0.3"/>
<polygon points="388.51,93.3 393.23,93.3 393.23,93.6 388.51,93.6" fill="#d2d1d2"/>
<polygon points="388.51,93.6 393.23,100 393.23,103.51 388.51,97.12" fill="#d2d1d2" stroke="#bbbabb" stroke-width="0.3"/>
<polygon points="388.51,97.12 393.23,104.1 393.23,104.35 388.51,97.36" fill="#d2d1d2"/>
<polygon points="388.51,97.36 393.23,140.5 393.23,140.67 388.51,97.53" fill="#d2d1d2"/>
<polygon points="388.51,97.6 393.23,93.6 393.23,96.22 388.51,100.22" fill="#f5848a" stroke="#f0474f" stroke-width="0.3"/>
<polygon points="388.51,100.22 393.23,103.51 393.23,103.75 388.51,100.46" fill="#f5848a"/>
<polygon points="388.51,100.46 393.23,104.35 393.23,137.42 388.51,133.53" fill="#f5848a" stroke="#f0474f" stroke-width="0.3"/>
<polygon points="388.51,133.53 393.23,140.67 393.23,142.13 388.51,135" fill="#f5848a" stroke="#f0474f" stroke-width="0.3"/>
<polygon points="388.51,135 393.23,165.53 393.23,165.83 388.51,135.3" fill="#f5848a"/>
<polygon points="388.51,135.3 393.23,170.02 393.23,170.16 388.51,135.44" fill="#f5848a"/>
<polygon points="388.51,135.44 393.23,172.52 393.23,172.68 388.51,135.6" fill="#f5848a"/>
<polygon points="388.51,135.6 393.23,96.22 393.23,98.72 388.51,138.1" fill="#fddda5" stroke="#fccc78" stroke-width="0.3"/>
<polygon points="388.51,138.1 393.23,103.75 393.23,103.98 388.51,138.33" fill="#fddda5"/>
<polygon points="388.51,138.33 393.23,137.42 393.23,139.46 388.51,140.37" fill="#fddda5" stroke="#fccc78" stroke-width="0.3"/>
<polygon points="388.51,140.37 393.23,142.13 393.23,164.79 388.51,163.02" fill="#fddda5" stroke="#fccc78" stroke-width="0.3"/>
<polygon points="388.51,163.02 393.23,165.83 393.23,166.12 388.51,163.31" fill="#fddda5"/>
<polygon points="388.51,163.31 393.23,170.16 393.23,170.3 388.51,163.45" fill="#fddda5"/>
<polygon points="388.51,163.45 393.23,172.68 393.23,172.83 388.51,163.6" fill="#fddda5"/>
<polygon points="388.51,163.6 393.23,98.72 393.23,98.97 388.51,163.84" fill="#e6f4ec"/>
<polygon points="388.51,163.87 393.23,139.46 393.23,139.66 388.51,164.07" fill="#e6f4ec"/>
<polygon points="388.51,164.07 393.23,164.79 393.23,164.92 388.51,164.2" fill="#e6f4ec"/>
<polygon points="388.51,164.2 393.23,166.12 393.23,169.88 388.51,167.97" fill="#e6f4ec" stroke="#d9efe2" stroke-width="0.3"/>
<polygon points="388.51,168 393.23,98.97 393.23,99.66 388.51,168.7" fill="#c8e8d6" stroke="#addcc1" stroke-width="0.3"/>
<polygon points="388.51,168.7 393.23,104.01 393.23,104.07 388.51,168.76" fill="#c8e8d6"/>
<polygon points="388.51,168.76 393.23,139.66 393.23,140.23 388.51,169.33" fill="#c8e8d6" stroke="#addcc1" stroke-width="0.3"/>
<polygon points="388.51,169.33 393.23,164.92 393.23,165.31 388.51,169.72" fill="#c8e8d6"/>
<polygon points="388.51,169.72 393.23,169.88 393.23,169.96 388.51,169.79" fill="#c8e8d6"/>
<polygon points="388.51,169.79 393.23,170.32 393.23,172.48 388.51,171.96" fill="#c8e8d6" stroke="#addcc1" stroke-width="0.3"/>
<polygon points="388.51,172 393.23,99.66 393.23,100 388.51,172.34" fill="#abccbb"/>
<polygon points="388.51,172.37 393.23,140.23 393.23,140.5 388.51,172.64" fill="#abccbb"/>
<polygon points="388.51,172.64 393.23,165.31 393.23,165.5 388.51,172.83" fill="#abccbb"/>
<polygon points="388.51,172.88 393.23,172.88 393.23,175.2 388.51,175.2" fill="#abccbb" stroke="#82b399" stroke-width="0.3"/>
<polygon points="397.83,56.5 402.54,56.5 402.54,63.5 397.83,63.5" fill="#f9f79f" stroke="#f6f470" stroke-width="0.3"/>
<polygon points="397.83,63.5 402.54,63.5 402.54,100 397.83,100" fill="#e2e0d6" stroke="#d4d1c1" stroke-width="0.3"/>
<polygon points="397.83,100 402.54,100 402.54,100.19 397.83,100.19" fill="#d2d1d2"/>
<polygon points="397.83,100.19 402.54,104.8 402.54,108.31 397.83,103.7" fill="#d2d1d2" stroke="#bbbabb" stroke-width="0.3"/>
<polygon points="397.83,103.7 402.54,109 402.54,109.21 397.83,103.91" fill="#d2d1d2"/>
<polygon points="397.83,103.91 402.54,145.3 402.54,145.43 397.83,104.04" fill="#d2d1d2"/>
<polygon points="397.83,104.1 402.54,100.19 402.54,101.86 397.83,105.78" fill="#f5848a" stroke="#f0474f" stroke-width="0.3"/>
<polygon points="397.83,105.78 402.54,108.31 402.54,108.56 397.83,106.03" fill="#f5848a"/>
<polygon points="397.83,106.03 402.54,109.21 402.54,141.97 397.83,138.78" fill="#f5848a" stroke="#f0474f" stroke-width="0.3"/>
<polygon points="397.83,138.78 402.54,145.43 402.54,146.6 397.83,139.95" fill="#f5848a" stroke="#f0474f" stroke-width="0.3"/>
<polygon points="397.83,139.95 402.54,167.61 402.54,167.74 397.83,140.08" fill="#f5848a"/>
<polygon points="397.83,140.08 402.54,170.01 402.54,170.12 397.83,140.18" fill="#f5848a"/>
<polygon points="397.83,140.18 402.54,172.04 402.54,172.35 397.83,140.5" fill="#f5848a"/>
<polygon points="397.83,140.5 402.54,101.86 402.54,103.69 397.83,142.33" fill="#fddda5" stroke="#fccc78" stroke-width="0.3"/>
<polygon points="397.83,142.33 402.54,108.56 402.54,108.83 397.83,142.6" fill="#fddda5"/>
<polygon points="397.83,142.6 402.54,141.97 402.54,144.04 397.83,144.67" fill="#fddda5" stroke="#fccc78" stroke-width="0.3"/>
<polygon points="397.83,144.67 402.54,146.6 402.54,166.83 397.83,164.9" fill="#fddda5" stroke="#fccc78" stroke-width="0.3"/>
<polygon points="397.83,164.9 402.54,167.74 402.54,167.88 397.83,165.04" fill="#fddda5"/>
<polygon points="397.83,165.04 402.54,170.12 402.54,170.23 397.83,165.16" fill="#fddda5"/>
<polygon points="397.83,165.16 402.54,172.35 402.54,172.7 397.83,165.5" fill="#fddda5"/>
<polygon points="397.83,165.5 402.54,103.69 402.54,104.44 397.83,166.24" fill="#e6f4ec" stroke="#d9efe2" stroke-width="0.3"/>
<polygon points="397.83,166.24 402.54,108.83 402.54,108.95 397.83,166.35" fill="#e6f4ec"/>
<polygon points="397.83,166.35 402.54,144.04 402.54,144.89 397.83,167.2" fill="#e6f4ec" stroke="#d9efe2" stroke-width="0.3"/>
<polygon points="397.83,167.2 402.54,166.83 402.54,167.35 397.83,167.72" fill="#e6f4ec" stroke="#d9efe2" stroke-width="0.3"/>
<polygon points="397.83,167.72 402.54,167.88 402.54,169.97 397.83,169.81" fill="#e6f4ec" stroke="#d9efe2" stroke-width="0.3"/>
<polygon points="397.83,169.86 402.54,172.7 402.54,172.84 397.83,170" fill="#e6f4ec"/>
<polygon points="397.83,170 402.54,104.44 402.54,104.68 397.83,170.24" fill="#c8e8d6"/>
<polygon points="397.83,170.28 402.54,144.89 402.54,145.16 397.83,170.55" fill="#c8e8d6"/>
<polygon points="397.83,170.55 402.54,167.35 402.54,167.51 397.83,170.72" fill="#c8e8d6"/>
<polygon points="397.83,170.74 402.54,170.28 402.54,171.99 397.83,172.45" fill="#c8e8d6" stroke="#addcc1" stroke-width="0.3"/>
<polygon points="397.83,172.5 402.54,104.68 402.54,104.8 397.83,172.62" fill="#abccbb"/>
<polygon points="397.83,172.64 402.54,145.16 402.54,145.3 397.83,172.78" fill="#abccbb"/>
<polygon points="397.83,172.78 402.54,167.51 402.54,167.6 397.83,172.87" fill="#abccbb"/>
<polygon points="397.83,172.88 402.54,172.88 402.54,175.2 397.83,175.2" fill="#abccbb" stroke="#82b399" stroke-width="0.3"/>
<polygon points="407.14,56.5 411.86,56.5 411.86,63.5 407.14,63.5" fill="#f9f79f" stroke="#f6f470" stroke-width="0.3"/>
<polygon points="407.14,63.5 411.86,63.5 411.86,104.8 407.14,104.8" fill="#e2e0d6" stroke="#d4d1c1" stroke-width="0.3"/>
<polygon points="407.14,104.8 411.86,104.8 411.86,104.91 407.14,104.91" fill="#d2d1d2"/>
<polygon points="407.14,104.91 411.86,108.3 411.86,112.05 407.14,108.66" fill="#d2d1d2" stroke="#bbbabb" stroke-width="0.3"/>
<polygon points="407.14,108.66 411.86,117.5 411.86,117.76 407.14,108.91" fill="#d2d1d2"/>
<polygon points="407.14,108.91 411.86,156.5 411.86,156.57 407.14,108.98" fill="#d2d1d2"/>
<polygon points="407.14,109 411.86,104.91 411.86,105.86 407.14,109.95" fill="#f5848a" stroke="#f0474f" stroke-width="0.3"/>
<polygon points="407.14,109.95 411.86,112.05 411.86,113.57 407.14,111.48" fill="#f5848a" stroke="#f0474f" stroke-width="0.3"/>
<polygon points="407.14,111.48 411.86,117.76 411.86,150.82 407.14,144.54" fill="#f5848a" stroke="#f0474f" stroke-width="0.3"/>
<polygon points="407.14,144.54 411.86,156.57 411.86,157.13 407.14,145.1" fill="#f5848a" stroke="#f0474f" stroke-width="0.3"/>
<polygon points="407.14,145.19 411.86,172.51 411.86,172.62 407.14,145.3" fill="#f5848a"/>
<polygon points="407.14,145.3 411.86,105.86 411.86,107.69 407.14,147.13" fill="#fddda5" stroke="#fccc78" stroke-width="0.3"/>
<polygon points="407.14,147.13 411.86,113.57 411.86,116.51 407.14,150.07" fill="#fddda5" stroke="#fccc78" stroke-width="0.3"/>
<polygon points="407.14,150.07 411.86,150.82 411.86,155.07 407.14,154.32" fill="#fddda5" stroke="#fccc78" stroke-width="0.3"/>
<polygon points="407.14,154.32 411.86,157.13 411.86,170.03 407.14,167.22" fill="#fddda5" stroke="#fccc78" stroke-width="0.3"/>
<polygon points="407.14,167.22 411.86,170.45 411.86,170.54 407.14,167.31" fill="#fddda5"/>
<polygon points="407.14,167.31 411.86,171.55 411.86,171.62 407.14,167.39" fill="#fddda5"/>
<polygon points="407.14,167.39 411.86,172.62 411.86,172.83 407.14,167.6" fill="#fddda5"/>
<polygon points="407.14,167.6 411.86,107.69 411.86,107.94 407.14,167.86" fill="#e6f4ec"/>
<polygon points="407.14,167.86 411.86,116.51 411.86,116.92 407.14,168.27" fill="#e6f4ec" stroke="#d9efe2" stroke-width="0.3"/>
<polygon points="407.14,168.27 411.86,155.07 411.86,155.67 407.14,168.86" fill="#e6f4ec" stroke="#d9efe2" stroke-width="0.3"/>
<polygon points="407.14,168.86 411.86,170.03 411.86,170.19 407.14,169.01" fill="#e6f4ec"/>
<polygon points="407.14,169.01 411.86,170.54 411.86,171.48 407.14,169.96" fill="#e6f4ec" stroke="#d9efe2" stroke-width="0.3"/>
<polygon points="407.14,170 411.86,107.94 411.86,108.14 407.14,170.2" fill="#c8e8d6"/>
<polygon points="407.14,170.2 411.86,116.92 411.86,117.25 407.14,170.52" fill="#c8e8d6"/>
<polygon points="407.14,170.52 411.86,155.67 411.86,156.13 407.14,170.99" fill="#c8e8d6" stroke="#addcc1" stroke-width="0.3"/>
<polygon points="407.14,170.99 411.86,170.19 411.86,170.31 407.14,171.11" fill="#c8e8d6"/>
<polygon points="407.14,171.12 411.86,171.63 411.86,172.49 407.14,171.98" fill="#c8e8d6" stroke="#addcc1" stroke-width="0.3"/>
<polygon points="407.14,172 411.86,108.14 411.86,108.3 407.14,172.16" fill="#abccbb"/>
<polygon points="407.14,172.16 411.86,117.25 411.86,117.5 407.14,172.41" fill="#abccbb"/>
<polygon points="407.14,172.41 411.86,156.13 411.86,156.5 407.14,172.78" fill="#abccbb"/>
<polygon points="407.14,172.78 411.86,170.31 411.86,170.4 407.14,172.87" fill="#abccbb"/>
<polygon points="407.14,172.89 411.86,172.89 411.86,175.2 407.14,175.2" fill="#abccbb" stroke="#82b399" stroke-width="0.3"/>
<polygon points="416.46,56.5 421.17,56.5 421.17,63.5 416.46,63.5" fill="#f9f79f" stroke="#f6f470" stroke-width="0.3"/>
<polygon points="416.46,63.5 421.17,63.5 421.17,108.3 416.46,108.3" fill="#e2e0d6" stroke="#d4d1c1" stroke-width="0.3"/>
<polygon points="416.46,108.3 421.17,108.3 421.17,108.92 416.46,108.92" fill="#d2d1d2" stroke="#bbbabb" stroke-width="0.3"/>
<polygon points="416.46,108.92 421.17,116.8 421.17,124.81 416.46,116.93" fill="#d2d1d2" stroke="#bbbabb" stroke-width="0.3"/>
<polygon points="416.46,116.93 421.17,127.2 421.17,127.57 416.46,117.3" fill="#d2d1d2"/>
<polygon points="416.46,117.3 421.17,160.7 421.17,160.82 416.46,117.42" fill="#d2d1d2"/>
<polygon points="416.46,117.42 421.17,171.8 421.17,171.88 416.46,117.5" fill="#d2d1d2"/>
<polygon points="416.46,117.5 421.17,108.92 421.17,113.66 416.46,122.24" fill="#f5848a" stroke="#f0474f" stroke-width="0.3"/>
<polygon points="416.46,122.24 421.17,124.81 421.17,126.25 416.46,123.68" fill="#f5848a" stroke="#f0474f" stroke-width="0.3"/>
<polygon points="416.46,123.68 421.17,127.57 421.17,158.84 416.46,154.96" fill="#f5848a" stroke="#f0474f" stroke-width="0.3"/>
<polygon points="416.46,154.96 421.17,160.82 421.17,161.75 416.46,155.88" fill="#f5848a" stroke="#f0474f" stroke-width="0.3"/>
<polygon points="416.46,155.88 421.17,171.88 421.17,172.5 416.46,156.5" fill="#f5848a" stroke="#f0474f" stroke-width="0.3"/>
<polygon points="416.46,156.5 421.17,113.66 421.17,115.67 416.46,158.51" fill="#fddda5" stroke="#fccc78" stroke-width="0.3"/>
<polygon points="416.46,158.51 421.17,126.25 421.17,126.86 416.46,159.12" fill="#fddda5" stroke="#fccc78" stroke-width="0.3"/>
<polygon points="416.46,159.12 421.17,158.84 421.17,160.03 416.46,160.31" fill="#fddda5" stroke="#fccc78" stroke-width="0.3"/>
<polygon points="416.46,160.31 421.17,161.75 421.17,171.58 416.46,170.14" fill="#fddda5" stroke="#fccc78" stroke-width="0.3"/>
<polygon points="416.46,170.14 421.17,172.5 421.17,172.76 416.46,170.4" fill="#fddda5"/>
<polygon points="416.46,170.4 421.17,115.67 421.17,116.17 416.46,170.9" fill="#e6f4ec" stroke="#d9efe2" stroke-width="0.3"/>
<polygon points="416.46,170.9 421.17,126.86 421.17,127.01 416.46,171.05" fill="#e6f4ec"/>
<polygon points="416.46,171.05 421.17,160.03 421.17,160.33 416.46,171.34" fill="#e6f4ec"/>
<polygon points="416.46,171.34 421.17,171.58 421.17,171.68 416.46,171.44" fill="#e6f4ec"/>
<polygon points="416.46,171.44 421.17,172.76 421.17,172.82 416.46,171.5" fill="#e6f4ec"/>
<polygon points="416.46,171.5 421.17,116.17 421.17,116.62 416.46,171.95" fill="#c8e8d6" stroke="#addcc1" stroke-width="0.3"/>
<polygon points="416.46,171.95 421.17,127.01 421.17,127.14 416.46,172.09" fill="#c8e8d6"/>
<polygon points="416.46,172.09 421.17,160.33 421.17,160.59 416.46,172.35" fill="#c8e8d6"/>
<polygon points="416.46,172.35 421.17,171.68 421.17,171.76 416.46,172.44" fill="#c8e8d6"/>
<polygon points="416.46,172.44 421.17,172.82 421.17,172.88 416.46,172.5" fill="#c8e8d6"/>
<polygon points="416.46,172.5 421.17,116.62 421.17,116.8 416.46,172.68" fill="#abccbb"/>
<polygon points="416.46,172.68 421.17,127.14 421.17,127.2 416.46,172.74" fill="#abccbb"/>
<polygon points="416.46,172.74 421.17,160.59 421.17,160.7 416.46,172.85" fill="#abccbb"/>
<polygon points="416.46,172.88 421.17,172.88 421.17,175.2 416.46,175.2" fill="#abccbb" stroke="#82b399" stroke-width="0.3"/>
<polygon points="425.77,56.5 430.49,56.5 430.49,63.5 425.77,63.5" fill="#f9f79f" stroke="#f6f470" stroke-width="0.3"/>
<polygon points="425.77,63.5 430.49,65 430.49,118.3 425.77,116.8" fill="#e2e0d6" stroke="#d4d1c1" stroke-width="0.3"/>
<polygon points="425.77,116.8 430.49,63.5 430.49,63.62 425.77,116.92" fill="#d2d1d2"/>
<polygon points="425.77,116.92 430.49,118.3 430.49,119.05 425.77,117.66" fill="#d2d1d2" stroke="#bbbabb" stroke-width="0.3"/>
<polygon points="425.77,117.66 430.49,127.9 430.49,137.03 425.77,126.8" fill="#d2d1d2" stroke="#bbbabb" stroke-width="0.3"/>
<polygon points="425.77,126.8 430.49,140.5 430.49,140.75 425.77,127.05" fill="#d2d1d2"/>
<polygon points="425.77,127.05 430.49,162 430.49,162.12 425.77,127.17" fill="#d2d1d2"/>
<polygon points="425.77,127.2 430.49,63.62 430.49,64.75 425.77,128.34" fill="#f5848a" stroke="#f0474f" stroke-width="0.3"/>
<polygon points="425.77,128.34 430.49,119.05 430.49,126.33 425.77,135.62" fill="#f5848a" stroke="#f0474f" stroke-width="0.3"/>
<polygon points="425.77,135.62 430.49,137.03 430.49,139.89 425.77,138.48" fill="#f5848a" stroke="#f0474f" stroke-width="0.3"/>
<polygon points="425.77,138.48 430.49,140.75 430.49,161.47 425.77,159.2" fill="#f5848a" stroke="#f0474f" stroke-width="0.3"/>
<polygon points="425.77,159.2 430.49,162.12 430.49,163.32 425.77,160.39" fill="#f5848a" stroke="#f0474f" stroke-width="0.3"/>
<polygon points="425.77,160.39 430.49,172.53 430.49,172.84 425.77,160.7" fill="#f5848a"/>
<polygon points="425.77,160.7 430.49,64.75 430.49,64.92 425.77,160.86" fill="#fddda5"/>
<polygon points="425.77,160.86 430.49,126.33 430.49,127.37 425.77,161.9" fill="#fddda5" stroke="#fccc78" stroke-width="0.3"/>
<polygon points="425.77,161.9 430.49,139.89 430.49,140.29 425.77,162.31" fill="#fddda5" stroke="#fccc78" stroke-width="0.3"/>
<polygon points="425.77,162.31 430.49,161.47 430.49,161.82 425.77,162.66" fill="#fddda5"/>
<polygon points="425.77,162.66 430.49,163.32 430.49,172.41 425.77,171.76" fill="#fddda5" stroke="#fccc78" stroke-width="0.3"/>
<polygon points="425.77,171.8 430.49,64.92 430.49,65 425.77,171.88" fill="#abccbb"/>
<polygon points="425.77,171.88 430.49,127.37 430.49,127.9 425.77,172.41" fill="#abccbb" stroke="#82b399" stroke-width="0.3"/>
<polygon points="425.77,172.41 430.49,140.29 430.49,140.5 425.77,172.62" fill="#abccbb"/>
<polygon points="425.77,172.62 430.49,161.82 430.49,162 425.77,172.8" fill="#abccbb"/>
<polygon points="425.77,172.8 430.49,172.41 430.49,172.5 425.77,172.88" fill="#abccbb"/>
<polygon points="425.77,172.88 430.49,172.88 430.49,175.2 425.77,175.2" fill="#abccbb" stroke="#82b399" stroke-width="0.3"/>
<polygon points="435.09,56.5 439.81,56.5 439.81,65 435.09,65" fill="#f9f79f" stroke="#f6f470" stroke-width="0.3"/>
<polygon points="435.09,65 439.81,65.8 439.81,128.7 435.09,127.9" fill="#e2e0d6" stroke="#d4d1c1" stroke-width="0.3"/>
<polygon points="435.09,127.9 439.81,65 439.81,65.11 435.09,128.01" fill="#d2d1d2"/>
<polygon points="435.09,128.01 439.81,128.7 439.81,129.17 435.09,128.48" fill="#d2d1d2" stroke="#bbbabb" stroke-width="0.3"/>
<polygon points="435.09,128.48 439.81,132.1 439.81,143.5 435.09,139.88" fill="#d2d1d2" stroke="#bbbabb" stroke-width="0.3"/>
<polygon points="435.09,139.88 439.81,147.8 439.81,148.15 435.09,140.23" fill="#d2d1d2"/>
<polygon points="435.09,140.23 439.81,164.8 439.81,164.95 435.09,140.38" fill="#d2d1d2"/>
<polygon points="435.09,140.38 439.81,172 439.81,172.12 435.09,140.5" fill="#d2d1d2"/>
<polygon points="435.09,140.5 439.81,65.11 439.81,65.52 435.09,140.91" fill="#f5848a" stroke="#f0474f" stroke-width="0.3"/>
<polygon points="435.09,140.91 439.81,129.17 439.81,130.91 435.09,142.66" fill="#f5848a" stroke="#f0474f" stroke-width="0.3"/>
<polygon points="435.09,142.66 439.81,143.5 439.81,146.06 435.09,145.22" fill="#f5848a" stroke="#f0474f" stroke-width="0.3"/>
<polygon points="435.09,145.22 439.81,148.15 439.81,163.91 435.09,160.98" fill="#f5848a" stroke="#f0474f" stroke-width="0.3"/>
<polygon points="435.09,160.98 439.81,164.95 439.81,165.5 435.09,161.54" fill="#f5848a" stroke="#f0474f" stroke-width="0.3"/>
<polygon points="435.09,161.54 439.81,172.12 439.81,172.59 435.09,162" fill="#f5848a" stroke="#f0474f" stroke-width="0.3"/>
<polygon points="435.09,162 439.81,65.52 439.81,65.78 435.09,162.26" fill="#fddda5"/>
<polygon points="435.09,162.26 439.81,130.91 439.81,132 435.09,163.34" fill="#fddda5" stroke="#fccc78" stroke-width="0.3"/>
<polygon points="435.09,163.34 439.81,146.06 439.81,147.65 435.09,164.93" fill="#fddda5" stroke="#fccc78" stroke-width="0.3"/>
<polygon points="435.09,164.93 439.81,163.91 439.81,164.72 435.09,165.75" fill="#fddda5" stroke="#fccc78" stroke-width="0.3"/>
<polygon points="435.09,165.75 439.81,165.5 439.81,171.97 435.09,172.21" fill="#fddda5" stroke="#fccc78" stroke-width="0.3"/>
<polygon points="435.09,172.21 439.81,172.59 439.81,172.88 435.09,172.5" fill="#fddda5"/>
<polygon points="435.09,172.52 439.81,132 439.81,132.1 435.09,172.62" fill="#abccbb"/>
<polygon points="435.09,172.62 439.81,147.65 439.81,147.8 435.09,172.77" fill="#abccbb"/>
<polygon points="435.09,172.77 439.81,164.72 439.81,164.8 435.09,172.85" fill="#abccbb"/>
<polygon points="435.09,172.88 439.81,172.88 439.81,175.2 435.09,175.2" fill="#abccbb" stroke="#82b399" stroke-width="0.3"/>
<polygon points="444.41,56.5 449.12,56.5 449.12,65.8 444.41,65.8" fill="#f9f79f" stroke="#f6f470" stroke-width="0.3"/>
<polygon points="444.41,65.8 449.12,66.3 449.12,132.6 444.41,132.1" fill="#e2e0d6" stroke="#d4d1c1" stroke-width="0.3"/>
<polygon points="444.41,132.1 449.12,65.8 449.12,65.92 444.41,132.22" fill="#d2d1d2"/>
<polygon points="444.41,132.22 449.12,132.6 449.12,133.76 444.41,133.39" fill="#d2d1d2" stroke="#bbbabb" stroke-width="0.3"/>
<polygon points="444.41,133.39 449.12,137.3 449.12,150.87 444.41,146.96" fill="#d2d1d2" stroke="#bbbabb" stroke-width="0.3"/>
<polygon points="444.41,146.96 449.12,152.6 449.12,153.08 444.41,147.44" fill="#d2d1d2" stroke="#bbbabb" stroke-width="0.3"/>
<polygon points="444.41,147.44 449.12,165.5 449.12,165.74 444.41,147.68" fill="#d2d1d2"/>
<polygon points="444.41,147.68 449.12,172 449.12,172.12 444.41,147.8" fill="#d2d1d2"/>
<polygon points="444.41,147.8 449.12,65.92 449.12,66.2 444.41,148.08" fill="#f5848a"/>
<polygon points="444.41,148.08 449.12,133.76 449.12,136.37 444.41,150.68" fill="#f5848a" stroke="#f0474f" stroke-width="0.3"/>
<polygon points="444.41,150.68 449.12,150.87 449.12,152.15 444.41,151.96" fill="#f5848a" stroke="#f0474f" stroke-width="0.3"/>
<polygon points="444.41,151.96 449.12,153.08 449.12,165.12 444.41,163.99" fill="#f5848a" stroke="#f0474f" stroke-width="0.3"/>
<polygon points="444.41,163.99 449.12,165.74 449.12,166.28 444.41,164.53" fill="#f5848a" stroke="#f0474f" stroke-width="0.3"/>
<polygon points="444.41,164.53 449.12,172.12 449.12,172.38 444.41,164.8" fill="#f5848a"/>
<polygon points="444.41,164.8 449.12,66.2 449.12,66.28 444.41,164.88" fill="#fddda5"/>
<polygon points="444.41,164.88 449.12,136.37 449.12,137.09 444.41,165.6" fill="#fddda5" stroke="#fccc78" stroke-width="0.3"/>
<polygon points="444.41,165.6 449.12,152.15 449.12,152.5 444.41,165.95" fill="#fddda5"/>
<polygon points="444.41,165.95 449.12,165.12 449.12,165.41 444.41,166.25" fill="#fddda5"/>
<polygon points="444.41,166.25 449.12,166.28 449.12,171.96 444.41,171.93" fill="#fddda5" stroke="#fccc78" stroke-width="0.3"/>
<polygon points="444.41,171.93 449.12,172.38 449.12,172.46 444.41,172" fill="#fddda5"/>
<polygon points="444.41,172.02 449.12,137.09 449.12,137.3 444.41,172.23" fill="#abccbb"/>
<polygon points="444.41,172.23 449.12,152.5 449.12,152.6 444.41,172.33" fill="#abccbb"/>
<polygon points="444.41,172.33 449.12,165.41 449.12,165.5 444.41,172.42" fill="#abccbb"/>
<polygon points="444.41,172.46 449.12,172.46 449.12,175.2 444.41,175.2" fill="#abccbb" stroke="#82b399" stroke-width="0.3"/>
<polygon points="453.72,56.5 458.44,56.5 458.44,66.3 453.72,66.3" fill="#f9f79f" stroke="#f6f470" stroke-width="0.3"/>
<polygon points="453.72,66.3 458.44,66.3 458.44,137.3 453.72,137.3" fill="#e2e0d6" stroke="#d4d1c1" stroke-width="0.3"/>
<polygon points="453.72,137.3 458.44,137.3 458.44,137.98 453.72,137.98" fill="#d2d1d2" stroke="#bbbabb" stroke-width="0.3"/>
<polygon points="453.72,137.98 458.44,139.8 458.44,153.62 453.72,151.81" fill="#d2d1d2" stroke="#bbbabb" stroke-width="0.3"/>
<polygon points="453.72,151.81 458.44,155.8 458.44,156.28 453.72,152.29" fill="#d2d1d2" stroke="#bbbabb" stroke-width="0.3"/>
<polygon points="453.72,152.29 458.44,167.6 458.44,167.8 453.72,152.49" fill="#d2d1d2"/>
<polygon points="453.72,152.49 458.44,172.5 458.44,172.61 453.72,152.6" fill="#d2d1d2"/>
<polygon points="453.72,152.6 458.44,137.98 458.44,138.84 453.72,153.45" fill="#f5848a" stroke="#f0474f" stroke-width="0.3"/>
<polygon points="453.72,153.45 458.44,153.62 458.44,154.65 453.72,154.48" fill="#f5848a" stroke="#f0474f" stroke-width="0.3"/>
<polygon points="453.72,154.48 458.44,156.28 458.44,166.92 453.72,165.11" fill="#f5848a" stroke="#f0474f" stroke-width="0.3"/>
<polygon points="453.72,165.11 458.44,167.8 458.44,168.05 453.72,165.36" fill="#f5848a"/>
<polygon points="453.72,165.36 458.44,172.61 458.44,172.75 453.72,165.5" fill="#f5848a"/>
<polygon points="453.72,165.5 458.44,138.84 458.44,139.53 453.72,166.19" fill="#fddda5" stroke="#fccc78" stroke-width="0.3"/>
<polygon points="453.72,166.19 458.44,154.65 458.44,155.48 453.72,167.03" fill="#fddda5" stroke="#fccc78" stroke-width="0.3"/>
<polygon points="453.72,167.03 458.44,166.92 458.44,167.41 453.72,167.52" fill="#fddda5" stroke="#fccc78" stroke-width="0.3"/>
<polygon points="453.72,167.52 458.44,168.05 458.44,172.42 453.72,171.89" fill="#fddda5" stroke="#fccc78" stroke-width="0.3"/>
<polygon points="453.72,171.89 458.44,172.75 458.44,172.86 453.72,172" fill="#fddda5"/>
<polygon points="453.72,172 458.44,139.53 458.44,139.8 453.72,172.27" fill="#abccbb"/>
<polygon points="453.72,172.27 458.44,155.48 458.44,155.8 453.72,172.59" fill="#abccbb"/>
<polygon points="453.72,172.59 458.44,167.41 458.44,167.6 453.72,172.78" fill="#abccbb"/>
<polygon points="453.72,172.78 458.44,172.42 458.44,172.5 453.72,172.86" fill="#abccbb"/>
<polygon points="453.72,172.86 458.44,172.86 458.44,175.2 453.72,175.2" fill="#abccbb" stroke="#82b399" stroke-width="0.3"/>
<polygon points="463.04,56.5 467.75,56.5 467.75,66.3 463.04,66.3" fill="#f9f79f" stroke="#f6f470" stroke-width="0.3"/>
<polygon points="463.04,66.3 467.75,66.3 467.75,139.8 463.04,139.8" fill="#e2e0d6" stroke="#d4d1c1" stroke-width="0.3"/>
<polygon points="463.04,139.8 467.75,139.8 467.75,140.43 463.04,140.43" fill="#d2d1d2" stroke="#bbbabb" stroke-width="0.3"/>
<polygon points="463.04,140.43 467.75,141.9 467.75,156.22 463.04,154.76" fill="#d2d1d2" stroke="#bbbabb" stroke-width="0.3"/>
<polygon points="463.04,154.76 467.75,157.9 467.75,158.37 463.04,155.23" fill="#d2d1d2" stroke="#bbbabb" stroke-width="0.3"/>
<polygon points="463.04,155.23 467.75,168.3 467.75,168.49 463.04,155.42" fill="#d2d1d2"/>
<polygon points="463.04,155.42 467.75,172.5 467.75,172.8 463.04,155.72" fill="#d2d1d2"/>
<polygon points="463.04,155.72 467.75,173.5 467.75,173.58 463.04,155.8" fill="#d2d1d2"/>
<polygon points="463.04,155.8 467.75,140.43 467.75,141.22 463.04,156.58" fill="#f5848a" stroke="#f0474f" stroke-width="0.3"/>
<polygon points="463.04,156.58 467.75,156.22 467.75,157.12 463.04,157.48" fill="#f5848a" stroke="#f0474f" stroke-width="0.3"/>
<polygon points="463.04,157.48 467.75,158.37 467.75,167.79 463.04,166.9" fill="#f5848a" stroke="#f0474f" stroke-width="0.3"/>
<polygon points="463.04,166.9 467.75,168.49 467.75,168.73 463.04,167.13" fill="#f5848a"/>
<polygon points="463.04,167.13 467.75,172.8 467.75,173.17 463.04,167.5" fill="#f5848a"/>
<polygon points="463.04,167.5 467.75,173.58 467.75,173.67 463.04,167.6" fill="#f5848a"/>
<polygon points="463.04,167.6 467.75,141.22 467.75,141.57 463.04,167.95" fill="#fddda5"/>
<polygon points="463.04,167.95 467.75,157.12 467.75,157.52 463.04,168.35" fill="#fddda5" stroke="#fccc78" stroke-width="0.3"/>
<polygon points="463.04,168.35 467.75,167.79 467.75,168.05 463.04,168.61" fill="#fddda5"/>
<polygon points="463.04,168.61 467.75,168.73 467.75,172.4 463.04,172.29" fill="#fddda5" stroke="#fccc78" stroke-width="0.3"/>
<polygon points="463.04,172.29 467.75,173.17 467.75,173.34 463.04,172.46" fill="#fddda5"/>
<polygon points="463.04,172.5 467.75,141.57 467.75,141.9 463.04,172.83" fill="#abccbb"/>
<polygon points="463.04,172.83 467.75,157.52 467.75,157.9 463.04,173.21" fill="#abccbb"/>
<polygon points="463.04,173.21 467.75,168.05 467.75,168.3 463.04,173.46" fill="#abccbb"/>
<polygon points="463.04,173.46 467.75,172.4 467.75,172.5 463.04,173.56" fill="#abccbb"/>
<polygon points="463.04,173.56 467.75,173.34 467.75,173.5 463.04,173.71" fill="#abccbb"/>
<polygon points="463.04,173.71 467.75,173.71 467.75,175.2 463.04,175.2" fill="#abccbb" stroke="#82b399" stroke-width="0.3"/>
<polygon points="472.35,56.5 477.07,56.5 477.07,66.3 472.35,66.3" fill="#f9f79f" stroke="#f6f470" stroke-width="0.3"/>
<polygon points="472.35,66.3 477.07,66.3 477.07,141.9 472.35,141.9" fill="#e2e0d6" stroke="#d4d1c1" stroke-width="0.3"/>
<polygon points="472.35,141.9 477.07,141.9 477.07,142.5 472.35,142.5" fill="#d2d1d2" stroke="#bbbabb" stroke-width="0.3"/>
<polygon points="472.35,142.5 477.07,145.3 477.07,160.45 472.35,157.65" fill="#d2d1d2" stroke="#bbbabb" stroke-width="0.3"/>
<polygon points="472.35,157.65 477.07,167.6 477.07,167.75 472.35,157.8" fill="#d2d1d2"/>
<polygon points="472.35,157.8 477.07,173.2 477.07,173.3 472.35,157.9" fill="#d2d1d2"/>
<polygon points="472.35,157.9 477.07,142.5 477.07,143.93 472.35,159.32" fill="#f5848a" stroke="#f0474f" stroke-width="0.3"/>
<polygon points="472.35,159.32 477.07,160.45 477.07,164.08 472.35,162.96" fill="#f5848a" stroke="#f0474f" stroke-width="0.3"/>
<polygon points="472.35,162.96 477.07,167.75 477.07,172.86 472.35,168.07" fill="#f5848a" stroke="#f0474f" stroke-width="0.3"/>
<polygon points="472.35,168.07 477.07,173.3 477.07,173.53 472.35,168.3" fill="#f5848a"/>
<polygon points="472.35,168.3 477.07,143.93 477.07,144.98 472.35,169.36" fill="#fddda5" stroke="#fccc78" stroke-width="0.3"/>
<polygon points="472.35,169.36 477.07,164.08 477.07,166.79 472.35,172.07" fill="#fddda5" stroke="#fccc78" stroke-width="0.3"/>
<polygon points="472.35,172.07 477.07,172.86 477.07,173.12 472.35,172.33" fill="#fddda5"/>
<polygon points="472.35,172.33 477.07,173.53 477.07,173.7 472.35,172.5" fill="#fddda5"/>
<polygon points="472.35,172.5 477.07,144.98 477.07,145.24 472.35,172.75" fill="#c8e8d6"/>
<polygon points="472.35,172.75 477.07,166.79 477.07,167.44 472.35,173.4" fill="#c8e8d6" stroke="#addcc1" stroke-width="0.3"/>
<polygon points="472.35,173.4 477.07,173.12 477.07,173.18 472.35,173.46" fill="#c8e8d6"/>
<polygon points="472.35,173.5 477.07,145.24 477.07,145.3 472.35,173.56" fill="#abccbb"/>
<polygon points="472.35,173.56 477.07,167.44 477.07,167.6 472.35,173.73" fill="#abccbb"/>
<polygon points="472.35,173.74 477.07,173.74 477.07,175.2 472.35,175.2" fill="#abccbb" stroke="#82b399" stroke-width="0.3"/>
<polygon points="481.67,56.5 486.38,56.5 486.38,66.3 481.67,66.3" fill="#f9f79f" stroke="#f6f470" stroke-width="0.3"/>
<polygon points="481.67,66.3 486.38,67.2 486.38,146.2 481.67,145.3" fill="#e2e0d6" stroke="#d4d1c1" stroke-width="0.3"/>
<polygon points="481.67,145.3 486.38,66.3 486.38,66.58 481.67,145.58" fill="#d2d1d2"/>
<polygon points="481.67,145.58 486.38,146.2 486.38,147.21 481.67,146.58" fill="#d2d1d2" stroke="#bbbabb" stroke-width="0.3"/>
<polygon points="481.67,146.58 486.38,149.5 486.38,170.52 481.67,167.6" fill="#d2d1d2" stroke="#bbbabb" stroke-width="0.3"/>
<polygon points="481.67,167.6 486.38,66.58 486.38,67.04 481.67,168.06" fill="#f5848a" stroke="#f0474f" stroke-width="0.3"/>
<polygon points="481.67,168.06 486.38,147.21 486.38,148.9 481.67,169.75" fill="#f5848a" stroke="#f0474f" stroke-width="0.3"/>
<polygon points="481.67,169.75 486.38,170.52 486.38,173.97 481.67,173.2" fill="#f5848a" stroke="#f0474f" stroke-width="0.3"/>
<polygon points="481.67,173.2 486.38,67.04 486.38,67.2 481.67,173.36" fill="#abccbb"/>
<polygon points="481.67,173.36 486.38,148.9 486.38,149.5 481.67,173.97" fill="#abccbb" stroke="#82b399" stroke-width="0.3"/>
<polygon points="481.67,173.97 486.38,173.97 486.38,175.2 481.67,175.2" fill="#abccbb" stroke="#82b399" stroke-width="0.3"/>
<polygon points="490.98,56.5 495.7,56.5 495.7,67.2 490.98,67.2" fill="#f9f79f" stroke="#f6f470" stroke-width="0.3"/>
<polygon points="490.98,67.2 495.7,67.2 495.7,149.5 490.98,149.5" fill="#e2e0d6" stroke="#d4d1c1" stroke-width="0.3"/>
<polygon points="490.98,149.5 495.7,149.5 495.7,150.2 490.98,150.2" fill="#d2d1d2" stroke="#bbbabb" stroke-width="0.3"/>
<polygon points="490.98,150.2 495.7,150.2 495.7,175.2 490.98,175.2" fill="#d2d1d2" stroke="#bbbabb" stroke-width="0.3"/>
</g>
<rect x="318.7" y="56.5" width="4.6" height="7.2" fill="#8e8c8e" stroke="rgba(0,0,0,0.36)" stroke-width="0.65"/>
<rect x="319.9" y="59.6" width="2.2" height="1" fill="#fff" opacity="0.45"/>
<rect x="318.7" y="63.7" width="4.6" height="111.5" fill="#eb0a14" stroke="rgba(0,0,0,0.36)" stroke-width="0.65"/>
<rect x="319.9" y="118.95" width="2.2" height="1" fill="#fff" opacity="0.45"/>
<rect x="328.02" y="56.5" width="4.6" height="3.2" fill="#b0ac40" stroke="rgba(0,0,0,0.36)" stroke-width="0.65"/>
<rect x="328.02" y="59.7" width="4.6" height="1.3" fill="#dcd4ac" stroke="rgba(0,0,0,0.36)" stroke-width="0.65"/>
<rect x="328.02" y="61" width="4.6" height="13.8" fill="#8e8c8e" stroke="rgba(0,0,0,0.36)" stroke-width="0.65"/>
<rect x="329.22" y="67.4" width="2.2" height="1" fill="#fff" opacity="0.45"/>
<rect x="328.02" y="74.8" width="4.6" height="14.6" fill="#eb0a14" stroke="rgba(0,0,0,0.36)" stroke-width="0.65"/>
<rect x="329.22" y="81.6" width="2.2" height="1" fill="#fff" opacity="0.45"/>
<rect x="328.02" y="89.4" width="4.6" height="48.6" fill="#faaa1e" stroke="rgba(0,0,0,0.36)" stroke-width="0.65"/>
<rect x="329.22" y="113.2" width="2.2" height="1" fill="#fff" opacity="0.45"/>
<rect x="328.02" y="138" width="4.6" height="20.6" fill="#aadcbe" stroke="rgba(0,0,0,0.36)" stroke-width="0.65"/>
<rect x="329.22" y="147.8" width="2.2" height="1" fill="#fff" opacity="0.45"/>
<rect x="328.02" y="158.6" width="4.6" height="12.5" fill="#48b275" stroke="rgba(0,0,0,0.36)" stroke-width="0.65"/>
<rect x="329.22" y="164.35" width="2.2" height="1" fill="#fff" opacity="0.45"/>
<rect x="328.02" y="171.1" width="4.6" height="4.1" fill="#237a4c" stroke="rgba(0,0,0,0.36)" stroke-width="0.65"/>
<rect x="337.33" y="56.5" width="4.6" height="3.2" fill="#b0ac40" stroke="rgba(0,0,0,0.36)" stroke-width="0.65"/>
<rect x="337.33" y="59.7" width="4.6" height="1.8" fill="#dcd4ac" stroke="rgba(0,0,0,0.36)" stroke-width="0.65"/>
<rect x="337.33" y="61.5" width="4.6" height="18.3" fill="#8e8c8e" stroke="rgba(0,0,0,0.36)" stroke-width="0.65"/>
<rect x="338.53" y="70.15" width="2.2" height="1" fill="#fff" opacity="0.45"/>
<rect x="337.33" y="79.8" width="4.6" height="16.7" fill="#eb0a14" stroke="rgba(0,0,0,0.36)" stroke-width="0.65"/>
<rect x="338.53" y="87.65" width="2.2" height="1" fill="#fff" opacity="0.45"/>
<rect x="337.33" y="96.5" width="4.6" height="34.2" fill="#faaa1e" stroke="rgba(0,0,0,0.36)" stroke-width="0.65"/>
<rect x="338.53" y="113.1" width="2.2" height="1" fill="#fff" opacity="0.45"/>
<rect x="337.33" y="130.7" width="4.6" height="23.7" fill="#aadcbe" stroke="rgba(0,0,0,0.36)" stroke-width="0.65"/>
<rect x="338.53" y="142.05" width="2.2" height="1" fill="#fff" opacity="0.45"/>
<rect x="337.33" y="154.4" width="4.6" height="16" fill="#48b275" stroke="rgba(0,0,0,0.36)" stroke-width="0.65"/>
<rect x="338.53" y="161.9" width="2.2" height="1" fill="#fff" opacity="0.45"/>
<rect x="337.33" y="170.4" width="4.6" height="4.8" fill="#237a4c" stroke="rgba(0,0,0,0.36)" stroke-width="0.65"/>
<rect x="338.53" y="172.3" width="2.2" height="1" fill="#fff" opacity="0.45"/>
<rect x="346.65" y="56.5" width="4.6" height="3.2" fill="#b0ac40" stroke="rgba(0,0,0,0.36)" stroke-width="0.65"/>
<rect x="346.65" y="59.7" width="4.6" height="2.3" fill="#dcd4ac" stroke="rgba(0,0,0,0.36)" stroke-width="0.65"/>
<rect x="346.65" y="62" width="4.6" height="29.2" fill="#8e8c8e" stroke="rgba(0,0,0,0.36)" stroke-width="0.65"/>
<rect x="347.85" y="76.1" width="2.2" height="1" fill="#fff" opacity="0.45"/>
<rect x="346.65" y="91.2" width="4.6" height="17.9" fill="#eb0a14" stroke="rgba(0,0,0,0.36)" stroke-width="0.65"/>
<rect x="347.85" y="99.65" width="2.2" height="1" fill="#fff" opacity="0.45"/>
<rect x="346.65" y="109.1" width="4.6" height="20.2" fill="#faaa1e" stroke="rgba(0,0,0,0.36)" stroke-width="0.65"/>
<rect x="347.85" y="118.7" width="2.2" height="1" fill="#fff" opacity="0.45"/>
<rect x="346.65" y="129.3" width="4.6" height="23.7" fill="#aadcbe" stroke="rgba(0,0,0,0.36)" stroke-width="0.65"/>
<rect x="347.85" y="140.65" width="2.2" height="1" fill="#fff" opacity="0.45"/>
<rect x="346.65" y="153" width="4.6" height="10.4" fill="#48b275" stroke="rgba(0,0,0,0.36)" stroke-width="0.65"/>
<rect x="347.85" y="157.7" width="2.2" height="1" fill="#fff" opacity="0.45"/>
<rect x="346.65" y="163.4" width="4.6" height="11.8" fill="#237a4c" stroke="rgba(0,0,0,0.36)" stroke-width="0.65"/>
<rect x="347.85" y="168.8" width="2.2" height="1" fill="#fff" opacity="0.45"/>
<rect x="355.96" y="56.5" width="4.6" height="3.2" fill="#b0ac40" stroke="rgba(0,0,0,0.36)" stroke-width="0.65"/>
<rect x="355.96" y="59.7" width="4.6" height="4.3" fill="#dcd4ac" stroke="rgba(0,0,0,0.36)" stroke-width="0.65"/>
<rect x="355.96" y="64" width="4.6" height="15.8" fill="#8e8c8e" stroke="rgba(0,0,0,0.36)" stroke-width="0.65"/>
<rect x="357.16" y="71.4" width="2.2" height="1" fill="#fff" opacity="0.45"/>
<rect x="355.96" y="79.8" width="4.6" height="31.4" fill="#eb0a14" stroke="rgba(0,0,0,0.36)" stroke-width="0.65"/>
<rect x="357.16" y="95" width="2.2" height="1" fill="#fff" opacity="0.45"/>
<rect x="355.96" y="111.2" width="4.6" height="25" fill="#faaa1e" stroke="rgba(0,0,0,0.36)" stroke-width="0.65"/>
<rect x="357.16" y="123.2" width="2.2" height="1" fill="#fff" opacity="0.45"/>
<rect x="355.96" y="136.2" width="4.6" height="15.4" fill="#aadcbe" stroke="rgba(0,0,0,0.36)" stroke-width="0.65"/>
<rect x="357.16" y="143.4" width="2.2" height="1" fill="#fff" opacity="0.45"/>
<rect x="355.96" y="151.6" width="4.6" height="16.7" fill="#48b275" stroke="rgba(0,0,0,0.36)" stroke-width="0.65"/>
<rect x="357.16" y="159.45" width="2.2" height="1" fill="#fff" opacity="0.45"/>
<rect x="355.96" y="168.3" width="4.6" height="6.9" fill="#237a4c" stroke="rgba(0,0,0,0.36)" stroke-width="0.65"/>
<rect x="357.16" y="171.25" width="2.2" height="1" fill="#fff" opacity="0.45"/>
<rect x="365.28" y="56.5" width="4.6" height="6.1" fill="#f0ec10" stroke="rgba(0,0,0,0.36)" stroke-width="0.65"/>
<rect x="365.28" y="62.6" width="4.6" height="17.9" fill="#afaa8c" stroke="rgba(0,0,0,0.36)" stroke-width="0.65"/>
<rect x="366.48" y="71.05" width="2.2" height="1" fill="#fff" opacity="0.45"/>
<rect x="365.28" y="80.5" width="4.6" height="7.3" fill="#8e8c8e" stroke="rgba(0,0,0,0.36)" stroke-width="0.65"/>
<rect x="366.48" y="83.65" width="2.2" height="1" fill="#fff" opacity="0.45"/>
<rect x="365.28" y="87.8" width="4.6" height="33.9" fill="#eb0a14" stroke="rgba(0,0,0,0.36)" stroke-width="0.65"/>
<rect x="366.48" y="104.25" width="2.2" height="1" fill="#fff" opacity="0.45"/>
<rect x="365.28" y="121.7" width="4.6" height="25.7" fill="#faaa1e" stroke="rgba(0,0,0,0.36)" stroke-width="0.65"/>
<rect x="366.48" y="134.05" width="2.2" height="1" fill="#fff" opacity="0.45"/>
<rect x="365.28" y="147.4" width="4.6" height="12.6" fill="#aadcbe" stroke="rgba(0,0,0,0.36)" stroke-width="0.65"/>
<rect x="366.48" y="153.2" width="2.2" height="1" fill="#fff" opacity="0.45"/>
<rect x="365.28" y="160" width="4.6" height="11.1" fill="#48b275" stroke="rgba(0,0,0,0.36)" stroke-width="0.65"/>
<rect x="366.48" y="165.05" width="2.2" height="1" fill="#fff" opacity="0.45"/>
<rect x="365.28" y="171.1" width="4.6" height="4.1" fill="#237a4c" stroke="rgba(0,0,0,0.36)" stroke-width="0.65"/>
<rect x="374.59" y="56.5" width="4.6" height="6.5" fill="#f0ec10" stroke="rgba(0,0,0,0.36)" stroke-width="0.65"/>
<rect x="374.59" y="63" width="4.6" height="22.3" fill="#afaa8c" stroke="rgba(0,0,0,0.36)" stroke-width="0.65"/>
<rect x="375.79" y="73.65" width="2.2" height="1" fill="#fff" opacity="0.45"/>
<rect x="374.59" y="85.3" width="4.6" height="6.3" fill="#8e8c8e" stroke="rgba(0,0,0,0.36)" stroke-width="0.65"/>
<rect x="375.79" y="87.95" width="2.2" height="1" fill="#fff" opacity="0.45"/>
<rect x="374.59" y="91.6" width="4.6" height="34.2" fill="#eb0a14" stroke="rgba(0,0,0,0.36)" stroke-width="0.65"/>
<rect x="375.79" y="108.2" width="2.2" height="1" fill="#fff" opacity="0.45"/>
<rect x="374.59" y="125.8" width="4.6" height="30.7" fill="#faaa1e" stroke="rgba(0,0,0,0.36)" stroke-width="0.65"/>
<rect x="375.79" y="140.65" width="2.2" height="1" fill="#fff" opacity="0.45"/>
<rect x="374.59" y="156.5" width="4.6" height="7.6" fill="#aadcbe" stroke="rgba(0,0,0,0.36)" stroke-width="0.65"/>
<rect x="375.79" y="159.8" width="2.2" height="1" fill="#fff" opacity="0.45"/>
<rect x="374.59" y="164.1" width="4.6" height="6.9" fill="#48b275" stroke="rgba(0,0,0,0.36)" stroke-width="0.65"/>
<rect x="375.79" y="167.05" width="2.2" height="1" fill="#fff" opacity="0.45"/>
<rect x="374.59" y="171" width="4.6" height="4.2" fill="#237a4c" stroke="rgba(0,0,0,0.36)" stroke-width="0.65"/>
<rect x="383.91" y="56.5" width="4.6" height="7" fill="#f0ec10" stroke="rgba(0,0,0,0.36)" stroke-width="0.65"/>
<rect x="383.91" y="63.5" width="4.6" height="29.8" fill="#afaa8c" stroke="rgba(0,0,0,0.36)" stroke-width="0.65"/>
<rect x="385.11" y="77.9" width="2.2" height="1" fill="#fff" opacity="0.45"/>
<rect x="383.91" y="93.3" width="4.6" height="4.3" fill="#8e8c8e" stroke="rgba(0,0,0,0.36)" stroke-width="0.65"/>
<rect x="383.91" y="97.6" width="4.6" height="38" fill="#eb0a14" stroke="rgba(0,0,0,0.36)" stroke-width="0.65"/>
<rect x="385.11" y="116.1" width="2.2" height="1" fill="#fff" opacity="0.45"/>
<rect x="383.91" y="135.6" width="4.6" height="28" fill="#faaa1e" stroke="rgba(0,0,0,0.36)" stroke-width="0.65"/>
<rect x="385.11" y="149.1" width="2.2" height="1" fill="#fff" opacity="0.45"/>
<rect x="383.91" y="163.6" width="4.6" height="4.4" fill="#aadcbe" stroke="rgba(0,0,0,0.36)" stroke-width="0.65"/>
<rect x="383.91" y="168" width="4.6" height="4" fill="#48b275" stroke="rgba(0,0,0,0.36)" stroke-width="0.65"/>
<rect x="383.91" y="172" width="4.6" height="3.2" fill="#237a4c" stroke="rgba(0,0,0,0.36)" stroke-width="0.65"/>
<rect x="393.23" y="56.5" width="4.6" height="7" fill="#f0ec10" stroke="rgba(0,0,0,0.36)" stroke-width="0.65"/>
<rect x="393.23" y="63.5" width="4.6" height="36.5" fill="#afaa8c" stroke="rgba(0,0,0,0.36)" stroke-width="0.65"/>
<rect x="394.43" y="81.25" width="2.2" height="1" fill="#fff" opacity="0.45"/>
<rect x="393.23" y="100" width="4.6" height="4.1" fill="#8e8c8e" stroke="rgba(0,0,0,0.36)" stroke-width="0.65"/>
<rect x="393.23" y="104.1" width="4.6" height="36.4" fill="#eb0a14" stroke="rgba(0,0,0,0.36)" stroke-width="0.65"/>
<rect x="394.43" y="121.8" width="2.2" height="1" fill="#fff" opacity="0.45"/>
<rect x="393.23" y="140.5" width="4.6" height="25" fill="#faaa1e" stroke="rgba(0,0,0,0.36)" stroke-width="0.65"/>
<rect x="394.43" y="152.5" width="2.2" height="1" fill="#fff" opacity="0.45"/>
<rect x="393.23" y="165.5" width="4.6" height="4.5" fill="#aadcbe" stroke="rgba(0,0,0,0.36)" stroke-width="0.65"/>
<rect x="393.23" y="170" width="4.6" height="2.5" fill="#48b275" stroke="rgba(0,0,0,0.36)" stroke-width="0.65"/>
<rect x="393.23" y="172.5" width="4.6" height="2.7" fill="#237a4c" stroke="rgba(0,0,0,0.36)" stroke-width="0.65"/>
<rect x="402.54" y="56.5" width="4.6" height="7" fill="#f0ec10" stroke="rgba(0,0,0,0.36)" stroke-width="0.65"/>
<rect x="402.54" y="63.5" width="4.6" height="41.3" fill="#afaa8c" stroke="rgba(0,0,0,0.36)" stroke-width="0.65"/>
<rect x="403.74" y="83.65" width="2.2" height="1" fill="#fff" opacity="0.45"/>
<rect x="402.54" y="104.8" width="4.6" height="4.2" fill="#8e8c8e" stroke="rgba(0,0,0,0.36)" stroke-width="0.65"/>
<rect x="402.54" y="109" width="4.6" height="36.3" fill="#eb0a14" stroke="rgba(0,0,0,0.36)" stroke-width="0.65"/>
<rect x="403.74" y="126.65" width="2.2" height="1" fill="#fff" opacity="0.45"/>
<rect x="402.54" y="145.3" width="4.6" height="22.3" fill="#faaa1e" stroke="rgba(0,0,0,0.36)" stroke-width="0.65"/>
<rect x="403.74" y="155.95" width="2.2" height="1" fill="#fff" opacity="0.45"/>
<rect x="402.54" y="167.6" width="4.6" height="2.4" fill="#aadcbe" stroke="rgba(0,0,0,0.36)" stroke-width="0.65"/>
<rect x="402.54" y="170" width="4.6" height="2" fill="#48b275" stroke="rgba(0,0,0,0.36)" stroke-width="0.65"/>
<rect x="402.54" y="172" width="4.6" height="3.2" fill="#237a4c" stroke="rgba(0,0,0,0.36)" stroke-width="0.65"/>
<rect x="411.86" y="56.5" width="4.6" height="7" fill="#f0ec10" stroke="rgba(0,0,0,0.36)" stroke-width="0.65"/>
<rect x="411.86" y="63.5" width="4.6" height="44.8" fill="#afaa8c" stroke="rgba(0,0,0,0.36)" stroke-width="0.65"/>
<rect x="413.06" y="85.4" width="2.2" height="1" fill="#fff" opacity="0.45"/>
<rect x="411.86" y="108.3" width="4.6" height="9.2" fill="#8e8c8e" stroke="rgba(0,0,0,0.36)" stroke-width="0.65"/>
<rect x="413.06" y="112.4" width="2.2" height="1" fill="#fff" opacity="0.45"/>
<rect x="411.86" y="117.5" width="4.6" height="39" fill="#eb0a14" stroke="rgba(0,0,0,0.36)" stroke-width="0.65"/>
<rect x="413.06" y="136.5" width="2.2" height="1" fill="#fff" opacity="0.45"/>
<rect x="411.86" y="156.5" width="4.6" height="13.9" fill="#faaa1e" stroke="rgba(0,0,0,0.36)" stroke-width="0.65"/>
<rect x="413.06" y="162.95" width="2.2" height="1" fill="#fff" opacity="0.45"/>
<rect x="411.86" y="170.4" width="4.6" height="1.1" fill="#aadcbe" stroke="rgba(0,0,0,0.36)" stroke-width="0.65"/>
<rect x="411.86" y="171.5" width="4.6" height="1" fill="#48b275" stroke="rgba(0,0,0,0.36)" stroke-width="0.65"/>
<rect x="411.86" y="172.5" width="4.6" height="2.7" fill="#237a4c" stroke="rgba(0,0,0,0.36)" stroke-width="0.65"/>
<rect x="421.17" y="56.5" width="4.6" height="7" fill="#f0ec10" stroke="rgba(0,0,0,0.36)" stroke-width="0.65"/>
<rect x="421.17" y="63.5" width="4.6" height="53.3" fill="#afaa8c" stroke="rgba(0,0,0,0.36)" stroke-width="0.65"/>
<rect x="422.37" y="89.65" width="2.2" height="1" fill="#fff" opacity="0.45"/>
<rect x="421.17" y="116.8" width="4.6" height="10.4" fill="#8e8c8e" stroke="rgba(0,0,0,0.36)" stroke-width="0.65"/>
<rect x="422.37" y="121.5" width="2.2" height="1" fill="#fff" opacity="0.45"/>
<rect x="421.17" y="127.2" width="4.6" height="33.5" fill="#eb0a14" stroke="rgba(0,0,0,0.36)" stroke-width="0.65"/>
<rect x="422.37" y="143.45" width="2.2" height="1" fill="#fff" opacity="0.45"/>
<rect x="421.17" y="160.7" width="4.6" height="11.1" fill="#faaa1e" stroke="rgba(0,0,0,0.36)" stroke-width="0.65"/>
<rect x="422.37" y="165.75" width="2.2" height="1" fill="#fff" opacity="0.45"/>
<rect x="421.17" y="171.8" width="4.6" height="3.4" fill="#237a4c" stroke="rgba(0,0,0,0.36)" stroke-width="0.65"/>
<rect x="430.49" y="56.5" width="4.6" height="8.5" fill="#f0ec10" stroke="rgba(0,0,0,0.36)" stroke-width="0.65"/>
<path d="M430.49 60.75H435.09" stroke="rgba(0,0,0,0.4)" stroke-width="0.6"/>
<rect x="430.49" y="65" width="4.6" height="62.9" fill="#afaa8c" stroke="rgba(0,0,0,0.36)" stroke-width="0.65"/>
<rect x="431.69" y="95.95" width="2.2" height="1" fill="#fff" opacity="0.45"/>
<rect x="430.49" y="127.9" width="4.6" height="12.6" fill="#8e8c8e" stroke="rgba(0,0,0,0.36)" stroke-width="0.65"/>
<rect x="431.69" y="133.7" width="2.2" height="1" fill="#fff" opacity="0.45"/>
<rect x="430.49" y="140.5" width="4.6" height="21.5" fill="#eb0a14" stroke="rgba(0,0,0,0.36)" stroke-width="0.65"/>
<rect x="431.69" y="150.75" width="2.2" height="1" fill="#fff" opacity="0.45"/>
<rect x="430.49" y="162" width="4.6" height="10.5" fill="#faaa1e" stroke="rgba(0,0,0,0.36)" stroke-width="0.65"/>
<rect x="431.69" y="166.75" width="2.2" height="1" fill="#fff" opacity="0.45"/>
<rect x="430.49" y="172.5" width="4.6" height="2.7" fill="#237a4c" stroke="rgba(0,0,0,0.36)" stroke-width="0.65"/>
<rect x="439.81" y="56.5" width="4.6" height="9.3" fill="#f0ec10" stroke="rgba(0,0,0,0.36)" stroke-width="0.65"/>
<path d="M439.81 61.15H444.41" stroke="rgba(0,0,0,0.4)" stroke-width="0.6"/>
<rect x="439.81" y="65.8" width="4.6" height="66.3" fill="#afaa8c" stroke="rgba(0,0,0,0.36)" stroke-width="0.65"/>
<rect x="441.01" y="98.45" width="2.2" height="1" fill="#fff" opacity="0.45"/>
<rect x="439.81" y="132.1" width="4.6" height="15.7" fill="#8e8c8e" stroke="rgba(0,0,0,0.36)" stroke-width="0.65"/>
<rect x="441.01" y="139.45" width="2.2" height="1" fill="#fff" opacity="0.45"/>
<rect x="439.81" y="147.8" width="4.6" height="17" fill="#eb0a14" stroke="rgba(0,0,0,0.36)" stroke-width="0.65"/>
<rect x="441.01" y="155.8" width="2.2" height="1" fill="#fff" opacity="0.45"/>
<rect x="439.81" y="164.8" width="4.6" height="7.2" fill="#faaa1e" stroke="rgba(0,0,0,0.36)" stroke-width="0.65"/>
<rect x="441.01" y="167.9" width="2.2" height="1" fill="#fff" opacity="0.45"/>
<rect x="439.81" y="172" width="4.6" height="3.2" fill="#237a4c" stroke="rgba(0,0,0,0.36)" stroke-width="0.65"/>
<rect x="449.12" y="56.5" width="4.6" height="9.8" fill="#f0ec10" stroke="rgba(0,0,0,0.36)" stroke-width="0.65"/>
<path d="M449.12 61.4H453.72" stroke="rgba(0,0,0,0.4)" stroke-width="0.6"/>
<rect x="449.12" y="66.3" width="4.6" height="71" fill="#afaa8c" stroke="rgba(0,0,0,0.36)" stroke-width="0.65"/>
<rect x="450.32" y="101.3" width="2.2" height="1" fill="#fff" opacity="0.45"/>
<rect x="449.12" y="137.3" width="4.6" height="15.3" fill="#8e8c8e" stroke="rgba(0,0,0,0.36)" stroke-width="0.65"/>
<rect x="450.32" y="144.45" width="2.2" height="1" fill="#fff" opacity="0.45"/>
<rect x="449.12" y="152.6" width="4.6" height="12.9" fill="#eb0a14" stroke="rgba(0,0,0,0.36)" stroke-width="0.65"/>
<rect x="450.32" y="158.55" width="2.2" height="1" fill="#fff" opacity="0.45"/>
<rect x="449.12" y="165.5" width="4.6" height="6.5" fill="#faaa1e" stroke="rgba(0,0,0,0.36)" stroke-width="0.65"/>
<rect x="450.32" y="168.25" width="2.2" height="1" fill="#fff" opacity="0.45"/>
<rect x="449.12" y="172" width="4.6" height="3.2" fill="#237a4c" stroke="rgba(0,0,0,0.36)" stroke-width="0.65"/>
<rect x="458.44" y="56.5" width="4.6" height="9.8" fill="#f0ec10" stroke="rgba(0,0,0,0.36)" stroke-width="0.65"/>
<path d="M458.44 61.4H463.04" stroke="rgba(0,0,0,0.4)" stroke-width="0.6"/>
<rect x="458.44" y="66.3" width="4.6" height="73.5" fill="#afaa8c" stroke="rgba(0,0,0,0.36)" stroke-width="0.65"/>
<rect x="459.64" y="102.55" width="2.2" height="1" fill="#fff" opacity="0.45"/>
<rect x="458.44" y="139.8" width="4.6" height="16" fill="#8e8c8e" stroke="rgba(0,0,0,0.36)" stroke-width="0.65"/>
<rect x="459.64" y="147.3" width="2.2" height="1" fill="#fff" opacity="0.45"/>
<rect x="458.44" y="155.8" width="4.6" height="11.8" fill="#eb0a14" stroke="rgba(0,0,0,0.36)" stroke-width="0.65"/>
<rect x="459.64" y="161.2" width="2.2" height="1" fill="#fff" opacity="0.45"/>
<rect x="458.44" y="167.6" width="4.6" height="4.9" fill="#faaa1e" stroke="rgba(0,0,0,0.36)" stroke-width="0.65"/>
<rect x="459.64" y="169.55" width="2.2" height="1" fill="#fff" opacity="0.45"/>
<rect x="458.44" y="172.5" width="4.6" height="2.7" fill="#237a4c" stroke="rgba(0,0,0,0.36)" stroke-width="0.65"/>
<rect x="467.75" y="56.5" width="4.6" height="9.8" fill="#f0ec10" stroke="rgba(0,0,0,0.36)" stroke-width="0.65"/>
<path d="M467.75 61.4H472.35" stroke="rgba(0,0,0,0.4)" stroke-width="0.6"/>
<rect x="467.75" y="66.3" width="4.6" height="75.6" fill="#afaa8c" stroke="rgba(0,0,0,0.36)" stroke-width="0.65"/>
<rect x="468.95" y="103.6" width="2.2" height="1" fill="#fff" opacity="0.45"/>
<rect x="467.75" y="141.9" width="4.6" height="16" fill="#8e8c8e" stroke="rgba(0,0,0,0.36)" stroke-width="0.65"/>
<rect x="468.95" y="149.4" width="2.2" height="1" fill="#fff" opacity="0.45"/>
<rect x="467.75" y="157.9" width="4.6" height="10.4" fill="#eb0a14" stroke="rgba(0,0,0,0.36)" stroke-width="0.65"/>
<rect x="468.95" y="162.6" width="2.2" height="1" fill="#fff" opacity="0.45"/>
<rect x="467.75" y="168.3" width="4.6" height="4.2" fill="#faaa1e" stroke="rgba(0,0,0,0.36)" stroke-width="0.65"/>
<rect x="467.75" y="172.5" width="4.6" height="1" fill="#48b275" stroke="rgba(0,0,0,0.36)" stroke-width="0.65"/>
<rect x="467.75" y="173.5" width="4.6" height="1.7" fill="#237a4c" stroke="rgba(0,0,0,0.36)" stroke-width="0.65"/>
<rect x="477.07" y="56.5" width="4.6" height="9.8" fill="#f0ec10" stroke="rgba(0,0,0,0.36)" stroke-width="0.65"/>
<path d="M477.07 61.4H481.67" stroke="rgba(0,0,0,0.4)" stroke-width="0.6"/>
<rect x="477.07" y="66.3" width="4.6" height="79" fill="#afaa8c" stroke="rgba(0,0,0,0.36)" stroke-width="0.65"/>
<rect x="478.27" y="105.3" width="2.2" height="1" fill="#fff" opacity="0.45"/>
<rect x="477.07" y="145.3" width="4.6" height="22.3" fill="#8e8c8e" stroke="rgba(0,0,0,0.36)" stroke-width="0.65"/>
<rect x="478.27" y="155.95" width="2.2" height="1" fill="#fff" opacity="0.45"/>
<rect x="477.07" y="167.6" width="4.6" height="5.6" fill="#eb0a14" stroke="rgba(0,0,0,0.36)" stroke-width="0.65"/>
<rect x="478.27" y="169.9" width="2.2" height="1" fill="#fff" opacity="0.45"/>
<rect x="477.07" y="173.2" width="4.6" height="2" fill="#237a4c" stroke="rgba(0,0,0,0.36)" stroke-width="0.65"/>
<rect x="486.38" y="56.5" width="4.6" height="10.7" fill="#f0ec10" stroke="rgba(0,0,0,0.36)" stroke-width="0.65"/>
<path d="M486.38 61.85H490.98" stroke="rgba(0,0,0,0.4)" stroke-width="0.6"/>
<rect x="486.38" y="67.2" width="4.6" height="82.3" fill="#afaa8c" stroke="rgba(0,0,0,0.36)" stroke-width="0.65"/>
<rect x="487.58" y="107.85" width="2.2" height="1" fill="#fff" opacity="0.45"/>
<rect x="486.38" y="149.5" width="4.6" height="25.7" fill="#8e8c8e" stroke="rgba(0,0,0,0.36)" stroke-width="0.65"/>
<rect x="487.58" y="161.85" width="2.2" height="1" fill="#fff" opacity="0.45"/>
<rect x="495.7" y="56.5" width="4.6" height="10.7" fill="#f0ec10" stroke="rgba(0,0,0,0.36)" stroke-width="0.65"/>
<path d="M495.7 61.85H500.3" stroke="rgba(0,0,0,0.4)" stroke-width="0.6"/>
<rect x="495.7" y="67.2" width="4.6" height="83" fill="#afaa8c" stroke="rgba(0,0,0,0.36)" stroke-width="0.65"/>
<rect x="496.9" y="108.2" width="2.2" height="1" fill="#fff" opacity="0.45"/>
<rect x="495.7" y="150.2" width="4.6" height="25" fill="#8e8c8e" stroke="rgba(0,0,0,0.36)" stroke-width="0.65"/>
<rect x="496.9" y="162.2" width="2.2" height="1" fill="#fff" opacity="0.45"/>
<path d="M305.8 54.2H513M305.8 53.6V177.6" stroke="#111" stroke-width="1.15" fill="none"/>
<path d="M302.8 174.6H305.8" stroke="#111" stroke-width="0.8"/>
<text x="299.9" y="176.7" font-size="5.9" text-anchor="end" fill="#333" stroke="none">0</text>
<path d="M302.8 150.98H305.8" stroke="#111" stroke-width="0.8"/>
<text x="299.9" y="153.08" font-size="5.9" text-anchor="end" fill="#333" stroke="none">20</text>
<path d="M302.8 127.36H305.8" stroke="#111" stroke-width="0.8"/>
<text x="299.9" y="129.46" font-size="5.9" text-anchor="end" fill="#333" stroke="none">40</text>
<path d="M302.8 103.74H305.8" stroke="#111" stroke-width="0.8"/>
<text x="299.9" y="105.84" font-size="5.9" text-anchor="end" fill="#333" stroke="none">60</text>
<path d="M302.8 80.12H305.8" stroke="#111" stroke-width="0.8"/>
<text x="299.9" y="82.22" font-size="5.9" text-anchor="end" fill="#333" stroke="none">80</text>
<path d="M302.8 56.5H305.8" stroke="#111" stroke-width="0.8"/>
<text x="299.9" y="58.6" font-size="5.9" text-anchor="end" fill="#333" stroke="none">100</text>
<path d="M321 51.2V54" stroke="#111" stroke-width="0.6"/>
<text transform="translate(321.4,49.5) rotate(-45)" font-size="6.1" fill="#333" stroke="none">SCRN</text>
<path d="M330.32 51.2V54" stroke="#111" stroke-width="0.6"/>
<text transform="translate(330.72,49.5) rotate(-45)" font-size="6.1" fill="#333" stroke="none">C7D1</text>
<path d="M339.63 51.2V54" stroke="#111" stroke-width="0.6"/>
<text transform="translate(340.03,49.5) rotate(-45)" font-size="6.1" fill="#333" stroke="none">C9D1</text>
<path d="M348.95 51.2V54" stroke="#111" stroke-width="0.6"/>
<text transform="translate(349.35,49.5) rotate(-45)" font-size="6.1" fill="#333" stroke="none">C12D1</text>
<path d="M358.26 51.2V54" stroke="#111" stroke-width="0.6"/>
<text transform="translate(358.66,49.5) rotate(-45)" font-size="6.1" fill="#333" stroke="none">FU3</text>
<path d="M367.58 51.2V54" stroke="#111" stroke-width="0.6"/>
<text transform="translate(367.98,49.5) rotate(-45)" font-size="6.1" fill="#333" stroke="none">FU6</text>
<path d="M376.89 51.2V54" stroke="#111" stroke-width="0.6"/>
<text transform="translate(377.29,49.5) rotate(-45)" font-size="6.1" fill="#333" stroke="none">FU9</text>
<path d="M386.21 51.2V54" stroke="#111" stroke-width="0.6"/>
<text transform="translate(386.61,49.5) rotate(-45)" font-size="6.1" fill="#333" stroke="none">FU12</text>
<path d="M395.53 51.2V54" stroke="#111" stroke-width="0.6"/>
<text transform="translate(395.93,49.5) rotate(-45)" font-size="6.1" fill="#333" stroke="none">FU15</text>
<path d="M404.84 51.2V54" stroke="#111" stroke-width="0.6"/>
<text transform="translate(405.24,49.5) rotate(-45)" font-size="6.1" fill="#333" stroke="none">FU18</text>
<path d="M414.16 51.2V54" stroke="#111" stroke-width="0.6"/>
<text transform="translate(414.56,49.5) rotate(-45)" font-size="6.1" fill="#333" stroke="none">FU24</text>
<path d="M423.47 51.2V54" stroke="#111" stroke-width="0.6"/>
<text transform="translate(423.87,49.5) rotate(-45)" font-size="6.1" fill="#333" stroke="none">FU30</text>
<path d="M432.79 51.2V54" stroke="#111" stroke-width="0.6"/>
<text transform="translate(433.19,49.5) rotate(-45)" font-size="6.1" fill="#333" stroke="none">FU36</text>
<path d="M442.11 51.2V54" stroke="#111" stroke-width="0.6"/>
<text transform="translate(442.51,49.5) rotate(-45)" font-size="6.1" fill="#333" stroke="none">FU42</text>
<path d="M451.42 51.2V54" stroke="#111" stroke-width="0.6"/>
<text transform="translate(451.82,49.5) rotate(-45)" font-size="6.1" fill="#333" stroke="none">FU48</text>
<path d="M460.74 51.2V54" stroke="#111" stroke-width="0.6"/>
<text transform="translate(461.14,49.5) rotate(-45)" font-size="6.1" fill="#333" stroke="none">FU54</text>
<path d="M470.05 51.2V54" stroke="#111" stroke-width="0.6"/>
<text transform="translate(470.45,49.5) rotate(-45)" font-size="6.1" fill="#333" stroke="none">FU60</text>
<path d="M479.37 51.2V54" stroke="#111" stroke-width="0.6"/>
<text transform="translate(479.77,49.5) rotate(-45)" font-size="6.1" fill="#333" stroke="none">FU66</text>
<path d="M488.68 51.2V54" stroke="#111" stroke-width="0.6"/>
<text transform="translate(489.08,49.5) rotate(-45)" font-size="6.1" fill="#333" stroke="none">FU72</text>
<path d="M498 51.2V54" stroke="#111" stroke-width="0.6"/>
<text transform="translate(498.4,49.5) rotate(-45)" font-size="6.1" fill="#333" stroke="none">FU78</text>
<text transform="translate(283.4,116.3) rotate(-90)" font-size="6.4" text-anchor="middle" fill="#444" stroke="none">Percent</text>
<text x="409.3" y="30.5" font-size="8.8" text-anchor="middle" textLength="29.6" lengthAdjust="spacingAndGlyphs" fill="#222" stroke="none">Clb-Obi</text>
<text x="258.1" y="16.2" font-size="11.8" font-weight="bold" fill="#111">B</text>
<text x="402.7" y="187.2" font-size="6" fill="#333" stroke="none">MRD:</text>
<rect x="315.5" y="193.1" width="3.3" height="3.3" fill="#237a4c" stroke="rgba(0,0,0,0.45)" stroke-width="0.5"/>
<text x="322" y="196.8" font-size="6.6" textLength="16.7" lengthAdjust="spacingAndGlyphs" fill="#333" stroke="none">&lt; 10<tspan font-size="4" dy="-2.6">-6</tspan></text>
<rect x="345.6" y="193.1" width="3.3" height="3.3" fill="#48b275" stroke="rgba(0,0,0,0.45)" stroke-width="0.5"/>
<text x="351" y="196.8" font-size="6.6" textLength="49.5" lengthAdjust="spacingAndGlyphs" fill="#333" stroke="none">≥ 10<tspan font-size="4" dy="-2.6">-6</tspan><tspan dy="2.6"> and &lt; 10</tspan><tspan font-size="4" dy="-2.6">-5</tspan></text>
<rect x="405.8" y="193.1" width="3.3" height="3.3" fill="#aadcbe" stroke="rgba(0,0,0,0.45)" stroke-width="0.5"/>
<text x="411.2" y="196.8" font-size="6.6" textLength="49.2" lengthAdjust="spacingAndGlyphs" fill="#333" stroke="none">≥ 10<tspan font-size="4" dy="-2.6">-5</tspan><tspan dy="2.6"> and &lt; 10</tspan><tspan font-size="4" dy="-2.6">-4</tspan></text>
<rect x="466.4" y="193.1" width="3.3" height="3.3" fill="#faaa1e" stroke="rgba(0,0,0,0.45)" stroke-width="0.5"/>
<text x="472" y="196.8" font-size="6.6" textLength="19.8" lengthAdjust="spacingAndGlyphs" fill="#333" stroke="none">L-MRD</text>
<rect x="315.5" y="203.2" width="3.3" height="3.3" fill="#eb0a14" stroke="rgba(0,0,0,0.45)" stroke-width="0.5"/>
<text x="322" y="206.9" font-size="6.6" textLength="20.5" lengthAdjust="spacingAndGlyphs" fill="#333" stroke="none">H-MRD</text>
<rect x="349.2" y="203.2" width="3.3" height="3.3" fill="#8e8c8e" stroke="rgba(0,0,0,0.45)" stroke-width="0.5"/>
<text x="355.3" y="206.9" font-size="6.6" textLength="21.7" lengthAdjust="spacingAndGlyphs" fill="#333" stroke="none">Missing</text>
<rect x="383.8" y="203.2" width="3.3" height="3.3" fill="#afaa8c" stroke="rgba(0,0,0,0.45)" stroke-width="0.5"/>
<text x="389.6" y="206.9" font-size="6.6" textLength="28.1" lengthAdjust="spacingAndGlyphs" fill="#333" stroke="none">PD/Death</text>
<rect x="424" y="203.2" width="3.3" height="3.3" fill="#f0ec10" stroke="rgba(0,0,0,0.45)" stroke-width="0.5"/>
<text x="431" y="206.9" font-size="6.6" textLength="27" lengthAdjust="spacingAndGlyphs" fill="#333" stroke="none">Withdrew</text>
<text x="6.4" y="233.2" font-size="11.8" font-weight="bold" fill="#111">C</text>
<text x="153.5" y="242.6" font-size="8.8" text-anchor="middle" textLength="31.2" lengthAdjust="spacingAndGlyphs" fill="#222" stroke="none">Ven-Obi</text>
<path d="M62.5 252.5H78.5V255.5H94.5V257.5H111.5V259.5H118.5V262.5H125.5V263.5H131.5V264.5H135.5V267.5H142.5V269.5H146.5V270.5H149.5V272.5H152.5V273.5H155.5V275.5H157.5V276.5H160.5V278.5H162.5V279.5H165.5V281.5H170.5V283.5H175.5V285.5H177.5V287.5H178.5V288.5H182.5V289.5H185.5V291.5H188.5V293.5H190.5V295.5H193.5V297.5H195.5V298.5H201.5V300.5H203.5V312.5H205.5" stroke="#6cbf5a" stroke-width="0.9" fill="none"/>
<path d="M62.5 252.5H66.5V253.5H72.5V255.5H94.5V258.5H111.5V261.5H118.5V263.5H131.5V267.5H142.5V270.5H144.5V275.5H150.5V278.5H156.5V282.5H176.5V285.5H184.5V288.5H187.5V293.5H189.5V299.5H191.5V303.5H213.5" stroke="#4565a8" stroke-width="0.9" fill="none"/>
<path d="M62.5 252.5H66.5V253.5H72.5V255.5H89.5V261.5H112.5V265.5H119.5V270.5H131.5V272.5H142.5V275.5H144.5V278.5H152.5V283.5H156.5V288.5H161.5V293.5H164.5V302.5H167.5V308.5H211.5" stroke="#564a80" stroke-width="0.9" fill="none"/>
<path d="M62.5 252.5H71.5V256.5H72.5V262.5H74.5V266.5H78.5V270.5H79.5V284.5H80.5V288.5H90.5V292.5H96.5V297.5H108.5V300.5H110.5V305.5H119.5V310.5H130.5V314.5H147.5V318.5H166.5V323.5H171.5V327.5H212.5" stroke="#c8566f" stroke-width="0.9" fill="none"/>
<path d="M195.5 296.3V298.7M194.7 297.5H196.3" stroke="#6cbf5a" stroke-width="0.9" fill="none"/>
<path d="M200.5 297.3V299.7M199.7 298.5H201.3" stroke="#6cbf5a" stroke-width="0.9" fill="none"/>
<path d="M193.5 302.3V304.7M192.7 303.5H194.3" stroke="#4565a8" stroke-width="0.9" fill="none"/>
<path d="M199.5 302.3V304.7M198.7 303.5H200.3" stroke="#4565a8" stroke-width="0.9" fill="none"/>
<path d="M212.5 302.3V304.7M211.7 303.5H213.3" stroke="#4565a8" stroke-width="0.9" fill="none"/>
<path d="M188.5 307.3V309.7M187.7 308.5H189.3" stroke="#564a80" stroke-width="0.9" fill="none"/>
<path d="M193.5 307.3V309.7M192.7 308.5H194.3" stroke="#564a80" stroke-width="0.9" fill="none"/>
<path d="M199.5 307.3V309.7M198.7 308.5H200.3" stroke="#564a80" stroke-width="0.9" fill="none"/>
<path d="M202.5 307.3V309.7M201.7 308.5H203.3" stroke="#564a80" stroke-width="0.9" fill="none"/>
<path d="M210.5 307.3V309.7M209.7 308.5H211.3" stroke="#564a80" stroke-width="0.9" fill="none"/>
<path d="M188.5 326.3V328.7M187.7 327.5H189.3" stroke="#c8566f" stroke-width="0.9" fill="none"/>
<path d="M199.5 326.3V328.7M198.7 327.5H200.3" stroke="#c8566f" stroke-width="0.9" fill="none"/>
<path d="M212.5 326.3V328.7M211.7 327.5H213.3" stroke="#c8566f" stroke-width="0.9" fill="none"/>
<path d="M62.3 247.5V350.7M61.7 350H245.4" stroke="#111" stroke-width="1.3" fill="none"/>
<path d="M59.2 350H62.2" stroke="#111" stroke-width="0.8"/>
<text x="56.2" y="352.4" font-size="6.7" text-anchor="end" textLength="3.27" lengthAdjust="spacingAndGlyphs" fill="#222" stroke="#222" stroke-width="0.18">0</text>
<path d="M59.2 340.27H62.2" stroke="#111" stroke-width="0.8"/>
<text x="56.2" y="342.67" font-size="6.7" text-anchor="end" textLength="6.54" lengthAdjust="spacingAndGlyphs" fill="#222" stroke="#222" stroke-width="0.18">10</text>
<path d="M59.2 330.54H62.2" stroke="#111" stroke-width="0.8"/>
<text x="56.2" y="332.94" font-size="6.7" text-anchor="end" textLength="6.54" lengthAdjust="spacingAndGlyphs" fill="#222" stroke="#222" stroke-width="0.18">20</text>
<path d="M59.2 320.81H62.2" stroke="#111" stroke-width="0.8"/>
<text x="56.2" y="323.21" font-size="6.7" text-anchor="end" textLength="6.54" lengthAdjust="spacingAndGlyphs" fill="#222" stroke="#222" stroke-width="0.18">30</text>
<path d="M59.2 311.08H62.2" stroke="#111" stroke-width="0.8"/>
<text x="56.2" y="313.48" font-size="6.7" text-anchor="end" textLength="6.54" lengthAdjust="spacingAndGlyphs" fill="#222" stroke="#222" stroke-width="0.18">40</text>
<path d="M59.2 301.35H62.2" stroke="#111" stroke-width="0.8"/>
<text x="56.2" y="303.75" font-size="6.7" text-anchor="end" textLength="6.54" lengthAdjust="spacingAndGlyphs" fill="#222" stroke="#222" stroke-width="0.18">50</text>
<path d="M59.2 291.62H62.2" stroke="#111" stroke-width="0.8"/>
<text x="56.2" y="294.02" font-size="6.7" text-anchor="end" textLength="6.54" lengthAdjust="spacingAndGlyphs" fill="#222" stroke="#222" stroke-width="0.18">60</text>
<path d="M59.2 281.89H62.2" stroke="#111" stroke-width="0.8"/>
<text x="56.2" y="284.29" font-size="6.7" text-anchor="end" textLength="6.54" lengthAdjust="spacingAndGlyphs" fill="#222" stroke="#222" stroke-width="0.18">70</text>
<path d="M59.2 272.16H62.2" stroke="#111" stroke-width="0.8"/>
<text x="56.2" y="274.56" font-size="6.7" text-anchor="end" textLength="6.54" lengthAdjust="spacingAndGlyphs" fill="#222" stroke="#222" stroke-width="0.18">80</text>
<path d="M59.2 262.43H62.2" stroke="#111" stroke-width="0.8"/>
<text x="56.2" y="264.83" font-size="6.7" text-anchor="end" textLength="6.54" lengthAdjust="spacingAndGlyphs" fill="#222" stroke="#222" stroke-width="0.18">90</text>
<path d="M59.2 252.7H62.2" stroke="#111" stroke-width="0.8"/>
<text x="56.2" y="255.1" font-size="6.7" text-anchor="end" textLength="9.81" lengthAdjust="spacingAndGlyphs" fill="#222" stroke="#222" stroke-width="0.18">100</text>
<path d="M62.2 350V352.8" stroke="#111" stroke-width="0.8"/>
<text x="62.5" y="362" font-size="6.5" text-anchor="middle" textLength="3.5" lengthAdjust="spacingAndGlyphs" fill="#222" stroke="#222" stroke-width="0.18">0</text>
<path d="M85.4 350V352.8" stroke="#111" stroke-width="0.8"/>
<text x="85.7" y="362" font-size="6.5" text-anchor="middle" textLength="7" lengthAdjust="spacingAndGlyphs" fill="#222" stroke="#222" stroke-width="0.18">12</text>
<path d="M108.59 350V352.8" stroke="#111" stroke-width="0.8"/>
<text x="108.89" y="362" font-size="6.5" text-anchor="middle" textLength="7" lengthAdjust="spacingAndGlyphs" fill="#222" stroke="#222" stroke-width="0.18">24</text>
<path d="M131.79 350V352.8" stroke="#111" stroke-width="0.8"/>
<text x="132.09" y="362" font-size="6.5" text-anchor="middle" textLength="7" lengthAdjust="spacingAndGlyphs" fill="#222" stroke="#222" stroke-width="0.18">36</text>
<path d="M154.98 350V352.8" stroke="#111" stroke-width="0.8"/>
<text x="155.28" y="362" font-size="6.5" text-anchor="middle" textLength="7" lengthAdjust="spacingAndGlyphs" fill="#222" stroke="#222" stroke-width="0.18">48</text>
<path d="M178.18 350V352.8" stroke="#111" stroke-width="0.8"/>
<text x="178.48" y="362" font-size="6.5" text-anchor="middle" textLength="7" lengthAdjust="spacingAndGlyphs" fill="#222" stroke="#222" stroke-width="0.18">60</text>
<path d="M201.38 350V352.8" stroke="#111" stroke-width="0.8"/>
<text x="201.68" y="362" font-size="6.5" text-anchor="middle" textLength="7" lengthAdjust="spacingAndGlyphs" fill="#222" stroke="#222" stroke-width="0.18">72</text>
<path d="M224.57 350V352.8" stroke="#111" stroke-width="0.8"/>
<text x="224.87" y="362" font-size="6.5" text-anchor="middle" textLength="7" lengthAdjust="spacingAndGlyphs" fill="#222" stroke="#222" stroke-width="0.18">84</text>
<text x="70.4" y="373.3" font-size="8.6" textLength="173" lengthAdjust="spacingAndGlyphs" fill="#222" stroke="#222" stroke-width="0.18">Time to event [PFS] from last treatment exposure (months)</text>
<text transform="translate(30.3,299.1) rotate(-90)" font-size="8.4" text-anchor="middle" textLength="85.8" lengthAdjust="spacingAndGlyphs" fill="#222" stroke="#222" stroke-width="0.18">Cumulative progression-free</text>
<text transform="translate(39.8,298.6) rotate(-90)" font-size="8.4" text-anchor="middle" textLength="22.4" lengthAdjust="spacingAndGlyphs" fill="#222" stroke="#222" stroke-width="0.18">survival</text>
<text x="55.8" y="384" font-size="6.8" text-anchor="end" textLength="17.3" lengthAdjust="spacingAndGlyphs" fill="#74c070" stroke="none">&lt; 10<tspan font-size="4.4" dy="-2.9">-6</tspan></text>
<text x="62.5" y="384" font-size="6.6" text-anchor="middle" textLength="6.7" lengthAdjust="spacingAndGlyphs" fill="#333" stroke="#333" stroke-width="0.18">90</text>
<text x="85.7" y="384" font-size="6.6" text-anchor="middle" textLength="6.7" lengthAdjust="spacingAndGlyphs" fill="#333" stroke="#333" stroke-width="0.18">86</text>
<text x="108.89" y="384" font-size="6.6" text-anchor="middle" textLength="6.7" lengthAdjust="spacingAndGlyphs" fill="#333" stroke="#333" stroke-width="0.18">79</text>
<text x="132.09" y="384" font-size="6.6" text-anchor="middle" textLength="6.7" lengthAdjust="spacingAndGlyphs" fill="#333" stroke="#333" stroke-width="0.18">73</text>
<text x="155.28" y="384" font-size="6.6" text-anchor="middle" textLength="6.7" lengthAdjust="spacingAndGlyphs" fill="#333" stroke="#333" stroke-width="0.18">63</text>
<text x="178.48" y="384" font-size="6.6" text-anchor="middle" textLength="6.7" lengthAdjust="spacingAndGlyphs" fill="#333" stroke="#333" stroke-width="0.18">38</text>
<text x="201.68" y="384" font-size="6.6" text-anchor="middle" textLength="3.35" lengthAdjust="spacingAndGlyphs" fill="#333" stroke="#333" stroke-width="0.18">4</text>
<text x="224.87" y="384" font-size="6.6" text-anchor="middle" textLength="3.35" lengthAdjust="spacingAndGlyphs" fill="#333" stroke="#333" stroke-width="0.18">0</text>
<text x="55.8" y="401.5" font-size="6.8" text-anchor="end" textLength="47.8" lengthAdjust="spacingAndGlyphs" fill="#7588c4" stroke="none">≥ 10<tspan font-size="4.4" dy="-2.9">-6</tspan><tspan dy="2.9"> and &lt; 10</tspan><tspan font-size="4.4" dy="-2.9">-5</tspan></text>
<text x="62.5" y="401.5" font-size="6.6" text-anchor="middle" textLength="6.7" lengthAdjust="spacingAndGlyphs" fill="#333" stroke="#333" stroke-width="0.18">56</text>
<text x="85.7" y="401.5" font-size="6.6" text-anchor="middle" textLength="6.7" lengthAdjust="spacingAndGlyphs" fill="#333" stroke="#333" stroke-width="0.18">53</text>
<text x="108.89" y="401.5" font-size="6.6" text-anchor="middle" textLength="6.7" lengthAdjust="spacingAndGlyphs" fill="#333" stroke="#333" stroke-width="0.18">50</text>
<text x="132.09" y="401.5" font-size="6.6" text-anchor="middle" textLength="6.7" lengthAdjust="spacingAndGlyphs" fill="#333" stroke="#333" stroke-width="0.18">40</text>
<text x="155.28" y="401.5" font-size="6.6" text-anchor="middle" textLength="6.7" lengthAdjust="spacingAndGlyphs" fill="#333" stroke="#333" stroke-width="0.18">33</text>
<text x="178.48" y="401.5" font-size="6.6" text-anchor="middle" textLength="6.7" lengthAdjust="spacingAndGlyphs" fill="#333" stroke="#333" stroke-width="0.18">26</text>
<text x="201.68" y="401.5" font-size="6.6" text-anchor="middle" textLength="3.35" lengthAdjust="spacingAndGlyphs" fill="#333" stroke="#333" stroke-width="0.18">2</text>
<text x="224.87" y="401.5" font-size="6.6" text-anchor="middle" textLength="3.35" lengthAdjust="spacingAndGlyphs" fill="#333" stroke="#333" stroke-width="0.18">0</text>
<text x="55.8" y="419.3" font-size="6.8" text-anchor="end" textLength="47.8" lengthAdjust="spacingAndGlyphs" fill="#9484a8" stroke="none">≥ 10<tspan font-size="4.4" dy="-2.9">-5</tspan><tspan dy="2.9"> and &lt; 10</tspan><tspan font-size="4.4" dy="-2.9">-4</tspan></text>
<text x="62.5" y="419.3" font-size="6.6" text-anchor="middle" textLength="6.7" lengthAdjust="spacingAndGlyphs" fill="#333" stroke="#333" stroke-width="0.18">23</text>
<text x="85.7" y="419.3" font-size="6.6" text-anchor="middle" textLength="6.7" lengthAdjust="spacingAndGlyphs" fill="#333" stroke="#333" stroke-width="0.18">22</text>
<text x="108.89" y="419.3" font-size="6.6" text-anchor="middle" textLength="6.7" lengthAdjust="spacingAndGlyphs" fill="#333" stroke="#333" stroke-width="0.18">20</text>
<text x="132.09" y="419.3" font-size="6.6" text-anchor="middle" textLength="6.7" lengthAdjust="spacingAndGlyphs" fill="#333" stroke="#333" stroke-width="0.18">17</text>
<text x="155.28" y="419.3" font-size="6.6" text-anchor="middle" textLength="6.7" lengthAdjust="spacingAndGlyphs" fill="#333" stroke="#333" stroke-width="0.18">14</text>
<text x="178.48" y="419.3" font-size="6.6" text-anchor="middle" textLength="3.35" lengthAdjust="spacingAndGlyphs" fill="#333" stroke="#333" stroke-width="0.18">8</text>
<text x="201.68" y="419.3" font-size="6.6" text-anchor="middle" textLength="3.35" lengthAdjust="spacingAndGlyphs" fill="#333" stroke="#333" stroke-width="0.18">2</text>
<text x="224.87" y="419.3" font-size="6.6" text-anchor="middle" textLength="3.35" lengthAdjust="spacingAndGlyphs" fill="#333" stroke="#333" stroke-width="0.18">0</text>
<text x="55.8" y="436.8" font-size="6.8" text-anchor="end" textLength="17.3" lengthAdjust="spacingAndGlyphs" fill="#d45a7e" stroke="none">≥ 10<tspan font-size="4.4" dy="-2.9">-4</tspan></text>
<text x="62.5" y="436.8" font-size="6.6" text-anchor="middle" textLength="6.7" lengthAdjust="spacingAndGlyphs" fill="#333" stroke="#333" stroke-width="0.18">23</text>
<text x="85.7" y="436.8" font-size="6.6" text-anchor="middle" textLength="6.7" lengthAdjust="spacingAndGlyphs" fill="#333" stroke="#333" stroke-width="0.18">14</text>
<text x="108.89" y="436.8" font-size="6.6" text-anchor="middle" textLength="6.7" lengthAdjust="spacingAndGlyphs" fill="#333" stroke="#333" stroke-width="0.18">11</text>
<text x="132.09" y="436.8" font-size="6.6" text-anchor="middle" textLength="3.35" lengthAdjust="spacingAndGlyphs" fill="#333" stroke="#333" stroke-width="0.18">8</text>
<text x="155.28" y="436.8" font-size="6.6" text-anchor="middle" textLength="3.35" lengthAdjust="spacingAndGlyphs" fill="#333" stroke="#333" stroke-width="0.18">7</text>
<text x="178.48" y="436.8" font-size="6.6" text-anchor="middle" textLength="3.35" lengthAdjust="spacingAndGlyphs" fill="#333" stroke="#333" stroke-width="0.18">5</text>
<text x="201.68" y="436.8" font-size="6.6" text-anchor="middle" textLength="3.35" lengthAdjust="spacingAndGlyphs" fill="#333" stroke="#333" stroke-width="0.18">1</text>
<text x="224.87" y="436.8" font-size="6.6" text-anchor="middle" textLength="3.35" lengthAdjust="spacingAndGlyphs" fill="#333" stroke="#333" stroke-width="0.18">0</text>
<text x="258.1" y="233.2" font-size="11.8" font-weight="bold" fill="#111">D</text>
<text x="412.3" y="244.4" font-size="8.8" text-anchor="middle" textLength="30.2" lengthAdjust="spacingAndGlyphs" fill="#222" stroke="none">Clb-Obi</text>
<path d="M322.5 253.5H370.5V260.5H397.5V268.5H437.5V275.5H460.5" stroke="#6cbf5a" stroke-width="0.9" fill="none"/>
<path d="M322.5 253.5H339.5V255.5H345.5V258.5H351.5V262.5H365.5V264.5H367.5V269.5H370.5V274.5H377.5V278.5H380.5V280.5H388.5V282.5H390.5V283.5H393.5V286.5H402.5V292.5H408.5V295.5H412.5V300.5H419.5V303.5H436.5V305.5H446.5V310.5H448.5V315.5H458.5V333.5H470.5" stroke="#4565a8" stroke-width="0.9" fill="none"/>
<path d="M322.5 253.5H339.5V255.5H345.5V260.5H351.5V264.5H365.5V266.5H367.5V272.5H370.5V276.5H380.5V282.5H392.5V288.5H403.5V294.5H412.5V302.5H419.5V305.5H430.5V306.5H437.5V312.5H445.5V316.5H447.5V322.5H451.5V329.5H453.5V333.5H470.5" stroke="#564a80" stroke-width="0.9" fill="none"/>
<path d="M322.5 253.5H323.5V254.5H325.5V258.5H327.5V266.5H328.5V272.5H334.5V276.5H336.5V280.5H339.5V286.5H342.5V292.5H345.5V298.5H349.5V301.5H353.5V303.5H356.5V306.5H359.5V309.5H367.5V311.5H369.5V318.5H375.5V320.5H378.5V323.5H381.5V331.5H386.5V333.5H401.5V336.5H412.5V338.5H436.5V341.5H445.5V343.5H464.5" stroke="#c8566f" stroke-width="0.9" fill="none"/>
<path d="M447.5 274.3V276.7M446.7 275.5H448.3" stroke="#6cbf5a" stroke-width="0.9" fill="none"/>
<path d="M452.5 274.3V276.7M451.7 275.5H453.3" stroke="#6cbf5a" stroke-width="0.9" fill="none"/>
<path d="M456.5 274.3V276.7M455.7 275.5H457.3" stroke="#6cbf5a" stroke-width="0.9" fill="none"/>
<path d="M445.5 304.3V306.7M444.7 305.5H446.3" stroke="#4565a8" stroke-width="0.9" fill="none"/>
<path d="M455.5 314.3V316.7M454.7 315.5H456.3" stroke="#4565a8" stroke-width="0.9" fill="none"/>
<path d="M463.5 332.3V334.7M462.7 333.5H464.3" stroke="#4565a8" stroke-width="0.9" fill="none"/>
<path d="M468.5 332.3V334.7M467.7 333.5H469.3" stroke="#4565a8" stroke-width="0.9" fill="none"/>
<path d="M462.5 332.3V334.7M461.7 333.5H463.3" stroke="#564a80" stroke-width="0.9" fill="none"/>
<path d="M467.5 332.3V334.7M466.7 333.5H468.3" stroke="#564a80" stroke-width="0.9" fill="none"/>
<path d="M445.5 342.3V344.7M444.7 343.5H446.3" stroke="#c8566f" stroke-width="0.9" fill="none"/>
<path d="M453.5 342.3V344.7M452.7 343.5H454.3" stroke="#c8566f" stroke-width="0.9" fill="none"/>
<path d="M457.5 342.3V344.7M456.7 343.5H458.3" stroke="#c8566f" stroke-width="0.9" fill="none"/>
<path d="M463.5 342.3V344.7M462.7 343.5H464.3" stroke="#c8566f" stroke-width="0.9" fill="none"/>
<path d="M322.1 248.4V350.7M321.5 350H502.1" stroke="#111" stroke-width="1.3" fill="none"/>
<path d="M319 350H322" stroke="#111" stroke-width="0.8"/>
<text x="316" y="352.4" font-size="6.7" text-anchor="end" textLength="3.27" lengthAdjust="spacingAndGlyphs" fill="#222" stroke="#222" stroke-width="0.18">0</text>
<path d="M319 340.4H322" stroke="#111" stroke-width="0.8"/>
<text x="316" y="342.8" font-size="6.7" text-anchor="end" textLength="6.54" lengthAdjust="spacingAndGlyphs" fill="#222" stroke="#222" stroke-width="0.18">10</text>
<path d="M319 330.8H322" stroke="#111" stroke-width="0.8"/>
<text x="316" y="333.2" font-size="6.7" text-anchor="end" textLength="6.54" lengthAdjust="spacingAndGlyphs" fill="#222" stroke="#222" stroke-width="0.18">20</text>
<path d="M319 321.2H322" stroke="#111" stroke-width="0.8"/>
<text x="316" y="323.6" font-size="6.7" text-anchor="end" textLength="6.54" lengthAdjust="spacingAndGlyphs" fill="#222" stroke="#222" stroke-width="0.18">30</text>
<path d="M319 311.6H322" stroke="#111" stroke-width="0.8"/>
<text x="316" y="314" font-size="6.7" text-anchor="end" textLength="6.54" lengthAdjust="spacingAndGlyphs" fill="#222" stroke="#222" stroke-width="0.18">40</text>
<path d="M319 302H322" stroke="#111" stroke-width="0.8"/>
<text x="316" y="304.4" font-size="6.7" text-anchor="end" textLength="6.54" lengthAdjust="spacingAndGlyphs" fill="#222" stroke="#222" stroke-width="0.18">50</text>
<path d="M319 292.4H322" stroke="#111" stroke-width="0.8"/>
<text x="316" y="294.8" font-size="6.7" text-anchor="end" textLength="6.54" lengthAdjust="spacingAndGlyphs" fill="#222" stroke="#222" stroke-width="0.18">60</text>
<path d="M319 282.8H322" stroke="#111" stroke-width="0.8"/>
<text x="316" y="285.2" font-size="6.7" text-anchor="end" textLength="6.54" lengthAdjust="spacingAndGlyphs" fill="#222" stroke="#222" stroke-width="0.18">70</text>
<path d="M319 273.2H322" stroke="#111" stroke-width="0.8"/>
<text x="316" y="275.6" font-size="6.7" text-anchor="end" textLength="6.54" lengthAdjust="spacingAndGlyphs" fill="#222" stroke="#222" stroke-width="0.18">80</text>
<path d="M319 263.6H322" stroke="#111" stroke-width="0.8"/>
<text x="316" y="266" font-size="6.7" text-anchor="end" textLength="6.54" lengthAdjust="spacingAndGlyphs" fill="#222" stroke="#222" stroke-width="0.18">90</text>
<path d="M319 254H322" stroke="#111" stroke-width="0.8"/>
<text x="316" y="256.4" font-size="6.7" text-anchor="end" textLength="9.81" lengthAdjust="spacingAndGlyphs" fill="#222" stroke="#222" stroke-width="0.18">100</text>
<path d="M322 350V352.8" stroke="#111" stroke-width="0.8"/>
<text x="322.3" y="362" font-size="6.5" text-anchor="middle" textLength="3.5" lengthAdjust="spacingAndGlyphs" fill="#222" stroke="#222" stroke-width="0.18">0</text>
<path d="M344.81 350V352.8" stroke="#111" stroke-width="0.8"/>
<text x="345.11" y="362" font-size="6.5" text-anchor="middle" textLength="7" lengthAdjust="spacingAndGlyphs" fill="#222" stroke="#222" stroke-width="0.18">12</text>
<path d="M367.62 350V352.8" stroke="#111" stroke-width="0.8"/>
<text x="367.92" y="362" font-size="6.5" text-anchor="middle" textLength="7" lengthAdjust="spacingAndGlyphs" fill="#222" stroke="#222" stroke-width="0.18">24</text>
<path d="M390.44 350V352.8" stroke="#111" stroke-width="0.8"/>
<text x="390.74" y="362" font-size="6.5" text-anchor="middle" textLength="7" lengthAdjust="spacingAndGlyphs" fill="#222" stroke="#222" stroke-width="0.18">36</text>
<path d="M413.25 350V352.8" stroke="#111" stroke-width="0.8"/>
<text x="413.55" y="362" font-size="6.5" text-anchor="middle" textLength="7" lengthAdjust="spacingAndGlyphs" fill="#222" stroke="#222" stroke-width="0.18">48</text>
<path d="M436.06 350V352.8" stroke="#111" stroke-width="0.8"/>
<text x="436.36" y="362" font-size="6.5" text-anchor="middle" textLength="7" lengthAdjust="spacingAndGlyphs" fill="#222" stroke="#222" stroke-width="0.18">60</text>
<path d="M458.87 350V352.8" stroke="#111" stroke-width="0.8"/>
<text x="459.17" y="362" font-size="6.5" text-anchor="middle" textLength="7" lengthAdjust="spacingAndGlyphs" fill="#222" stroke="#222" stroke-width="0.18">72</text>
<path d="M481.68 350V352.8" stroke="#111" stroke-width="0.8"/>
<text x="481.98" y="362" font-size="6.5" text-anchor="middle" textLength="7" lengthAdjust="spacingAndGlyphs" fill="#222" stroke="#222" stroke-width="0.18">84</text>
<text x="330.2" y="373.3" font-size="8.6" textLength="173" lengthAdjust="spacingAndGlyphs" fill="#222" stroke="#222" stroke-width="0.18">Time to event [PFS] from last treatment exposure (months)</text>
<text transform="translate(290.3,299.1) rotate(-90)" font-size="8.4" text-anchor="middle" textLength="85.8" lengthAdjust="spacingAndGlyphs" fill="#222" stroke="#222" stroke-width="0.18">Cumulative progression-free</text>
<text transform="translate(299.8,298.6) rotate(-90)" font-size="8.4" text-anchor="middle" textLength="22.4" lengthAdjust="spacingAndGlyphs" fill="#222" stroke="#222" stroke-width="0.18">survival</text>
<text x="312" y="384" font-size="6.8" text-anchor="end" textLength="17.3" lengthAdjust="spacingAndGlyphs" fill="#74c070" stroke="none">&lt; 10<tspan font-size="4.4" dy="-2.9">-6</tspan></text>
<text x="322.3" y="384" font-size="6.6" text-anchor="middle" textLength="6.7" lengthAdjust="spacingAndGlyphs" fill="#333" stroke="#333" stroke-width="0.18">14</text>
<text x="345.11" y="384" font-size="6.6" text-anchor="middle" textLength="6.7" lengthAdjust="spacingAndGlyphs" fill="#333" stroke="#333" stroke-width="0.18">14</text>
<text x="367.92" y="384" font-size="6.6" text-anchor="middle" textLength="6.7" lengthAdjust="spacingAndGlyphs" fill="#333" stroke="#333" stroke-width="0.18">14</text>
<text x="390.74" y="384" font-size="6.6" text-anchor="middle" textLength="6.7" lengthAdjust="spacingAndGlyphs" fill="#333" stroke="#333" stroke-width="0.18">12</text>
<text x="413.55" y="384" font-size="6.6" text-anchor="middle" textLength="6.7" lengthAdjust="spacingAndGlyphs" fill="#333" stroke="#333" stroke-width="0.18">11</text>
<text x="436.36" y="384" font-size="6.6" text-anchor="middle" textLength="6.7" lengthAdjust="spacingAndGlyphs" fill="#333" stroke="#333" stroke-width="0.18">11</text>
<text x="459.17" y="384" font-size="6.6" text-anchor="middle" textLength="3.35" lengthAdjust="spacingAndGlyphs" fill="#333" stroke="#333" stroke-width="0.18">1</text>
<text x="481.98" y="384" font-size="6.6" text-anchor="middle" textLength="3.35" lengthAdjust="spacingAndGlyphs" fill="#333" stroke="#333" stroke-width="0.18">0</text>
<text x="312" y="401.5" font-size="6.8" text-anchor="end" textLength="47.8" lengthAdjust="spacingAndGlyphs" fill="#7588c4" stroke="none">≥ 10<tspan font-size="4.4" dy="-2.9">-6</tspan><tspan dy="2.9"> and &lt; 10</tspan><tspan font-size="4.4" dy="-2.9">-5</tspan></text>
<text x="322.3" y="401.5" font-size="6.6" text-anchor="middle" textLength="6.7" lengthAdjust="spacingAndGlyphs" fill="#333" stroke="#333" stroke-width="0.18">29</text>
<text x="345.11" y="401.5" font-size="6.6" text-anchor="middle" textLength="6.7" lengthAdjust="spacingAndGlyphs" fill="#333" stroke="#333" stroke-width="0.18">29</text>
<text x="367.92" y="401.5" font-size="6.6" text-anchor="middle" textLength="6.7" lengthAdjust="spacingAndGlyphs" fill="#333" stroke="#333" stroke-width="0.18">27</text>
<text x="390.74" y="401.5" font-size="6.6" text-anchor="middle" textLength="6.7" lengthAdjust="spacingAndGlyphs" fill="#333" stroke="#333" stroke-width="0.18">20</text>
<text x="413.55" y="401.5" font-size="6.6" text-anchor="middle" textLength="6.7" lengthAdjust="spacingAndGlyphs" fill="#333" stroke="#333" stroke-width="0.18">15</text>
<text x="436.36" y="401.5" font-size="6.6" text-anchor="middle" textLength="6.7" lengthAdjust="spacingAndGlyphs" fill="#333" stroke="#333" stroke-width="0.18">13</text>
<text x="459.17" y="401.5" font-size="6.6" text-anchor="middle" textLength="3.35" lengthAdjust="spacingAndGlyphs" fill="#333" stroke="#333" stroke-width="0.18">1</text>
<text x="481.98" y="401.5" font-size="6.6" text-anchor="middle" textLength="3.35" lengthAdjust="spacingAndGlyphs" fill="#333" stroke="#333" stroke-width="0.18">0</text>
<text x="312" y="419.3" font-size="6.8" text-anchor="end" textLength="47.8" lengthAdjust="spacingAndGlyphs" fill="#9484a8" stroke="none">≥ 10<tspan font-size="4.4" dy="-2.9">-5</tspan><tspan dy="2.9"> and &lt; 10</tspan><tspan font-size="4.4" dy="-2.9">-4</tspan></text>
<text x="322.3" y="419.3" font-size="6.6" text-anchor="middle" textLength="6.7" lengthAdjust="spacingAndGlyphs" fill="#333" stroke="#333" stroke-width="0.18">31</text>
<text x="345.11" y="419.3" font-size="6.6" text-anchor="middle" textLength="6.7" lengthAdjust="spacingAndGlyphs" fill="#333" stroke="#333" stroke-width="0.18">30</text>
<text x="367.92" y="419.3" font-size="6.6" text-anchor="middle" textLength="6.7" lengthAdjust="spacingAndGlyphs" fill="#333" stroke="#333" stroke-width="0.18">26</text>
<text x="390.74" y="419.3" font-size="6.6" text-anchor="middle" textLength="6.7" lengthAdjust="spacingAndGlyphs" fill="#333" stroke="#333" stroke-width="0.18">20</text>
<text x="413.55" y="419.3" font-size="6.6" text-anchor="middle" textLength="6.7" lengthAdjust="spacingAndGlyphs" fill="#333" stroke="#333" stroke-width="0.18">13</text>
<text x="436.36" y="419.3" font-size="6.6" text-anchor="middle" textLength="3.35" lengthAdjust="spacingAndGlyphs" fill="#333" stroke="#333" stroke-width="0.18">9</text>
<text x="459.17" y="419.3" font-size="6.6" text-anchor="middle" textLength="3.35" lengthAdjust="spacingAndGlyphs" fill="#333" stroke="#333" stroke-width="0.18">2</text>
<text x="481.98" y="419.3" font-size="6.6" text-anchor="middle" textLength="3.35" lengthAdjust="spacingAndGlyphs" fill="#333" stroke="#333" stroke-width="0.18">0</text>
<text x="312" y="436.8" font-size="6.8" text-anchor="end" textLength="17.3" lengthAdjust="spacingAndGlyphs" fill="#d45a7e" stroke="none">≥ 10<tspan font-size="4.4" dy="-2.9">-4</tspan></text>
<text x="322.3" y="436.8" font-size="6.6" text-anchor="middle" textLength="10.05" lengthAdjust="spacingAndGlyphs" fill="#333" stroke="#333" stroke-width="0.18">112</text>
<text x="345.11" y="436.8" font-size="6.6" text-anchor="middle" textLength="6.7" lengthAdjust="spacingAndGlyphs" fill="#333" stroke="#333" stroke-width="0.18">64</text>
<text x="367.92" y="436.8" font-size="6.6" text-anchor="middle" textLength="6.7" lengthAdjust="spacingAndGlyphs" fill="#333" stroke="#333" stroke-width="0.18">42</text>
<text x="390.74" y="436.8" font-size="6.6" text-anchor="middle" textLength="6.7" lengthAdjust="spacingAndGlyphs" fill="#333" stroke="#333" stroke-width="0.18">18</text>
<text x="413.55" y="436.8" font-size="6.6" text-anchor="middle" textLength="6.7" lengthAdjust="spacingAndGlyphs" fill="#333" stroke="#333" stroke-width="0.18">11</text>
<text x="436.36" y="436.8" font-size="6.6" text-anchor="middle" textLength="3.35" lengthAdjust="spacingAndGlyphs" fill="#333" stroke="#333" stroke-width="0.18">9</text>
<text x="459.17" y="436.8" font-size="6.6" text-anchor="middle" textLength="3.35" lengthAdjust="spacingAndGlyphs" fill="#333" stroke="#333" stroke-width="0.18">1</text>
<text x="481.98" y="436.8" font-size="6.6" text-anchor="middle" textLength="3.35" lengthAdjust="spacingAndGlyphs" fill="#333" stroke="#333" stroke-width="0.18">0</text>
</svg></body></html>
